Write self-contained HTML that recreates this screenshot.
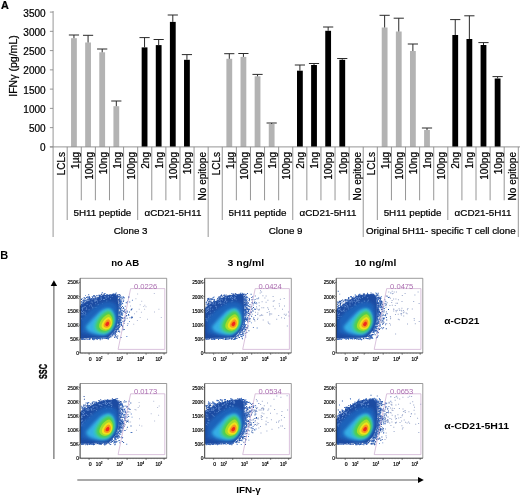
<!DOCTYPE html><html><head><meta charset="utf-8"><title>Figure</title><style>html,body{margin:0;padding:0;background:#fff}svg{display:block}text{font-family:"Liberation Sans",sans-serif}.pa text{stroke:#000;stroke-width:.22px}</style></head><body>
<svg width="520" height="496" viewBox="0 0 520 496">
<defs><filter id="b1" x="-20%" y="-20%" width="140%" height="140%"><feGaussianBlur stdDeviation="0.9"/></filter><filter id="b2" x="-20%" y="-20%" width="140%" height="140%"><feGaussianBlur stdDeviation="1.4"/></filter><filter id="b0" x="-5%" y="-5%" width="110%" height="110%"><feGaussianBlur stdDeviation="0.35"/></filter></defs>
<rect width="520" height="496" fill="#fff"/>
<g class="pa">
<text x="1" y="9" font-size="10.8" font-weight="bold" fill="#000">A</text>
<line x1="49.9" y1="146.90" x2="53.1" y2="146.90" stroke="#8a8a8a" stroke-width="0.9"/>
<text x="45.6" y="151.40" font-size="10" text-anchor="end" fill="#000">0</text>
<line x1="49.9" y1="127.64" x2="53.1" y2="127.64" stroke="#8a8a8a" stroke-width="0.9"/>
<text x="45.6" y="132.14" font-size="10" text-anchor="end" fill="#000">500</text>
<line x1="49.9" y1="108.38" x2="53.1" y2="108.38" stroke="#8a8a8a" stroke-width="0.9"/>
<text x="45.6" y="112.88" font-size="10" text-anchor="end" fill="#000">1000</text>
<line x1="49.9" y1="89.12" x2="53.1" y2="89.12" stroke="#8a8a8a" stroke-width="0.9"/>
<text x="45.6" y="93.62" font-size="10" text-anchor="end" fill="#000">1500</text>
<line x1="49.9" y1="69.86" x2="53.1" y2="69.86" stroke="#8a8a8a" stroke-width="0.9"/>
<text x="45.6" y="74.36" font-size="10" text-anchor="end" fill="#000">2000</text>
<line x1="49.9" y1="50.60" x2="53.1" y2="50.60" stroke="#8a8a8a" stroke-width="0.9"/>
<text x="45.6" y="55.10" font-size="10" text-anchor="end" fill="#000">2500</text>
<line x1="49.9" y1="31.34" x2="53.1" y2="31.34" stroke="#8a8a8a" stroke-width="0.9"/>
<text x="45.6" y="35.84" font-size="10" text-anchor="end" fill="#000">3000</text>
<line x1="49.9" y1="12.08" x2="53.1" y2="12.08" stroke="#8a8a8a" stroke-width="0.9"/>
<text x="45.6" y="16.58" font-size="10" text-anchor="end" fill="#000">3500</text>
<text transform="translate(16.9,66) rotate(-90)" font-size="10.55" text-anchor="middle" fill="#000">IFNγ (pg/mL)</text>
<rect x="71.05" y="38.20" width="5.8" height="108.70" fill="#b3b3b3"/>
<path d="M73.95 38.20V35.00M68.85 35.00H79.05" stroke="#2a2a2a" stroke-width="1" fill="none"/>
<rect x="85.17" y="42.50" width="5.8" height="104.40" fill="#b3b3b3"/>
<path d="M88.07 42.50V35.30M82.97 35.30H93.17" stroke="#2a2a2a" stroke-width="1" fill="none"/>
<rect x="99.29" y="52.30" width="5.8" height="94.60" fill="#b3b3b3"/>
<path d="M102.19 52.30V49.00M97.09 49.00H107.29" stroke="#2a2a2a" stroke-width="1" fill="none"/>
<rect x="113.42" y="106.20" width="5.8" height="40.70" fill="#b3b3b3"/>
<path d="M116.32 106.20V101.00M111.22 101.00H121.42" stroke="#2a2a2a" stroke-width="1" fill="none"/>
<rect x="141.66" y="47.40" width="5.8" height="99.50" fill="#000"/>
<path d="M144.56 47.40V37.60M139.46 37.60H149.66" stroke="#2a2a2a" stroke-width="1" fill="none"/>
<rect x="155.78" y="45.10" width="5.8" height="101.80" fill="#000"/>
<path d="M158.68 45.10V39.50M153.58 39.50H163.78" stroke="#2a2a2a" stroke-width="1" fill="none"/>
<rect x="169.90" y="21.90" width="5.8" height="125.00" fill="#000"/>
<path d="M172.80 21.90V15.00M167.70 15.00H177.90" stroke="#2a2a2a" stroke-width="1" fill="none"/>
<rect x="184.03" y="59.80" width="5.8" height="87.10" fill="#000"/>
<path d="M186.93 59.80V54.60M181.83 54.60H192.03" stroke="#2a2a2a" stroke-width="1" fill="none"/>
<rect x="226.39" y="58.80" width="5.8" height="88.10" fill="#b3b3b3"/>
<path d="M229.29 58.80V53.70M224.19 53.70H234.39" stroke="#2a2a2a" stroke-width="1" fill="none"/>
<rect x="240.51" y="56.90" width="5.8" height="90.00" fill="#b3b3b3"/>
<path d="M243.41 56.90V53.50M238.31 53.50H248.51" stroke="#2a2a2a" stroke-width="1" fill="none"/>
<rect x="254.64" y="76.30" width="5.8" height="70.60" fill="#b3b3b3"/>
<path d="M257.54 76.30V74.40M252.44 74.40H262.64" stroke="#2a2a2a" stroke-width="1" fill="none"/>
<rect x="268.76" y="124.00" width="5.8" height="22.90" fill="#b3b3b3"/>
<path d="M271.66 124.00V123.00M266.56 123.00H276.76" stroke="#2a2a2a" stroke-width="1" fill="none"/>
<rect x="297.00" y="70.70" width="5.8" height="76.20" fill="#000"/>
<path d="M299.90 70.70V65.00M294.80 65.00H305.00" stroke="#2a2a2a" stroke-width="1" fill="none"/>
<rect x="311.12" y="65.00" width="5.8" height="81.90" fill="#000"/>
<path d="M314.02 65.00V63.50M308.92 63.50H319.12" stroke="#2a2a2a" stroke-width="1" fill="none"/>
<rect x="325.25" y="30.80" width="5.8" height="116.10" fill="#000"/>
<path d="M328.15 30.80V27.00M323.05 27.00H333.25" stroke="#2a2a2a" stroke-width="1" fill="none"/>
<rect x="339.37" y="59.80" width="5.8" height="87.10" fill="#000"/>
<path d="M342.27 59.80V58.50M337.17 58.50H347.37" stroke="#2a2a2a" stroke-width="1" fill="none"/>
<rect x="381.73" y="27.50" width="5.8" height="119.40" fill="#b3b3b3"/>
<path d="M384.63 27.50V15.30M379.53 15.30H389.73" stroke="#2a2a2a" stroke-width="1" fill="none"/>
<rect x="395.86" y="31.50" width="5.8" height="115.40" fill="#b3b3b3"/>
<path d="M398.76 31.50V18.20M393.66 18.20H403.86" stroke="#2a2a2a" stroke-width="1" fill="none"/>
<rect x="409.98" y="51.00" width="5.8" height="95.90" fill="#b3b3b3"/>
<path d="M412.88 51.00V44.00M407.78 44.00H417.98" stroke="#2a2a2a" stroke-width="1" fill="none"/>
<rect x="424.10" y="130.00" width="5.8" height="16.90" fill="#b3b3b3"/>
<path d="M427.00 130.00V128.00M421.90 128.00H432.10" stroke="#2a2a2a" stroke-width="1" fill="none"/>
<rect x="452.34" y="35.00" width="5.8" height="111.90" fill="#000"/>
<path d="M455.24 35.00V19.60M450.14 19.60H460.34" stroke="#2a2a2a" stroke-width="1" fill="none"/>
<rect x="466.47" y="39.00" width="5.8" height="107.90" fill="#000"/>
<path d="M469.37 39.00V15.80M464.27 15.80H474.47" stroke="#2a2a2a" stroke-width="1" fill="none"/>
<rect x="480.59" y="45.00" width="5.8" height="101.90" fill="#000"/>
<path d="M483.49 45.00V42.60M478.39 42.60H488.59" stroke="#2a2a2a" stroke-width="1" fill="none"/>
<rect x="494.71" y="78.50" width="5.8" height="68.40" fill="#000"/>
<path d="M497.61 78.50V76.60M492.51 76.60H502.71" stroke="#2a2a2a" stroke-width="1" fill="none"/>
<line x1="53.1" y1="11" x2="53.1" y2="146.9" stroke="#8a8a8a" stroke-width="0.9"/>
<line x1="49.9" y1="146.9" x2="520" y2="146.9" stroke="#8a8a8a" stroke-width="0.9"/>
<line x1="53.10" y1="146.9" x2="53.10" y2="237" stroke="#8a8a8a" stroke-width="0.9"/>
<line x1="67.20" y1="146.9" x2="67.20" y2="220" stroke="#8a8a8a" stroke-width="0.9"/>
<line x1="81.29" y1="146.9" x2="81.29" y2="200.3" stroke="#8a8a8a" stroke-width="0.9"/>
<line x1="95.39" y1="146.9" x2="95.39" y2="200.3" stroke="#8a8a8a" stroke-width="0.9"/>
<line x1="109.49" y1="146.9" x2="109.49" y2="200.3" stroke="#8a8a8a" stroke-width="0.9"/>
<line x1="123.59" y1="146.9" x2="123.59" y2="200.3" stroke="#8a8a8a" stroke-width="0.9"/>
<line x1="137.68" y1="146.9" x2="137.68" y2="220" stroke="#8a8a8a" stroke-width="0.9"/>
<line x1="151.78" y1="146.9" x2="151.78" y2="200.3" stroke="#8a8a8a" stroke-width="0.9"/>
<line x1="165.88" y1="146.9" x2="165.88" y2="200.3" stroke="#8a8a8a" stroke-width="0.9"/>
<line x1="179.97" y1="146.9" x2="179.97" y2="200.3" stroke="#8a8a8a" stroke-width="0.9"/>
<line x1="194.07" y1="146.9" x2="194.07" y2="200.3" stroke="#8a8a8a" stroke-width="0.9"/>
<line x1="208.17" y1="146.9" x2="208.17" y2="237" stroke="#8a8a8a" stroke-width="0.9"/>
<line x1="222.26" y1="146.9" x2="222.26" y2="220" stroke="#8a8a8a" stroke-width="0.9"/>
<line x1="236.36" y1="146.9" x2="236.36" y2="200.3" stroke="#8a8a8a" stroke-width="0.9"/>
<line x1="250.46" y1="146.9" x2="250.46" y2="200.3" stroke="#8a8a8a" stroke-width="0.9"/>
<line x1="264.56" y1="146.9" x2="264.56" y2="200.3" stroke="#8a8a8a" stroke-width="0.9"/>
<line x1="278.65" y1="146.9" x2="278.65" y2="200.3" stroke="#8a8a8a" stroke-width="0.9"/>
<line x1="292.75" y1="146.9" x2="292.75" y2="220" stroke="#8a8a8a" stroke-width="0.9"/>
<line x1="306.85" y1="146.9" x2="306.85" y2="200.3" stroke="#8a8a8a" stroke-width="0.9"/>
<line x1="320.94" y1="146.9" x2="320.94" y2="200.3" stroke="#8a8a8a" stroke-width="0.9"/>
<line x1="335.04" y1="146.9" x2="335.04" y2="200.3" stroke="#8a8a8a" stroke-width="0.9"/>
<line x1="349.14" y1="146.9" x2="349.14" y2="200.3" stroke="#8a8a8a" stroke-width="0.9"/>
<line x1="363.23" y1="146.9" x2="363.23" y2="237" stroke="#8a8a8a" stroke-width="0.9"/>
<line x1="377.33" y1="146.9" x2="377.33" y2="220" stroke="#8a8a8a" stroke-width="0.9"/>
<line x1="391.43" y1="146.9" x2="391.43" y2="200.3" stroke="#8a8a8a" stroke-width="0.9"/>
<line x1="405.53" y1="146.9" x2="405.53" y2="200.3" stroke="#8a8a8a" stroke-width="0.9"/>
<line x1="419.62" y1="146.9" x2="419.62" y2="200.3" stroke="#8a8a8a" stroke-width="0.9"/>
<line x1="433.72" y1="146.9" x2="433.72" y2="200.3" stroke="#8a8a8a" stroke-width="0.9"/>
<line x1="447.82" y1="146.9" x2="447.82" y2="220" stroke="#8a8a8a" stroke-width="0.9"/>
<line x1="461.91" y1="146.9" x2="461.91" y2="200.3" stroke="#8a8a8a" stroke-width="0.9"/>
<line x1="476.01" y1="146.9" x2="476.01" y2="200.3" stroke="#8a8a8a" stroke-width="0.9"/>
<line x1="490.11" y1="146.9" x2="490.11" y2="200.3" stroke="#8a8a8a" stroke-width="0.9"/>
<line x1="504.20" y1="146.9" x2="504.20" y2="200.3" stroke="#8a8a8a" stroke-width="0.9"/>
<line x1="518.30" y1="146.9" x2="518.30" y2="237" stroke="#8a8a8a" stroke-width="0.9"/>
<text transform="translate(64.60,152.0) rotate(-90)" font-size="10" text-anchor="end" fill="#000">LCLs</text>
<text transform="translate(78.70,152.0) rotate(-90)" font-size="10" text-anchor="end" fill="#000">1µg</text>
<text transform="translate(92.79,152.0) rotate(-90)" font-size="10" text-anchor="end" fill="#000">100ng</text>
<text transform="translate(106.89,152.0) rotate(-90)" font-size="10" text-anchor="end" fill="#000">10ng</text>
<text transform="translate(120.99,152.0) rotate(-90)" font-size="10" text-anchor="end" fill="#000">1ng</text>
<text transform="translate(135.08,152.0) rotate(-90)" font-size="10" text-anchor="end" fill="#000">100pg</text>
<text transform="translate(149.18,152.0) rotate(-90)" font-size="10" text-anchor="end" fill="#000">2ng</text>
<text transform="translate(163.28,152.0) rotate(-90)" font-size="10" text-anchor="end" fill="#000">1ng</text>
<text transform="translate(177.37,152.0) rotate(-90)" font-size="10" text-anchor="end" fill="#000">100pg</text>
<text transform="translate(191.47,152.0) rotate(-90)" font-size="10" text-anchor="end" fill="#000">10pg</text>
<text transform="translate(205.57,152.0) rotate(-90)" font-size="10" text-anchor="end" fill="#000">No epitope</text>
<text transform="translate(219.67,152.0) rotate(-90)" font-size="10" text-anchor="end" fill="#000">LCLs</text>
<text transform="translate(233.76,152.0) rotate(-90)" font-size="10" text-anchor="end" fill="#000">1µg</text>
<text transform="translate(247.86,152.0) rotate(-90)" font-size="10" text-anchor="end" fill="#000">100ng</text>
<text transform="translate(261.96,152.0) rotate(-90)" font-size="10" text-anchor="end" fill="#000">10ng</text>
<text transform="translate(276.05,152.0) rotate(-90)" font-size="10" text-anchor="end" fill="#000">1ng</text>
<text transform="translate(290.15,152.0) rotate(-90)" font-size="10" text-anchor="end" fill="#000">100pg</text>
<text transform="translate(304.25,152.0) rotate(-90)" font-size="10" text-anchor="end" fill="#000">2ng</text>
<text transform="translate(318.34,152.0) rotate(-90)" font-size="10" text-anchor="end" fill="#000">1ng</text>
<text transform="translate(332.44,152.0) rotate(-90)" font-size="10" text-anchor="end" fill="#000">100pg</text>
<text transform="translate(346.54,152.0) rotate(-90)" font-size="10" text-anchor="end" fill="#000">10pg</text>
<text transform="translate(360.64,152.0) rotate(-90)" font-size="10" text-anchor="end" fill="#000">No epitope</text>
<text transform="translate(374.73,152.0) rotate(-90)" font-size="10" text-anchor="end" fill="#000">LCLs</text>
<text transform="translate(388.83,152.0) rotate(-90)" font-size="10" text-anchor="end" fill="#000">1µg</text>
<text transform="translate(402.93,152.0) rotate(-90)" font-size="10" text-anchor="end" fill="#000">100ng</text>
<text transform="translate(417.02,152.0) rotate(-90)" font-size="10" text-anchor="end" fill="#000">10ng</text>
<text transform="translate(431.12,152.0) rotate(-90)" font-size="10" text-anchor="end" fill="#000">1ng</text>
<text transform="translate(445.22,152.0) rotate(-90)" font-size="10" text-anchor="end" fill="#000">100pg</text>
<text transform="translate(459.31,152.0) rotate(-90)" font-size="10" text-anchor="end" fill="#000">2ng</text>
<text transform="translate(473.41,152.0) rotate(-90)" font-size="10" text-anchor="end" fill="#000">1ng</text>
<text transform="translate(487.51,152.0) rotate(-90)" font-size="10" text-anchor="end" fill="#000">100pg</text>
<text transform="translate(501.61,152.0) rotate(-90)" font-size="10" text-anchor="end" fill="#000">10pg</text>
<text transform="translate(515.70,152.0) rotate(-90)" font-size="10" text-anchor="end" fill="#000">No epitope</text>
<text x="102.44" y="216.1" font-size="9.85" text-anchor="middle" fill="#000">5H11 peptide</text>
<text x="172.92" y="216.1" font-size="9.85" text-anchor="middle" fill="#000">αCD21-5H11</text>
<text x="130.63" y="234.1" font-size="9.8" text-anchor="middle" fill="#000">Clone 3</text>
<text x="257.51" y="216.1" font-size="9.85" text-anchor="middle" fill="#000">5H11 peptide</text>
<text x="327.99" y="216.1" font-size="9.85" text-anchor="middle" fill="#000">αCD21-5H11</text>
<text x="285.70" y="234.1" font-size="9.8" text-anchor="middle" fill="#000">Clone 9</text>
<text x="412.57" y="216.1" font-size="9.85" text-anchor="middle" fill="#000">5H11 peptide</text>
<text x="483.06" y="216.1" font-size="9.85" text-anchor="middle" fill="#000">αCD21-5H11</text>
<text x="440.77" y="234.1" font-size="9.8" text-anchor="middle" fill="#000">Original 5H11- specific T cell clone</text>
</g>
<text x="0.3" y="258.6" font-size="11" font-weight="bold" fill="#000">B</text>
<text x="111.2" y="266" font-size="8.9" font-weight="bold" textLength="28.0" lengthAdjust="spacingAndGlyphs" fill="#000">no AB</text>
<text x="227.5" y="266" font-size="8.9" font-weight="bold" textLength="36.7" lengthAdjust="spacingAndGlyphs" fill="#000">3 ng/ml</text>
<text x="354.8" y="266" font-size="8.9" font-weight="bold" textLength="41.5" lengthAdjust="spacingAndGlyphs" fill="#000">10 ng/ml</text>
<g transform="translate(80.1,278.8)"><g filter="url(#b0)"><path d="M11.9 17.9h1.0v1.0h-1.0zM29.0 57.8h1.0v1.0h-1.0zM38.7 19.6h1.0v1.0h-1.0zM15.1 18.8h1.0v1.0h-1.0zM0.9 20.1h1.0v1.0h-1.0zM38.8 22.4h1.0v1.0h-1.0zM46.7 32.7h1.0v1.0h-1.0zM39.1 28.5h1.0v1.0h-1.0zM33.0 54.2h1.0v1.0h-1.0zM48.2 17.9h1.0v1.0h-1.0zM15.8 59.3h1.0v1.0h-1.0zM42.3 48.7h1.0v1.0h-1.0zM39.3 19.1h1.0v1.0h-1.0zM10.8 19.1h1.0v1.0h-1.0zM2.7 21.7h1.0v1.0h-1.0zM35.5 15.6h1.0v1.0h-1.0zM41.5 36.2h1.0v1.0h-1.0zM24.3 14.3h1.0v1.0h-1.0zM40.6 34.2h1.0v1.0h-1.0zM6.0 18.2h1.0v1.0h-1.0zM39.3 41.8h1.0v1.0h-1.0zM40.4 38.0h1.0v1.0h-1.0zM41.8 27.3h1.0v1.0h-1.0zM15.1 19.0h1.0v1.0h-1.0zM34.8 52.9h1.0v1.0h-1.0zM46.1 36.1h1.0v1.0h-1.0zM30.2 57.4h1.0v1.0h-1.0zM37.2 16.2h1.0v1.0h-1.0zM1.7 60.1h1.0v1.0h-1.0zM15.4 18.9h1.0v1.0h-1.0zM10.4 21.2h1.0v1.0h-1.0zM38.3 45.6h1.0v1.0h-1.0zM21.8 16.5h1.0v1.0h-1.0zM43.3 18.6h1.0v1.0h-1.0zM35.6 52.1h1.0v1.0h-1.0zM43.7 38.1h1.0v1.0h-1.0zM36.8 17.4h1.0v1.0h-1.0zM27.5 58.6h1.0v1.0h-1.0zM9.7 20.1h1.0v1.0h-1.0zM38.8 26.6h1.0v1.0h-1.0zM8.5 19.3h1.0v1.0h-1.0zM13.8 16.5h1.0v1.0h-1.0zM8.5 20.1h1.0v1.0h-1.0zM40.9 45.5h1.0v1.0h-1.0zM43.6 50.2h1.0v1.0h-1.0zM16.5 58.8h1.0v1.0h-1.0zM35.0 56.4h1.0v1.0h-1.0zM7.7 20.7h1.0v1.0h-1.0zM37.7 46.0h1.0v1.0h-1.0zM39.3 20.6h1.0v1.0h-1.0zM38.9 47.9h1.0v1.0h-1.0zM39.9 17.8h1.0v1.0h-1.0zM43.6 18.4h1.0v1.0h-1.0zM38.7 35.6h1.0v1.0h-1.0zM3.5 18.4h1.0v1.0h-1.0zM35.1 50.6h1.0v1.0h-1.0zM37.9 20.5h1.0v1.0h-1.0zM32.2 56.4h1.0v1.0h-1.0zM40.2 29.9h1.0v1.0h-1.0zM5.4 59.9h1.0v1.0h-1.0zM39.9 29.3h1.0v1.0h-1.0zM13.1 60.4h1.0v1.0h-1.0zM37.4 46.8h1.0v1.0h-1.0zM39.1 18.5h1.0v1.0h-1.0zM13.2 16.3h1.0v1.0h-1.0zM8.9 17.5h1.0v1.0h-1.0zM25.6 58.9h1.0v1.0h-1.0zM30.1 56.7h1.0v1.0h-1.0zM37.7 17.2h1.0v1.0h-1.0zM26.9 58.4h1.0v1.0h-1.0zM42.5 32.0h1.0v1.0h-1.0zM50.9 30.0h1.0v1.0h-1.0zM34.7 15.6h1.0v1.0h-1.0zM38.2 17.1h1.0v1.0h-1.0zM39.4 46.8h1.0v1.0h-1.0zM38.5 32.8h1.0v1.0h-1.0zM11.8 59.4h1.0v1.0h-1.0zM38.2 42.5h1.0v1.0h-1.0zM4.9 19.4h1.0v1.0h-1.0zM41.1 46.2h1.0v1.0h-1.0zM43.3 32.1h1.0v1.0h-1.0zM33.1 53.1h1.0v1.0h-1.0zM39.8 20.7h1.0v1.0h-1.0zM36.4 47.2h1.0v1.0h-1.0zM40.7 38.4h1.0v1.0h-1.0zM41.7 39.1h1.0v1.0h-1.0zM39.7 40.1h1.0v1.0h-1.0zM36.8 59.0h1.0v1.0h-1.0zM40.4 58.3h1.0v1.0h-1.0zM40.0 22.5h1.0v1.0h-1.0zM38.6 17.2h1.0v1.0h-1.0zM42.7 22.2h1.0v1.0h-1.0zM38.3 43.1h1.0v1.0h-1.0zM14.6 17.1h1.0v1.0h-1.0zM2.7 20.6h1.0v1.0h-1.0zM36.5 46.6h1.0v1.0h-1.0zM39.5 37.6h1.0v1.0h-1.0zM19.7 60.4h1.0v1.0h-1.0zM36.5 50.4h1.0v1.0h-1.0zM35.9 50.3h1.0v1.0h-1.0zM39.7 36.7h1.0v1.0h-1.0zM36.2 58.0h1.0v1.0h-1.0zM12.0 17.6h1.0v1.0h-1.0zM38.4 44.9h1.0v1.0h-1.0zM47.9 35.3h1.0v1.0h-1.0zM38.5 37.7h1.0v1.0h-1.0zM20.2 16.7h1.0v1.0h-1.0zM38.5 33.1h1.0v1.0h-1.0zM9.3 18.8h1.0v1.0h-1.0zM32.7 53.9h1.0v1.0h-1.0zM39.9 33.5h1.0v1.0h-1.0zM48.8 32.8h1.0v1.0h-1.0zM43.5 39.3h1.0v1.0h-1.0zM28.5 58.4h1.0v1.0h-1.0zM35.0 15.2h1.0v1.0h-1.0zM39.4 29.8h1.0v1.0h-1.0zM12.6 19.0h1.0v1.0h-1.0zM1.2 59.9h1.0v1.0h-1.0zM38.4 20.3h1.0v1.0h-1.0zM38.6 37.1h1.0v1.0h-1.0zM35.6 13.8h1.0v1.0h-1.0zM37.5 44.0h1.0v1.0h-1.0zM37.9 43.0h1.0v1.0h-1.0zM34.9 54.4h1.0v1.0h-1.0zM6.6 17.8h1.0v1.0h-1.0zM38.4 37.8h1.0v1.0h-1.0zM7.2 17.8h1.0v1.0h-1.0zM6.4 22.7h1.0v1.0h-1.0zM33.5 15.6h1.0v1.0h-1.0zM27.8 58.6h1.0v1.0h-1.0zM37.7 47.4h1.0v1.0h-1.0zM39.8 16.0h1.0v1.0h-1.0zM38.3 29.4h1.0v1.0h-1.0zM40.8 44.6h1.0v1.0h-1.0zM5.0 23.8h1.0v1.0h-1.0zM39.8 20.8h1.0v1.0h-1.0zM39.2 19.6h1.0v1.0h-1.0zM39.0 33.8h1.0v1.0h-1.0zM12.1 21.0h1.0v1.0h-1.0zM5.4 21.9h1.0v1.0h-1.0zM42.4 50.4h1.0v1.0h-1.0zM43.5 42.3h1.0v1.0h-1.0zM21.6 59.0h1.0v1.0h-1.0zM38.5 44.1h1.0v1.0h-1.0zM34.3 52.2h1.0v1.0h-1.0zM13.5 60.3h1.0v1.0h-1.0zM39.2 23.0h1.0v1.0h-1.0zM38.7 33.2h1.0v1.0h-1.0zM38.7 15.2h1.0v1.0h-1.0zM37.2 17.5h1.0v1.0h-1.0zM39.7 29.9h1.0v1.0h-1.0zM8.5 18.1h1.0v1.0h-1.0zM16.6 19.0h1.0v1.0h-1.0zM27.2 58.9h1.0v1.0h-1.0zM18.7 18.3h1.0v1.0h-1.0zM9.3 21.1h1.0v1.0h-1.0zM5.2 21.2h1.0v1.0h-1.0zM38.4 43.7h1.0v1.0h-1.0zM37.1 16.1h1.0v1.0h-1.0zM39.9 27.4h1.0v1.0h-1.0zM9.0 19.6h1.0v1.0h-1.0zM40.8 28.1h1.0v1.0h-1.0zM27.7 59.2h1.0v1.0h-1.0zM31.4 55.3h1.0v1.0h-1.0zM22.7 14.9h1.0v1.0h-1.0zM3.7 18.6h1.0v1.0h-1.0zM38.4 41.7h1.0v1.0h-1.0zM37.8 52.2h1.0v1.0h-1.0zM8.9 18.5h1.0v1.0h-1.0zM37.2 56.6h1.0v1.0h-1.0zM43.1 29.2h1.0v1.0h-1.0zM11.1 20.4h1.0v1.0h-1.0zM37.4 17.9h1.0v1.0h-1.0zM9.4 22.3h1.0v1.0h-1.0zM44.8 33.2h1.0v1.0h-1.0zM40.4 24.6h1.0v1.0h-1.0zM0.8 25.2h1.0v1.0h-1.0zM34.3 53.5h1.0v1.0h-1.0zM12.0 59.3h1.0v1.0h-1.0zM28.5 16.1h1.0v1.0h-1.0zM38.4 41.0h1.0v1.0h-1.0zM37.1 48.9h1.0v1.0h-1.0zM40.0 33.4h1.0v1.0h-1.0zM38.3 38.4h1.0v1.0h-1.0zM19.3 17.9h1.0v1.0h-1.0zM24.3 16.6h1.0v1.0h-1.0zM40.6 22.0h1.0v1.0h-1.0zM38.7 37.4h1.0v1.0h-1.0zM39.2 33.7h1.0v1.0h-1.0zM37.6 48.0h1.0v1.0h-1.0zM29.1 15.7h1.0v1.0h-1.0zM38.1 39.3h1.0v1.0h-1.0zM39.6 41.3h1.0v1.0h-1.0zM39.2 47.1h1.0v1.0h-1.0zM3.5 18.4h1.0v1.0h-1.0zM37.3 15.3h1.0v1.0h-1.0zM32.0 14.9h1.0v1.0h-1.0zM1.6 59.6h1.0v1.0h-1.0zM14.0 59.1h1.0v1.0h-1.0zM50.5 30.6h1.0v1.0h-1.0zM27.5 59.8h1.0v1.0h-1.0zM9.2 59.8h1.0v1.0h-1.0zM35.1 50.3h1.0v1.0h-1.0zM39.2 21.4h1.0v1.0h-1.0zM21.2 14.8h1.0v1.0h-1.0zM35.7 48.5h1.0v1.0h-1.0zM36.4 16.5h1.0v1.0h-1.0zM16.0 59.4h1.0v1.0h-1.0zM38.1 48.6h1.0v1.0h-1.0zM21.4 58.9h1.0v1.0h-1.0zM38.1 20.9h1.0v1.0h-1.0zM7.3 22.2h1.0v1.0h-1.0zM38.9 24.5h1.0v1.0h-1.0zM44.4 40.8h1.0v1.0h-1.0zM30.0 15.6h1.0v1.0h-1.0zM3.7 22.7h1.0v1.0h-1.0zM36.2 52.6h1.0v1.0h-1.0zM38.9 40.5h1.0v1.0h-1.0zM16.4 58.9h1.0v1.0h-1.0zM36.1 47.5h1.0v1.0h-1.0zM40.6 43.3h1.0v1.0h-1.0zM39.9 23.5h1.0v1.0h-1.0zM9.6 59.6h1.0v1.0h-1.0zM34.1 54.0h1.0v1.0h-1.0zM38.6 21.0h1.0v1.0h-1.0zM20.7 15.3h1.0v1.0h-1.0zM39.6 22.2h1.0v1.0h-1.0zM2.3 24.5h1.0v1.0h-1.0zM39.3 45.2h1.0v1.0h-1.0zM38.4 33.6h1.0v1.0h-1.0zM2.2 21.7h1.0v1.0h-1.0zM8.6 60.3h1.0v1.0h-1.0zM41.1 33.4h1.0v1.0h-1.0zM39.8 23.7h1.0v1.0h-1.0zM39.8 37.8h1.0v1.0h-1.0zM51.1 37.7h1.0v1.0h-1.0zM39.2 43.7h1.0v1.0h-1.0zM42.2 46.6h1.0v1.0h-1.0zM34.6 51.9h1.0v1.0h-1.0zM21.0 17.1h1.0v1.0h-1.0zM34.3 57.8h1.0v1.0h-1.0zM35.4 50.6h1.0v1.0h-1.0zM6.0 21.9h1.0v1.0h-1.0zM1.2 25.1h1.0v1.0h-1.0zM40.6 43.1h1.0v1.0h-1.0zM38.6 43.2h1.0v1.0h-1.0zM2.7 23.2h1.0v1.0h-1.0zM12.6 59.3h1.0v1.0h-1.0zM37.9 42.3h1.0v1.0h-1.0zM40.5 25.5h1.0v1.0h-1.0zM38.1 37.6h1.0v1.0h-1.0zM35.6 52.7h1.0v1.0h-1.0zM13.3 59.9h1.0v1.0h-1.0zM38.2 44.2h1.0v1.0h-1.0zM31.6 55.3h1.0v1.0h-1.0zM36.1 49.6h1.0v1.0h-1.0zM38.6 40.9h1.0v1.0h-1.0zM16.5 60.0h1.0v1.0h-1.0zM8.3 21.9h1.0v1.0h-1.0zM22.8 16.6h1.0v1.0h-1.0zM19.1 15.9h1.0v1.0h-1.0zM39.1 52.6h1.0v1.0h-1.0zM38.7 41.1h1.0v1.0h-1.0zM3.2 23.4h1.0v1.0h-1.0zM40.7 35.2h1.0v1.0h-1.0zM39.3 31.9h1.0v1.0h-1.0zM5.3 23.1h1.0v1.0h-1.0zM26.5 58.7h1.0v1.0h-1.0zM9.6 19.6h1.0v1.0h-1.0zM37.7 49.7h1.0v1.0h-1.0zM40.8 43.1h1.0v1.0h-1.0zM41.1 38.2h1.0v1.0h-1.0zM4.9 24.3h1.0v1.0h-1.0zM14.6 59.4h1.0v1.0h-1.0zM16.9 58.8h1.0v1.0h-1.0zM39.3 21.8h1.0v1.0h-1.0zM40.1 31.9h1.0v1.0h-1.0zM41.0 19.6h1.0v1.0h-1.0zM36.9 49.9h1.0v1.0h-1.0zM38.1 26.9h1.0v1.0h-1.0zM38.7 28.8h1.0v1.0h-1.0zM4.0 20.7h1.0v1.0h-1.0zM24.0 15.4h1.0v1.0h-1.0zM2.5 59.4h1.0v1.0h-1.0zM0.6 26.9h1.0v1.0h-1.0zM36.1 49.9h1.0v1.0h-1.0zM18.2 16.0h1.0v1.0h-1.0zM41.9 47.1h1.0v1.0h-1.0zM23.7 58.9h1.0v1.0h-1.0zM26.0 59.3h1.0v1.0h-1.0zM45.4 37.0h1.0v1.0h-1.0zM8.1 15.5h1.0v1.0h-1.0zM9.5 59.2h1.0v1.0h-1.0zM34.4 55.7h1.0v1.0h-1.0zM32.3 54.4h1.0v1.0h-1.0zM38.6 34.3h1.0v1.0h-1.0zM38.3 28.8h1.0v1.0h-1.0zM40.8 40.6h1.0v1.0h-1.0zM18.6 17.6h1.0v1.0h-1.0zM13.1 17.0h1.0v1.0h-1.0zM14.9 18.5h1.0v1.0h-1.0zM38.8 24.7h1.0v1.0h-1.0zM34.1 58.1h1.0v1.0h-1.0zM44.4 32.9h1.0v1.0h-1.0zM44.0 31.0h1.0v1.0h-1.0zM38.6 34.2h1.0v1.0h-1.0zM43.3 42.3h1.0v1.0h-1.0zM41.9 34.8h1.0v1.0h-1.0zM40.0 25.3h1.0v1.0h-1.0zM26.8 15.7h1.0v1.0h-1.0zM37.0 17.1h1.0v1.0h-1.0zM21.5 59.6h1.0v1.0h-1.0zM38.8 39.6h1.0v1.0h-1.0zM9.5 21.9h1.0v1.0h-1.0zM38.8 42.7h1.0v1.0h-1.0zM38.3 46.1h1.0v1.0h-1.0zM31.7 56.4h1.0v1.0h-1.0zM51.9 38.0h1.0v1.0h-1.0zM9.0 59.7h1.0v1.0h-1.0zM9.2 59.2h1.0v1.0h-1.0zM38.4 44.3h1.0v1.0h-1.0zM6.7 23.1h1.0v1.0h-1.0zM3.6 21.6h1.0v1.0h-1.0zM1.2 60.0h1.0v1.0h-1.0zM38.7 43.1h1.0v1.0h-1.0zM43.5 44.0h1.0v1.0h-1.0zM15.8 16.4h1.0v1.0h-1.0zM13.0 19.6h1.0v1.0h-1.0zM14.3 59.2h1.0v1.0h-1.0zM3.4 22.7h1.0v1.0h-1.0zM39.9 41.6h1.0v1.0h-1.0zM19.0 16.9h1.0v1.0h-1.0zM39.8 31.5h1.0v1.0h-1.0zM51.1 38.7h1.0v1.0h-1.0zM41.2 38.8h1.0v1.0h-1.0zM23.1 16.3h1.0v1.0h-1.0zM4.1 60.3h1.0v1.0h-1.0zM40.3 38.4h1.0v1.0h-1.0zM32.7 54.7h1.0v1.0h-1.0zM7.2 19.9h1.0v1.0h-1.0zM40.2 22.1h1.0v1.0h-1.0zM10.4 20.3h1.0v1.0h-1.0zM39.0 39.5h1.0v1.0h-1.0zM28.6 58.0h1.0v1.0h-1.0zM37.5 45.9h1.0v1.0h-1.0zM3.1 24.8h1.0v1.0h-1.0zM17.9 59.2h1.0v1.0h-1.0zM38.9 33.6h1.0v1.0h-1.0zM38.3 50.9h1.0v1.0h-1.0zM38.5 45.3h1.0v1.0h-1.0z" fill="#2450a4"/><path d="M30.6 56.5h0.9v0.9h-0.9zM25.2 58.7h0.9v0.9h-0.9zM4.3 18.7h0.9v0.9h-0.9zM1.5 19.3h0.9v0.9h-0.9zM39.1 33.7h0.9v0.9h-0.9zM38.6 33.8h0.9v0.9h-0.9zM18.7 59.5h0.9v0.9h-0.9zM20.0 59.2h0.9v0.9h-0.9zM39.9 30.2h0.9v0.9h-0.9zM40.8 45.8h0.9v0.9h-0.9zM41.1 34.8h0.9v0.9h-0.9zM39.1 29.0h0.9v0.9h-0.9zM12.2 59.9h0.9v0.9h-0.9zM40.5 24.7h0.9v0.9h-0.9zM6.9 60.1h0.9v0.9h-0.9zM41.3 31.2h0.9v0.9h-0.9zM9.3 18.6h0.9v0.9h-0.9zM7.9 17.6h0.9v0.9h-0.9zM45.0 33.1h0.9v0.9h-0.9zM26.6 15.7h0.9v0.9h-0.9zM37.5 17.6h0.9v0.9h-0.9zM20.0 59.6h0.9v0.9h-0.9zM40.5 21.3h0.9v0.9h-0.9zM43.2 21.0h0.9v0.9h-0.9zM36.1 47.1h0.9v0.9h-0.9zM3.7 24.2h0.9v0.9h-0.9zM28.9 58.4h0.9v0.9h-0.9zM39.1 42.0h0.9v0.9h-0.9zM21.7 13.2h0.9v0.9h-0.9zM16.8 60.4h0.9v0.9h-0.9zM30.3 57.7h0.9v0.9h-0.9zM34.7 14.3h0.9v0.9h-0.9zM36.2 51.4h0.9v0.9h-0.9zM43.0 28.2h0.9v0.9h-0.9zM2.4 23.5h0.9v0.9h-0.9zM39.0 41.6h0.9v0.9h-0.9zM39.3 43.6h0.9v0.9h-0.9zM38.8 24.5h0.9v0.9h-0.9zM34.0 55.1h0.9v0.9h-0.9zM42.2 35.6h0.9v0.9h-0.9zM11.4 19.4h0.9v0.9h-0.9zM41.0 31.4h0.9v0.9h-0.9zM46.3 57.2h0.9v0.9h-0.9zM42.3 31.1h0.9v0.9h-0.9zM7.3 59.9h0.9v0.9h-0.9zM26.9 59.1h0.9v0.9h-0.9zM7.7 18.7h0.9v0.9h-0.9zM38.4 25.5h0.9v0.9h-0.9zM40.0 22.1h0.9v0.9h-0.9zM40.2 26.2h0.9v0.9h-0.9zM5.8 23.6h0.9v0.9h-0.9zM38.0 25.2h0.9v0.9h-0.9zM44.7 27.0h0.9v0.9h-0.9zM41.0 34.3h0.9v0.9h-0.9zM5.9 20.8h0.9v0.9h-0.9zM44.5 30.3h0.9v0.9h-0.9zM39.8 38.6h0.9v0.9h-0.9zM2.3 59.8h0.9v0.9h-0.9zM32.7 15.7h0.9v0.9h-0.9zM24.9 16.3h0.9v0.9h-0.9zM1.0 23.8h0.9v0.9h-0.9zM39.6 23.1h0.9v0.9h-0.9zM21.8 59.4h0.9v0.9h-0.9zM42.3 18.1h0.9v0.9h-0.9zM2.2 24.4h0.9v0.9h-0.9zM38.1 37.9h0.9v0.9h-0.9zM5.7 59.6h0.9v0.9h-0.9zM38.0 39.5h0.9v0.9h-0.9zM42.5 20.7h0.9v0.9h-0.9zM39.3 24.5h0.9v0.9h-0.9zM46.6 31.7h0.9v0.9h-0.9zM1.5 23.1h0.9v0.9h-0.9zM5.0 16.1h0.9v0.9h-0.9zM27.8 59.7h0.9v0.9h-0.9zM39.6 31.9h0.9v0.9h-0.9zM38.2 40.1h0.9v0.9h-0.9zM42.2 24.5h0.9v0.9h-0.9zM1.7 25.0h0.9v0.9h-0.9zM46.6 23.6h0.9v0.9h-0.9zM1.3 59.6h0.9v0.9h-0.9zM19.5 59.3h0.9v0.9h-0.9zM20.9 17.6h0.9v0.9h-0.9zM40.4 35.2h0.9v0.9h-0.9zM41.9 24.3h0.9v0.9h-0.9zM37.2 17.3h0.9v0.9h-0.9zM37.5 44.6h0.9v0.9h-0.9zM35.6 57.2h0.9v0.9h-0.9zM38.4 26.8h0.9v0.9h-0.9zM39.2 40.5h0.9v0.9h-0.9zM36.4 48.5h0.9v0.9h-0.9zM41.4 23.4h0.9v0.9h-0.9zM39.7 32.2h0.9v0.9h-0.9zM51.8 21.0h0.9v0.9h-0.9zM39.1 26.4h0.9v0.9h-0.9zM46.6 39.0h0.9v0.9h-0.9zM3.5 24.0h0.9v0.9h-0.9zM45.6 23.5h0.9v0.9h-0.9zM15.6 59.1h0.9v0.9h-0.9zM38.0 42.3h0.9v0.9h-0.9zM46.4 23.5h0.9v0.9h-0.9zM26.5 58.6h0.9v0.9h-0.9zM36.0 51.0h0.9v0.9h-0.9zM38.2 40.0h0.9v0.9h-0.9zM39.7 43.7h0.9v0.9h-0.9zM40.3 18.3h0.9v0.9h-0.9zM19.6 17.8h0.9v0.9h-0.9zM37.0 48.9h0.9v0.9h-0.9zM20.4 17.0h0.9v0.9h-0.9zM41.1 17.7h0.9v0.9h-0.9zM41.8 38.1h0.9v0.9h-0.9zM43.8 38.6h0.9v0.9h-0.9zM40.4 23.9h0.9v0.9h-0.9zM37.9 37.3h0.9v0.9h-0.9zM13.8 59.6h0.9v0.9h-0.9zM40.7 22.5h0.9v0.9h-0.9zM33.0 14.7h0.9v0.9h-0.9zM38.0 41.2h0.9v0.9h-0.9zM31.7 55.3h0.9v0.9h-0.9zM38.9 16.8h0.9v0.9h-0.9zM12.0 60.3h0.9v0.9h-0.9zM32.8 55.0h0.9v0.9h-0.9zM3.0 60.4h0.9v0.9h-0.9zM45.4 32.8h0.9v0.9h-0.9zM46.8 22.1h0.9v0.9h-0.9zM36.5 46.1h0.9v0.9h-0.9zM38.2 26.4h0.9v0.9h-0.9zM40.3 18.1h0.9v0.9h-0.9zM47.9 18.5h0.9v0.9h-0.9zM1.0 22.3h0.9v0.9h-0.9zM14.5 59.3h0.9v0.9h-0.9zM17.1 59.4h0.9v0.9h-0.9zM38.6 27.7h0.9v0.9h-0.9zM35.7 51.3h0.9v0.9h-0.9zM38.0 22.7h0.9v0.9h-0.9zM41.6 29.5h0.9v0.9h-0.9zM40.2 24.8h0.9v0.9h-0.9zM17.6 18.7h0.9v0.9h-0.9zM1.1 59.4h0.9v0.9h-0.9zM6.8 20.6h0.9v0.9h-0.9zM46.8 46.1h0.9v0.9h-0.9zM49.4 38.5h0.9v0.9h-0.9zM11.8 19.3h0.9v0.9h-0.9zM38.7 17.2h0.9v0.9h-0.9zM3.0 21.4h0.9v0.9h-0.9zM39.0 52.1h0.9v0.9h-0.9zM8.5 60.1h0.9v0.9h-0.9zM23.1 59.4h0.9v0.9h-0.9zM40.4 36.6h0.9v0.9h-0.9zM39.1 23.9h0.9v0.9h-0.9zM48.2 17.1h0.9v0.9h-0.9zM39.9 38.8h0.9v0.9h-0.9zM34.6 52.5h0.9v0.9h-0.9zM40.1 39.0h0.9v0.9h-0.9zM3.5 21.0h0.9v0.9h-0.9zM6.7 22.9h0.9v0.9h-0.9zM40.3 29.5h0.9v0.9h-0.9zM13.1 59.5h0.9v0.9h-0.9zM11.5 17.1h0.9v0.9h-0.9zM41.3 33.2h0.9v0.9h-0.9zM3.0 21.4h0.9v0.9h-0.9zM6.4 18.1h0.9v0.9h-0.9zM33.8 53.5h0.9v0.9h-0.9zM4.5 21.1h0.9v0.9h-0.9zM32.4 54.1h0.9v0.9h-0.9zM19.8 16.2h0.9v0.9h-0.9zM40.1 23.0h0.9v0.9h-0.9zM23.7 15.1h0.9v0.9h-0.9zM40.0 25.8h0.9v0.9h-0.9zM40.3 42.7h0.9v0.9h-0.9zM26.2 15.3h0.9v0.9h-0.9zM39.0 25.7h0.9v0.9h-0.9zM7.4 21.4h0.9v0.9h-0.9zM27.7 16.5h0.9v0.9h-0.9zM39.8 43.2h0.9v0.9h-0.9zM48.3 35.9h0.9v0.9h-0.9zM42.0 19.1h0.9v0.9h-0.9zM49.0 42.1h0.9v0.9h-0.9zM23.3 17.0h0.9v0.9h-0.9zM39.3 39.7h0.9v0.9h-0.9zM6.9 20.0h0.9v0.9h-0.9zM41.1 43.5h0.9v0.9h-0.9zM24.3 14.4h0.9v0.9h-0.9zM48.2 36.2h0.9v0.9h-0.9zM8.5 21.9h0.9v0.9h-0.9zM44.8 38.8h0.9v0.9h-0.9zM5.0 23.0h0.9v0.9h-0.9zM38.0 36.9h0.9v0.9h-0.9zM40.8 35.3h0.9v0.9h-0.9zM38.8 34.1h0.9v0.9h-0.9zM24.7 59.3h0.9v0.9h-0.9zM9.9 21.1h0.9v0.9h-0.9zM40.0 38.3h0.9v0.9h-0.9zM13.7 19.1h0.9v0.9h-0.9zM40.5 32.2h0.9v0.9h-0.9zM38.8 20.6h0.9v0.9h-0.9zM38.0 25.0h0.9v0.9h-0.9zM13.9 17.7h0.9v0.9h-0.9zM42.9 18.3h0.9v0.9h-0.9zM35.5 55.4h0.9v0.9h-0.9zM39.3 35.5h0.9v0.9h-0.9zM9.0 18.4h0.9v0.9h-0.9zM0.7 60.0h0.9v0.9h-0.9zM42.2 42.0h0.9v0.9h-0.9zM51.7 29.6h0.9v0.9h-0.9zM38.6 28.4h0.9v0.9h-0.9zM18.3 59.0h0.9v0.9h-0.9zM44.7 33.2h0.9v0.9h-0.9zM49.2 22.7h0.9v0.9h-0.9zM40.6 45.1h0.9v0.9h-0.9zM37.8 42.1h0.9v0.9h-0.9zM33.1 14.5h0.9v0.9h-0.9zM37.6 50.2h0.9v0.9h-0.9zM42.6 17.3h0.9v0.9h-0.9zM18.7 58.8h0.9v0.9h-0.9zM42.4 33.9h0.9v0.9h-0.9zM17.1 16.5h0.9v0.9h-0.9zM38.6 26.1h0.9v0.9h-0.9zM44.0 41.2h0.9v0.9h-0.9zM19.4 18.1h0.9v0.9h-0.9zM19.6 59.6h0.9v0.9h-0.9zM28.2 58.4h0.9v0.9h-0.9z" fill="#3b6cc0"/></g><path d="M0.4 27 7 23.4 14 20.2 22 17.2 30 16.2 34.8 15.6 37.5 18.1 38.3 30 37.599999999999994 43 34.5 51.5 28.299999999999997 58.3 0.4 59.4Z" fill="#1d4ba2" stroke="#1d4ba2" stroke-width="0.8" stroke-linejoin="round" filter="url(#b0)"/><g filter="url(#b0)"><path d="M12.3 28.2h0.9v0.9h-0.9zM14.6 33.4h0.9v0.9h-0.9zM20.9 20.0h0.9v0.9h-0.9zM3.3 32.9h0.9v0.9h-0.9zM10.6 34.6h0.9v0.9h-0.9zM2.0 28.5h0.9v0.9h-0.9zM31.6 38.9h0.9v0.9h-0.9zM15.5 28.2h0.9v0.9h-0.9zM3.6 35.6h0.9v0.9h-0.9zM30.0 19.5h0.9v0.9h-0.9zM21.0 19.8h0.9v0.9h-0.9zM0.9 32.4h0.9v0.9h-0.9zM16.3 21.3h0.9v0.9h-0.9zM27.8 17.3h0.9v0.9h-0.9zM12.3 29.5h0.9v0.9h-0.9zM8.5 30.5h0.9v0.9h-0.9zM23.0 41.1h0.9v0.9h-0.9zM4.7 27.2h0.9v0.9h-0.9zM0.9 32.8h0.9v0.9h-0.9zM5.9 28.8h0.9v0.9h-0.9zM2.2 35.6h0.9v0.9h-0.9zM23.1 28.1h0.9v0.9h-0.9zM11.4 22.6h0.9v0.9h-0.9zM22.4 29.1h0.9v0.9h-0.9zM29.8 41.4h0.9v0.9h-0.9zM7.6 39.1h0.9v0.9h-0.9zM2.7 34.5h0.9v0.9h-0.9zM20.6 18.0h0.9v0.9h-0.9zM6.0 38.7h0.9v0.9h-0.9zM16.9 22.8h0.9v0.9h-0.9zM10.8 34.2h0.9v0.9h-0.9zM3.2 32.3h0.9v0.9h-0.9zM10.6 22.9h0.9v0.9h-0.9zM10.3 25.5h0.9v0.9h-0.9zM14.9 21.5h0.9v0.9h-0.9zM25.4 40.1h0.9v0.9h-0.9zM19.2 33.7h0.9v0.9h-0.9zM12.1 28.0h0.9v0.9h-0.9zM31.7 17.1h0.9v0.9h-0.9zM17.6 25.6h0.9v0.9h-0.9zM29.9 16.6h0.9v0.9h-0.9zM7.2 41.9h0.9v0.9h-0.9zM20.2 18.9h0.9v0.9h-0.9zM5.5 39.5h0.9v0.9h-0.9zM27.0 29.3h0.9v0.9h-0.9zM27.2 35.1h0.9v0.9h-0.9zM27.7 29.6h0.9v0.9h-0.9zM5.6 30.1h0.9v0.9h-0.9zM5.2 34.2h0.9v0.9h-0.9zM6.2 29.9h0.9v0.9h-0.9zM19.6 21.0h0.9v0.9h-0.9zM10.9 26.8h0.9v0.9h-0.9zM22.0 24.1h0.9v0.9h-0.9zM28.7 26.6h0.9v0.9h-0.9zM2.2 40.9h0.9v0.9h-0.9zM16.2 28.3h0.9v0.9h-0.9zM4.7 35.5h0.9v0.9h-0.9zM2.0 30.7h0.9v0.9h-0.9zM3.7 27.7h0.9v0.9h-0.9zM30.8 36.4h0.9v0.9h-0.9zM6.6 25.3h0.9v0.9h-0.9zM14.4 22.3h0.9v0.9h-0.9zM30.9 35.9h0.9v0.9h-0.9zM4.9 39.1h0.9v0.9h-0.9zM25.5 19.2h0.9v0.9h-0.9zM15.2 24.5h0.9v0.9h-0.9zM1.1 35.6h0.9v0.9h-0.9zM17.4 30.2h0.9v0.9h-0.9zM2.6 28.5h0.9v0.9h-0.9zM4.7 33.0h0.9v0.9h-0.9zM31.5 32.7h0.9v0.9h-0.9zM15.5 20.0h0.9v0.9h-0.9zM14.1 20.8h0.9v0.9h-0.9zM18.6 28.7h0.9v0.9h-0.9zM5.7 41.2h0.9v0.9h-0.9zM25.3 26.3h0.9v0.9h-0.9zM9.0 26.6h0.9v0.9h-0.9zM15.9 30.5h0.9v0.9h-0.9zM2.0 29.7h0.9v0.9h-0.9zM24.2 17.2h0.9v0.9h-0.9zM12.0 23.6h0.9v0.9h-0.9zM25.1 17.8h0.9v0.9h-0.9zM28.8 31.0h0.9v0.9h-0.9zM16.3 19.4h0.9v0.9h-0.9zM1.6 29.3h0.9v0.9h-0.9zM30.4 41.3h0.9v0.9h-0.9zM15.4 20.7h0.9v0.9h-0.9zM14.5 28.4h0.9v0.9h-0.9zM23.9 20.2h0.9v0.9h-0.9zM14.6 21.4h0.9v0.9h-0.9zM17.7 25.1h0.9v0.9h-0.9zM23.0 20.2h0.9v0.9h-0.9zM27.9 17.9h0.9v0.9h-0.9zM26.5 17.9h0.9v0.9h-0.9zM2.0 33.3h0.9v0.9h-0.9zM1.2 39.5h0.9v0.9h-0.9zM5.5 36.5h0.9v0.9h-0.9zM30.4 26.9h0.9v0.9h-0.9zM26.2 21.7h0.9v0.9h-0.9z" fill="#7fa6e0" opacity="0.75"/></g><g transform="translate(0.0,0)"><path d="M1.5 40 Q10 30 22 24 Q31 21 36 26 Q39 34 36.5 45 Q33 54 25 56.5 Q12 57.5 1.5 54 Z" fill="#1f62ba" filter="url(#b2)"/></g><g transform="translate(0.0,0)"><path d="M6 47.5 Q12 40 20 32.5 Q27 27.5 32 31 Q35.5 36 34.3 44 Q32 52.5 26 55.6 Q18 57 11 54 Q5 51 6 47.5Z" fill="#34aee6" filter="url(#b2)"/></g><path transform="translate(23.8,42.7) scale(1.2,1.17)" d="M3.6 -10.6C6.6 -9.8 9.1 -5.3 8.8 -0.8C8.6 4.2 5.6 9.7 0.1 10.6C-4.9 11.2 -9.4 8.2 -8.8 3.7C-8.1 -0.8 -2.9 -9.3 3.6 -10.6Z" fill="#35c4c0" filter="url(#b1)"/><path transform="translate(24.9,43.0) scale(1.0,1.0)" d="M3.6 -10.6C6.6 -9.8 9.1 -5.3 8.8 -0.8C8.6 4.2 5.6 9.7 0.1 10.6C-4.9 11.2 -9.4 8.2 -8.8 3.7C-8.1 -0.8 -2.9 -9.3 3.6 -10.6Z" fill="#52cf48" filter="url(#b1)"/><path transform="translate(25.8,43.7) scale(0.77,0.77)" d="M3.6 -10.6C6.6 -9.8 9.1 -5.3 8.8 -0.8C8.6 4.2 5.6 9.7 0.1 10.6C-4.9 11.2 -9.4 8.2 -8.8 3.7C-8.1 -0.8 -2.9 -9.3 3.6 -10.6Z" fill="#a6dc2c" filter="url(#b1)"/><path transform="translate(26.6,44.4) scale(0.58,0.58)" d="M3.6 -10.6C6.6 -9.8 9.1 -5.3 8.8 -0.8C8.6 4.2 5.6 9.7 0.1 10.6C-4.9 11.2 -9.4 8.2 -8.8 3.7C-8.1 -0.8 -2.9 -9.3 3.6 -10.6Z" fill="#f0e21e" filter="url(#b1)"/><path transform="translate(27.0,44.8) scale(0.4,0.4)" d="M3.6 -10.6C6.6 -9.8 9.1 -5.3 8.8 -0.8C8.6 4.2 5.6 9.7 0.1 10.6C-4.9 11.2 -9.4 8.2 -8.8 3.7C-8.1 -0.8 -2.9 -9.3 3.6 -10.6Z" fill="#f79a1a" filter="url(#b1)"/><path transform="translate(27.1,45) scale(0.22,0.22)" d="M3.6 -10.6C6.6 -9.8 9.1 -5.3 8.8 -0.8C8.6 4.2 5.6 9.7 0.1 10.6C-4.9 11.2 -9.4 8.2 -8.8 3.7C-8.1 -0.8 -2.9 -9.3 3.6 -10.6Z" fill="#f02a1c" filter="url(#b0)"/><g filter="url(#b0)"><path d="M58.6 29.9h1.0v1.0h-1.0zM78.3 30.0h1.0v1.0h-1.0zM57.0 14.8h1.0v1.0h-1.0zM53.1 45.0h1.0v1.0h-1.0zM63.1 27.3h1.0v1.0h-1.0zM73.7 14.3h1.0v1.0h-1.0zM64.2 26.0h1.0v1.0h-1.0zM65.4 27.4h1.0v1.0h-1.0zM73.9 32.8h1.0v1.0h-1.0zM49.9 26.6h1.0v1.0h-1.0zM61.1 21.9h1.0v1.0h-1.0zM66.9 39.9h1.0v1.0h-1.0zM59.6 38.2h1.0v1.0h-1.0zM59.6 25.5h1.0v1.0h-1.0zM80.7 38.3h1.0v1.0h-1.0zM56.8 41.1h1.0v1.0h-1.0zM53.9 34.5h1.0v1.0h-1.0zM60.8 32.9h1.0v1.0h-1.0zM46.7 39.1h1.0v1.0h-1.0zM55.3 19.5h1.0v1.0h-1.0zM64.0 30.0h1.0v1.0h-1.0zM56.1 32.4h1.0v1.0h-1.0z" fill="#b4bcd6"/><path d="M45.7 34.3h1.0v1.0h-1.0zM47.3 44.5h1.0v1.0h-1.0z" fill="#5f7fc0"/></g><path d="M50.5 9.8 H84.7 V70.6 H38 Z" fill="none" stroke="#c6a3ca" stroke-width="0.65"/><text x="65.5" y="9.9" font-size="7.6" text-anchor="middle" fill="#ab6db0">0.0226</text><path d="M0 -0.5H86.6V74.2" fill="none" stroke="#7a7a7a" stroke-width="0.75"/><path d="M0 -0.5V74.2H86.6" fill="none" stroke="#222" stroke-width="0.9"/><line x1="-1.6" y1="74.10" x2="0" y2="74.10" stroke="#333" stroke-width="0.6"/><text x="-1.3" y="76.00" font-size="4.8" text-anchor="end" fill="#000" stroke="#000" stroke-width="0.15">0</text><line x1="-1.6" y1="60.53" x2="0" y2="60.53" stroke="#333" stroke-width="0.6"/><text x="-1.3" y="62.43" font-size="4.8" text-anchor="end" fill="#000" stroke="#000" stroke-width="0.15">50K</text><line x1="-1.6" y1="46.31" x2="0" y2="46.31" stroke="#333" stroke-width="0.6"/><text x="-1.3" y="48.21" font-size="4.8" text-anchor="end" fill="#000" stroke="#000" stroke-width="0.15">100K</text><line x1="-1.6" y1="32.09" x2="0" y2="32.09" stroke="#333" stroke-width="0.6"/><text x="-1.3" y="33.99" font-size="4.8" text-anchor="end" fill="#000" stroke="#000" stroke-width="0.15">150K</text><line x1="-1.6" y1="17.87" x2="0" y2="17.87" stroke="#333" stroke-width="0.6"/><text x="-1.3" y="19.77" font-size="4.8" text-anchor="end" fill="#000" stroke="#000" stroke-width="0.15">200K</text><line x1="-1.6" y1="3.65" x2="0" y2="3.65" stroke="#333" stroke-width="0.6"/><text x="-1.3" y="5.55" font-size="4.8" text-anchor="end" fill="#000" stroke="#000" stroke-width="0.15">250K</text><line x1="9" y1="74.2" x2="9" y2="76.0" stroke="#333" stroke-width="0.6"/><line x1="28" y1="74.2" x2="28" y2="76.0" stroke="#333" stroke-width="0.6"/><line x1="47" y1="74.2" x2="47" y2="76.0" stroke="#333" stroke-width="0.6"/><line x1="66" y1="74.2" x2="66" y2="76.0" stroke="#333" stroke-width="0.6"/><line x1="84" y1="74.2" x2="84" y2="76.0" stroke="#333" stroke-width="0.6"/><path d="M2 74.2v1M5 74.2v1M8 74.2v1M11 74.2v1M14 74.2v1M17 74.2v1M20 74.2v1M23 74.2v1M26 74.2v1M29 74.2v1M32 74.2v1M35 74.2v1M38 74.2v1M41 74.2v1M44 74.2v1M47 74.2v1M50 74.2v1M53 74.2v1M56 74.2v1M59 74.2v1M62 74.2v1M65 74.2v1M68 74.2v1M71 74.2v1M74 74.2v1M77 74.2v1M80 74.2v1M83 74.2v1" stroke="#666" stroke-width="0.35" fill="none"/><text x="10" y="82.4" font-size="5.2" text-anchor="middle" fill="#000" stroke="#000" stroke-width="0.2">0</text><text x="19.0" y="82.4" font-size="5.2" text-anchor="middle" fill="#000" stroke="#000" stroke-width="0.2" textLength="6.6" lengthAdjust="spacingAndGlyphs">10<tspan dy="-2.2" font-size="2.8">2</tspan></text><text x="39.6" y="82.4" font-size="5.2" text-anchor="middle" fill="#000" stroke="#000" stroke-width="0.2" textLength="6.6" lengthAdjust="spacingAndGlyphs">10<tspan dy="-2.2" font-size="2.8">3</tspan></text><text x="60.4" y="82.4" font-size="5.2" text-anchor="middle" fill="#000" stroke="#000" stroke-width="0.2" textLength="6.6" lengthAdjust="spacingAndGlyphs">10<tspan dy="-2.2" font-size="2.8">4</tspan></text><text x="78.7" y="82.4" font-size="5.2" text-anchor="middle" fill="#000" stroke="#000" stroke-width="0.2" textLength="6.6" lengthAdjust="spacingAndGlyphs">10<tspan dy="-2.2" font-size="2.8">5</tspan></text></g>
<g transform="translate(204.7,278.8)"><g filter="url(#b0)"><path d="M3.5 19.6h1.0v1.0h-1.0zM8.7 20.1h1.0v1.0h-1.0zM41.0 23.7h1.0v1.0h-1.0zM39.8 40.1h1.0v1.0h-1.0zM7.1 20.1h1.0v1.0h-1.0zM40.5 18.5h1.0v1.0h-1.0zM40.6 31.6h1.0v1.0h-1.0zM39.1 41.9h1.0v1.0h-1.0zM40.9 25.0h1.0v1.0h-1.0zM40.3 15.7h1.0v1.0h-1.0zM40.3 20.4h1.0v1.0h-1.0zM43.8 30.7h1.0v1.0h-1.0zM38.9 44.7h1.0v1.0h-1.0zM42.9 34.2h1.0v1.0h-1.0zM40.4 30.3h1.0v1.0h-1.0zM34.3 58.3h1.0v1.0h-1.0zM26.3 59.4h1.0v1.0h-1.0zM41.4 33.3h1.0v1.0h-1.0zM14.3 18.8h1.0v1.0h-1.0zM39.8 34.5h1.0v1.0h-1.0zM46.4 37.0h1.0v1.0h-1.0zM12.4 19.4h1.0v1.0h-1.0zM36.4 49.4h1.0v1.0h-1.0zM43.9 27.3h1.0v1.0h-1.0zM36.3 15.1h1.0v1.0h-1.0zM17.1 59.3h1.0v1.0h-1.0zM38.6 16.8h1.0v1.0h-1.0zM17.6 16.9h1.0v1.0h-1.0zM39.9 42.1h1.0v1.0h-1.0zM40.2 28.8h1.0v1.0h-1.0zM40.2 32.7h1.0v1.0h-1.0zM40.2 39.6h1.0v1.0h-1.0zM40.1 25.2h1.0v1.0h-1.0zM35.0 52.4h1.0v1.0h-1.0zM42.5 48.6h1.0v1.0h-1.0zM49.2 23.4h1.0v1.0h-1.0zM39.6 23.5h1.0v1.0h-1.0zM44.0 34.2h1.0v1.0h-1.0zM25.9 59.2h1.0v1.0h-1.0zM42.9 24.3h1.0v1.0h-1.0zM44.4 35.5h1.0v1.0h-1.0zM38.8 48.5h1.0v1.0h-1.0zM39.9 23.9h1.0v1.0h-1.0zM2.5 59.4h1.0v1.0h-1.0zM31.0 56.8h1.0v1.0h-1.0zM43.6 29.8h1.0v1.0h-1.0zM39.8 50.7h1.0v1.0h-1.0zM5.1 19.7h1.0v1.0h-1.0zM37.4 53.7h1.0v1.0h-1.0zM40.7 50.2h1.0v1.0h-1.0zM37.3 55.0h1.0v1.0h-1.0zM24.0 59.0h1.0v1.0h-1.0zM37.2 51.3h1.0v1.0h-1.0zM39.8 31.5h1.0v1.0h-1.0zM43.9 21.2h1.0v1.0h-1.0zM41.9 40.3h1.0v1.0h-1.0zM34.4 53.9h1.0v1.0h-1.0zM30.5 57.5h1.0v1.0h-1.0zM37.6 47.2h1.0v1.0h-1.0zM3.6 22.6h1.0v1.0h-1.0zM1.3 59.9h1.0v1.0h-1.0zM15.1 20.2h1.0v1.0h-1.0zM40.8 45.1h1.0v1.0h-1.0zM37.3 16.4h1.0v1.0h-1.0zM40.2 34.7h1.0v1.0h-1.0zM36.9 52.2h1.0v1.0h-1.0zM39.9 31.7h1.0v1.0h-1.0zM42.2 48.4h1.0v1.0h-1.0zM38.1 48.3h1.0v1.0h-1.0zM2.9 24.3h1.0v1.0h-1.0zM45.0 39.4h1.0v1.0h-1.0zM40.2 33.7h1.0v1.0h-1.0zM2.8 20.4h1.0v1.0h-1.0zM43.9 39.5h1.0v1.0h-1.0zM39.0 52.2h1.0v1.0h-1.0zM31.4 58.9h1.0v1.0h-1.0zM2.4 21.3h1.0v1.0h-1.0zM39.7 47.3h1.0v1.0h-1.0zM8.4 22.2h1.0v1.0h-1.0zM30.1 14.2h1.0v1.0h-1.0zM42.8 26.7h1.0v1.0h-1.0zM15.3 20.4h1.0v1.0h-1.0zM15.8 16.3h1.0v1.0h-1.0zM44.8 25.5h1.0v1.0h-1.0zM46.5 27.5h1.0v1.0h-1.0zM39.9 24.9h1.0v1.0h-1.0zM37.9 15.2h1.0v1.0h-1.0zM40.7 30.8h1.0v1.0h-1.0zM9.5 22.7h1.0v1.0h-1.0zM42.0 24.9h1.0v1.0h-1.0zM1.1 23.7h1.0v1.0h-1.0zM43.2 31.7h1.0v1.0h-1.0zM41.2 40.0h1.0v1.0h-1.0zM15.0 17.4h1.0v1.0h-1.0zM36.8 14.0h1.0v1.0h-1.0zM40.7 37.6h1.0v1.0h-1.0zM42.9 46.6h1.0v1.0h-1.0zM38.7 52.4h1.0v1.0h-1.0zM6.9 24.4h1.0v1.0h-1.0zM38.9 41.6h1.0v1.0h-1.0zM13.7 18.3h1.0v1.0h-1.0zM27.9 58.4h1.0v1.0h-1.0zM9.4 20.6h1.0v1.0h-1.0zM39.9 30.8h1.0v1.0h-1.0zM9.3 60.3h1.0v1.0h-1.0zM43.5 36.3h1.0v1.0h-1.0zM45.9 14.9h1.0v1.0h-1.0zM42.5 41.9h1.0v1.0h-1.0zM38.8 49.5h1.0v1.0h-1.0zM21.7 58.9h1.0v1.0h-1.0zM39.9 40.4h1.0v1.0h-1.0zM47.7 24.2h1.0v1.0h-1.0zM6.1 59.6h1.0v1.0h-1.0zM24.4 59.3h1.0v1.0h-1.0zM39.9 22.7h1.0v1.0h-1.0zM39.5 30.8h1.0v1.0h-1.0zM42.0 24.9h1.0v1.0h-1.0zM27.7 58.5h1.0v1.0h-1.0zM44.0 19.3h1.0v1.0h-1.0zM39.1 44.1h1.0v1.0h-1.0zM40.7 39.1h1.0v1.0h-1.0zM8.8 23.6h1.0v1.0h-1.0zM39.3 39.5h1.0v1.0h-1.0zM28.1 60.3h1.0v1.0h-1.0zM40.1 39.4h1.0v1.0h-1.0zM39.9 46.6h1.0v1.0h-1.0zM41.4 24.6h1.0v1.0h-1.0zM4.3 26.4h1.0v1.0h-1.0zM30.3 57.9h1.0v1.0h-1.0zM12.9 18.9h1.0v1.0h-1.0zM24.8 15.9h1.0v1.0h-1.0zM30.6 59.2h1.0v1.0h-1.0zM20.1 16.6h1.0v1.0h-1.0zM21.3 17.4h1.0v1.0h-1.0zM26.4 60.0h1.0v1.0h-1.0zM40.4 50.3h1.0v1.0h-1.0zM3.2 25.4h1.0v1.0h-1.0zM5.8 25.6h1.0v1.0h-1.0zM41.3 29.5h1.0v1.0h-1.0zM2.7 19.3h1.0v1.0h-1.0zM3.8 22.1h1.0v1.0h-1.0zM38.0 16.7h1.0v1.0h-1.0zM27.9 58.4h1.0v1.0h-1.0zM41.8 35.7h1.0v1.0h-1.0zM42.2 14.1h1.0v1.0h-1.0zM7.6 24.5h1.0v1.0h-1.0zM39.3 47.2h1.0v1.0h-1.0zM40.0 32.8h1.0v1.0h-1.0zM19.0 16.1h1.0v1.0h-1.0zM36.2 50.6h1.0v1.0h-1.0zM39.7 34.5h1.0v1.0h-1.0zM39.4 20.8h1.0v1.0h-1.0zM40.5 27.0h1.0v1.0h-1.0zM14.4 20.5h1.0v1.0h-1.0zM36.4 57.1h1.0v1.0h-1.0zM39.9 30.8h1.0v1.0h-1.0zM40.9 15.3h1.0v1.0h-1.0zM40.4 40.2h1.0v1.0h-1.0zM40.1 34.8h1.0v1.0h-1.0zM29.6 59.4h1.0v1.0h-1.0zM42.6 46.6h1.0v1.0h-1.0zM40.5 31.3h1.0v1.0h-1.0zM37.3 59.4h1.0v1.0h-1.0zM39.5 35.0h1.0v1.0h-1.0zM40.0 45.9h1.0v1.0h-1.0zM45.7 32.8h1.0v1.0h-1.0zM35.9 51.0h1.0v1.0h-1.0zM39.7 24.9h1.0v1.0h-1.0zM39.6 40.2h1.0v1.0h-1.0zM37.8 53.7h1.0v1.0h-1.0zM32.9 56.4h1.0v1.0h-1.0zM3.1 19.9h1.0v1.0h-1.0zM38.7 49.1h1.0v1.0h-1.0zM39.3 17.1h1.0v1.0h-1.0zM36.8 52.6h1.0v1.0h-1.0zM44.3 20.3h1.0v1.0h-1.0zM9.5 59.3h1.0v1.0h-1.0zM3.1 25.9h1.0v1.0h-1.0zM20.9 15.7h1.0v1.0h-1.0zM31.9 58.9h1.0v1.0h-1.0zM33.2 57.6h1.0v1.0h-1.0zM39.6 17.5h1.0v1.0h-1.0zM1.0 27.9h1.0v1.0h-1.0zM46.7 20.4h1.0v1.0h-1.0zM43.7 33.6h1.0v1.0h-1.0zM31.7 59.0h1.0v1.0h-1.0zM44.5 35.1h1.0v1.0h-1.0zM49.5 23.0h1.0v1.0h-1.0zM34.3 53.4h1.0v1.0h-1.0zM39.3 39.9h1.0v1.0h-1.0zM16.3 15.7h1.0v1.0h-1.0zM12.1 59.0h1.0v1.0h-1.0zM20.5 59.2h1.0v1.0h-1.0zM6.2 19.6h1.0v1.0h-1.0zM4.5 59.3h1.0v1.0h-1.0zM41.8 29.8h1.0v1.0h-1.0zM37.0 16.0h1.0v1.0h-1.0zM43.4 30.2h1.0v1.0h-1.0zM39.2 26.1h1.0v1.0h-1.0zM2.1 25.1h1.0v1.0h-1.0zM21.0 60.2h1.0v1.0h-1.0zM39.9 18.9h1.0v1.0h-1.0zM3.6 27.3h1.0v1.0h-1.0zM7.3 24.0h1.0v1.0h-1.0zM43.3 31.6h1.0v1.0h-1.0zM39.2 41.3h1.0v1.0h-1.0zM41.1 20.9h1.0v1.0h-1.0zM48.3 28.2h1.0v1.0h-1.0zM7.2 24.9h1.0v1.0h-1.0zM6.5 22.7h1.0v1.0h-1.0zM46.4 29.9h1.0v1.0h-1.0zM20.5 58.7h1.0v1.0h-1.0zM18.5 59.6h1.0v1.0h-1.0zM42.0 22.0h1.0v1.0h-1.0zM14.4 20.5h1.0v1.0h-1.0zM38.7 16.5h1.0v1.0h-1.0zM39.6 26.4h1.0v1.0h-1.0zM35.5 55.2h1.0v1.0h-1.0zM3.2 19.2h1.0v1.0h-1.0zM39.6 36.3h1.0v1.0h-1.0zM43.6 30.8h1.0v1.0h-1.0zM39.6 20.7h1.0v1.0h-1.0zM37.2 50.1h1.0v1.0h-1.0zM2.7 60.3h1.0v1.0h-1.0zM48.4 39.8h1.0v1.0h-1.0zM36.7 15.9h1.0v1.0h-1.0zM32.3 56.4h1.0v1.0h-1.0zM29.6 58.6h1.0v1.0h-1.0zM27.5 15.6h1.0v1.0h-1.0zM31.3 57.0h1.0v1.0h-1.0zM41.2 35.5h1.0v1.0h-1.0zM39.7 30.3h1.0v1.0h-1.0zM32.8 54.8h1.0v1.0h-1.0zM24.7 16.4h1.0v1.0h-1.0zM3.8 59.6h1.0v1.0h-1.0zM40.6 25.8h1.0v1.0h-1.0zM17.8 59.0h1.0v1.0h-1.0zM3.7 23.5h1.0v1.0h-1.0zM29.5 60.3h1.0v1.0h-1.0zM6.1 19.9h1.0v1.0h-1.0zM15.0 17.4h1.0v1.0h-1.0zM40.3 18.7h1.0v1.0h-1.0zM33.1 55.8h1.0v1.0h-1.0zM39.4 19.8h1.0v1.0h-1.0zM20.0 60.1h1.0v1.0h-1.0zM37.2 15.3h1.0v1.0h-1.0zM38.1 14.6h1.0v1.0h-1.0zM41.2 28.3h1.0v1.0h-1.0zM49.8 30.3h1.0v1.0h-1.0zM17.1 19.3h1.0v1.0h-1.0zM38.0 48.1h1.0v1.0h-1.0zM7.3 23.7h1.0v1.0h-1.0zM5.3 22.5h1.0v1.0h-1.0zM3.9 24.9h1.0v1.0h-1.0zM16.0 59.3h1.0v1.0h-1.0zM39.2 44.6h1.0v1.0h-1.0zM3.6 22.3h1.0v1.0h-1.0zM41.2 23.0h1.0v1.0h-1.0zM39.2 48.5h1.0v1.0h-1.0zM30.7 56.9h1.0v1.0h-1.0zM36.1 55.1h1.0v1.0h-1.0zM15.6 19.2h1.0v1.0h-1.0zM13.8 17.5h1.0v1.0h-1.0zM8.7 22.0h1.0v1.0h-1.0zM35.2 53.5h1.0v1.0h-1.0zM7.0 23.1h1.0v1.0h-1.0zM13.6 59.1h1.0v1.0h-1.0zM27.9 16.4h1.0v1.0h-1.0zM39.2 40.2h1.0v1.0h-1.0zM5.9 19.4h1.0v1.0h-1.0zM1.7 28.2h1.0v1.0h-1.0zM47.2 23.0h1.0v1.0h-1.0zM8.4 59.6h1.0v1.0h-1.0zM37.9 45.3h1.0v1.0h-1.0zM44.9 27.6h1.0v1.0h-1.0zM6.9 59.6h1.0v1.0h-1.0zM5.9 23.3h1.0v1.0h-1.0zM43.4 32.1h1.0v1.0h-1.0zM3.2 26.3h1.0v1.0h-1.0zM30.3 59.1h1.0v1.0h-1.0zM39.1 45.3h1.0v1.0h-1.0zM43.7 51.4h1.0v1.0h-1.0zM27.9 14.5h1.0v1.0h-1.0zM7.4 59.8h1.0v1.0h-1.0zM3.9 24.4h1.0v1.0h-1.0zM4.0 59.8h1.0v1.0h-1.0zM4.4 26.5h1.0v1.0h-1.0zM38.6 43.4h1.0v1.0h-1.0zM19.3 17.6h1.0v1.0h-1.0zM45.9 33.1h1.0v1.0h-1.0zM13.4 60.2h1.0v1.0h-1.0zM39.2 25.3h1.0v1.0h-1.0zM9.9 22.3h1.0v1.0h-1.0zM38.8 15.3h1.0v1.0h-1.0zM47.6 30.9h1.0v1.0h-1.0zM40.1 38.2h1.0v1.0h-1.0zM39.2 22.9h1.0v1.0h-1.0zM10.9 59.1h1.0v1.0h-1.0zM37.8 50.4h1.0v1.0h-1.0zM39.4 17.0h1.0v1.0h-1.0zM8.9 21.5h1.0v1.0h-1.0zM31.2 15.0h1.0v1.0h-1.0zM15.4 18.0h1.0v1.0h-1.0zM46.6 18.3h1.0v1.0h-1.0zM4.8 22.5h1.0v1.0h-1.0zM38.6 54.8h1.0v1.0h-1.0zM6.5 59.9h1.0v1.0h-1.0zM40.0 30.7h1.0v1.0h-1.0zM40.9 40.6h1.0v1.0h-1.0zM38.0 46.7h1.0v1.0h-1.0zM42.1 28.9h1.0v1.0h-1.0zM0.9 59.7h1.0v1.0h-1.0zM28.5 15.3h1.0v1.0h-1.0zM39.6 35.6h1.0v1.0h-1.0zM35.3 15.1h1.0v1.0h-1.0zM5.1 24.8h1.0v1.0h-1.0zM39.6 21.4h1.0v1.0h-1.0zM36.6 51.5h1.0v1.0h-1.0zM40.7 18.7h1.0v1.0h-1.0zM41.6 53.3h1.0v1.0h-1.0zM37.3 14.8h1.0v1.0h-1.0zM16.5 16.7h1.0v1.0h-1.0zM42.5 39.5h1.0v1.0h-1.0zM44.0 40.0h1.0v1.0h-1.0zM44.6 42.0h1.0v1.0h-1.0zM14.1 19.8h1.0v1.0h-1.0zM41.5 48.3h1.0v1.0h-1.0zM40.7 21.6h1.0v1.0h-1.0zM31.8 56.7h1.0v1.0h-1.0zM42.2 30.3h1.0v1.0h-1.0zM41.7 18.1h1.0v1.0h-1.0zM9.8 22.7h1.0v1.0h-1.0zM40.1 48.4h1.0v1.0h-1.0z" fill="#2450a4"/><path d="M45.2 33.4h0.9v0.9h-0.9zM39.0 18.7h0.9v0.9h-0.9zM41.3 32.7h0.9v0.9h-0.9zM40.0 51.5h0.9v0.9h-0.9zM39.8 15.1h0.9v0.9h-0.9zM39.4 35.9h0.9v0.9h-0.9zM1.0 25.4h0.9v0.9h-0.9zM35.2 52.3h0.9v0.9h-0.9zM39.0 50.4h0.9v0.9h-0.9zM39.3 43.9h0.9v0.9h-0.9zM43.1 26.3h0.9v0.9h-0.9zM39.9 27.4h0.9v0.9h-0.9zM33.1 54.9h0.9v0.9h-0.9zM42.3 39.9h0.9v0.9h-0.9zM37.7 54.4h0.9v0.9h-0.9zM44.4 30.3h0.9v0.9h-0.9zM39.9 34.6h0.9v0.9h-0.9zM12.8 20.9h0.9v0.9h-0.9zM37.2 48.6h0.9v0.9h-0.9zM42.2 40.0h0.9v0.9h-0.9zM30.0 15.4h0.9v0.9h-0.9zM1.1 59.4h0.9v0.9h-0.9zM39.5 45.0h0.9v0.9h-0.9zM36.9 51.4h0.9v0.9h-0.9zM40.5 56.1h0.9v0.9h-0.9zM40.8 32.0h0.9v0.9h-0.9zM42.1 23.5h0.9v0.9h-0.9zM23.0 60.3h0.9v0.9h-0.9zM4.5 21.4h0.9v0.9h-0.9zM42.1 32.7h0.9v0.9h-0.9zM30.1 57.6h0.9v0.9h-0.9zM38.0 56.0h0.9v0.9h-0.9zM42.0 29.1h0.9v0.9h-0.9zM42.2 25.8h0.9v0.9h-0.9zM41.8 28.2h0.9v0.9h-0.9zM41.6 26.2h0.9v0.9h-0.9zM15.9 17.9h0.9v0.9h-0.9zM39.2 26.3h0.9v0.9h-0.9zM38.9 19.0h0.9v0.9h-0.9zM41.9 20.0h0.9v0.9h-0.9zM40.0 22.9h0.9v0.9h-0.9zM46.2 43.6h0.9v0.9h-0.9zM41.5 29.8h0.9v0.9h-0.9zM33.0 56.2h0.9v0.9h-0.9zM6.3 59.6h0.9v0.9h-0.9zM1.8 22.4h0.9v0.9h-0.9zM37.5 47.3h0.9v0.9h-0.9zM29.5 59.0h0.9v0.9h-0.9zM37.3 16.0h0.9v0.9h-0.9zM37.1 48.6h0.9v0.9h-0.9zM38.4 49.9h0.9v0.9h-0.9zM51.2 23.1h0.9v0.9h-0.9zM39.6 30.7h0.9v0.9h-0.9zM24.7 59.9h0.9v0.9h-0.9zM40.9 34.1h0.9v0.9h-0.9zM42.2 26.1h0.9v0.9h-0.9zM12.4 21.5h0.9v0.9h-0.9zM5.3 25.8h0.9v0.9h-0.9zM9.4 20.1h0.9v0.9h-0.9zM40.8 16.8h0.9v0.9h-0.9zM10.5 59.9h0.9v0.9h-0.9zM39.7 19.8h0.9v0.9h-0.9zM22.3 59.7h0.9v0.9h-0.9zM36.5 51.0h0.9v0.9h-0.9zM39.3 48.5h0.9v0.9h-0.9zM41.3 41.0h0.9v0.9h-0.9zM39.7 31.2h0.9v0.9h-0.9zM3.9 19.0h0.9v0.9h-0.9zM15.7 58.9h0.9v0.9h-0.9zM47.7 20.4h0.9v0.9h-0.9zM39.3 34.0h0.9v0.9h-0.9zM39.8 39.6h0.9v0.9h-0.9zM2.0 26.2h0.9v0.9h-0.9zM10.0 59.4h0.9v0.9h-0.9zM41.8 31.7h0.9v0.9h-0.9zM40.4 27.0h0.9v0.9h-0.9zM42.6 42.9h0.9v0.9h-0.9zM42.3 40.3h0.9v0.9h-0.9zM40.1 53.9h0.9v0.9h-0.9zM38.7 44.7h0.9v0.9h-0.9zM20.7 58.7h0.9v0.9h-0.9zM36.9 58.8h0.9v0.9h-0.9zM20.9 59.2h0.9v0.9h-0.9zM47.1 29.2h0.9v0.9h-0.9zM41.2 34.4h0.9v0.9h-0.9zM35.7 51.7h0.9v0.9h-0.9zM6.4 25.3h0.9v0.9h-0.9zM40.1 38.8h0.9v0.9h-0.9zM39.5 20.0h0.9v0.9h-0.9zM40.9 25.8h0.9v0.9h-0.9zM40.6 20.5h0.9v0.9h-0.9zM40.2 32.6h0.9v0.9h-0.9zM9.0 60.1h0.9v0.9h-0.9zM44.4 21.6h0.9v0.9h-0.9zM18.6 16.3h0.9v0.9h-0.9zM50.5 30.2h0.9v0.9h-0.9zM41.2 48.8h0.9v0.9h-0.9zM39.2 44.6h0.9v0.9h-0.9zM17.4 59.5h0.9v0.9h-0.9zM38.0 49.5h0.9v0.9h-0.9zM39.3 43.2h0.9v0.9h-0.9zM35.8 53.3h0.9v0.9h-0.9zM39.8 27.6h0.9v0.9h-0.9zM19.8 58.9h0.9v0.9h-0.9zM42.3 33.5h0.9v0.9h-0.9zM39.7 26.3h0.9v0.9h-0.9zM38.5 56.4h0.9v0.9h-0.9zM40.8 27.1h0.9v0.9h-0.9zM41.9 17.7h0.9v0.9h-0.9zM2.5 25.6h0.9v0.9h-0.9zM36.9 15.3h0.9v0.9h-0.9zM40.9 32.8h0.9v0.9h-0.9zM44.0 30.0h0.9v0.9h-0.9zM36.3 55.5h0.9v0.9h-0.9zM49.5 20.6h0.9v0.9h-0.9zM38.8 17.7h0.9v0.9h-0.9zM24.5 59.3h0.9v0.9h-0.9zM35.4 14.0h0.9v0.9h-0.9zM29.8 60.3h0.9v0.9h-0.9zM39.1 44.6h0.9v0.9h-0.9zM11.8 20.6h0.9v0.9h-0.9zM3.9 25.6h0.9v0.9h-0.9zM8.4 59.3h0.9v0.9h-0.9zM37.5 56.9h0.9v0.9h-0.9zM24.4 58.7h0.9v0.9h-0.9zM40.0 46.0h0.9v0.9h-0.9zM41.0 26.3h0.9v0.9h-0.9zM36.0 51.0h0.9v0.9h-0.9zM43.1 23.2h0.9v0.9h-0.9zM7.2 19.5h0.9v0.9h-0.9zM23.1 59.2h0.9v0.9h-0.9zM46.7 23.1h0.9v0.9h-0.9zM11.9 59.3h0.9v0.9h-0.9zM34.6 54.0h0.9v0.9h-0.9zM35.1 52.1h0.9v0.9h-0.9zM7.6 60.0h0.9v0.9h-0.9zM43.0 37.8h0.9v0.9h-0.9zM40.6 57.8h0.9v0.9h-0.9zM42.2 33.1h0.9v0.9h-0.9zM39.2 37.8h0.9v0.9h-0.9zM41.8 29.7h0.9v0.9h-0.9zM40.4 20.9h0.9v0.9h-0.9zM42.2 41.4h0.9v0.9h-0.9zM15.2 59.5h0.9v0.9h-0.9zM35.6 57.0h0.9v0.9h-0.9zM5.8 24.0h0.9v0.9h-0.9zM14.2 59.2h0.9v0.9h-0.9zM52.0 48.7h0.9v0.9h-0.9zM12.5 19.5h0.9v0.9h-0.9zM40.1 45.9h0.9v0.9h-0.9zM1.7 22.7h0.9v0.9h-0.9zM38.6 45.9h0.9v0.9h-0.9zM39.6 14.8h0.9v0.9h-0.9zM38.3 48.8h0.9v0.9h-0.9zM34.4 54.9h0.9v0.9h-0.9zM48.1 25.7h0.9v0.9h-0.9zM40.0 40.0h0.9v0.9h-0.9zM36.7 48.8h0.9v0.9h-0.9zM6.2 24.3h0.9v0.9h-0.9zM8.9 17.6h0.9v0.9h-0.9zM34.9 53.0h0.9v0.9h-0.9zM42.2 38.3h0.9v0.9h-0.9zM40.6 36.8h0.9v0.9h-0.9zM19.1 15.5h0.9v0.9h-0.9zM40.5 54.0h0.9v0.9h-0.9zM27.2 59.2h0.9v0.9h-0.9zM40.7 36.8h0.9v0.9h-0.9zM0.9 27.6h0.9v0.9h-0.9zM26.6 14.2h0.9v0.9h-0.9zM38.1 45.6h0.9v0.9h-0.9zM39.6 31.6h0.9v0.9h-0.9zM9.9 22.7h0.9v0.9h-0.9zM24.0 16.6h0.9v0.9h-0.9zM41.3 39.6h0.9v0.9h-0.9zM5.8 21.0h0.9v0.9h-0.9zM15.1 17.4h0.9v0.9h-0.9zM38.8 48.5h0.9v0.9h-0.9zM1.1 23.3h0.9v0.9h-0.9zM40.1 34.7h0.9v0.9h-0.9zM28.4 15.4h0.9v0.9h-0.9zM30.4 57.4h0.9v0.9h-0.9zM8.8 22.0h0.9v0.9h-0.9zM37.2 49.6h0.9v0.9h-0.9zM38.8 20.3h0.9v0.9h-0.9zM9.8 22.4h0.9v0.9h-0.9zM41.5 19.8h0.9v0.9h-0.9zM29.5 60.1h0.9v0.9h-0.9zM2.3 27.6h0.9v0.9h-0.9zM40.1 34.5h0.9v0.9h-0.9zM1.1 59.6h0.9v0.9h-0.9zM0.7 59.7h0.9v0.9h-0.9zM38.6 46.5h0.9v0.9h-0.9zM41.0 23.8h0.9v0.9h-0.9zM44.8 35.5h0.9v0.9h-0.9zM40.3 36.3h0.9v0.9h-0.9zM26.1 58.8h0.9v0.9h-0.9zM7.9 18.3h0.9v0.9h-0.9zM4.6 20.2h0.9v0.9h-0.9zM9.3 21.4h0.9v0.9h-0.9zM6.1 22.9h0.9v0.9h-0.9zM41.3 21.3h0.9v0.9h-0.9zM2.7 20.5h0.9v0.9h-0.9zM34.8 55.8h0.9v0.9h-0.9zM39.1 44.5h0.9v0.9h-0.9zM42.6 18.4h0.9v0.9h-0.9zM47.9 32.0h0.9v0.9h-0.9zM34.2 53.5h0.9v0.9h-0.9zM39.7 46.5h0.9v0.9h-0.9zM41.1 17.4h0.9v0.9h-0.9zM8.6 18.6h0.9v0.9h-0.9zM47.5 17.4h0.9v0.9h-0.9zM30.3 59.1h0.9v0.9h-0.9zM15.3 20.0h0.9v0.9h-0.9zM37.1 49.6h0.9v0.9h-0.9z" fill="#3b6cc0"/></g><path d="M0.4 29.5 7 25.0 14 21.0 22 17.2 30 16.2 35.9 15.2 38.6 17.7 39.4 30 38.699999999999996 43 35.6 51.5 29.4 58.3 0.4 59.4Z" fill="#1d4ba2" stroke="#1d4ba2" stroke-width="0.8" stroke-linejoin="round" filter="url(#b0)"/><g filter="url(#b0)"><path d="M5.1 30.5h0.9v0.9h-0.9zM3.2 28.7h0.9v0.9h-0.9zM20.1 20.7h0.9v0.9h-0.9zM3.5 38.0h0.9v0.9h-0.9zM3.5 31.2h0.9v0.9h-0.9zM26.7 19.8h0.9v0.9h-0.9zM29.0 19.1h0.9v0.9h-0.9zM9.5 32.1h0.9v0.9h-0.9zM26.2 22.6h0.9v0.9h-0.9zM14.5 21.0h0.9v0.9h-0.9zM20.2 18.2h0.9v0.9h-0.9zM25.3 18.2h0.9v0.9h-0.9zM31.0 16.2h0.9v0.9h-0.9zM19.4 24.6h0.9v0.9h-0.9zM30.1 18.3h0.9v0.9h-0.9zM21.7 22.0h0.9v0.9h-0.9zM30.7 16.2h0.9v0.9h-0.9zM8.3 24.5h0.9v0.9h-0.9zM5.1 28.1h0.9v0.9h-0.9zM21.0 25.3h0.9v0.9h-0.9zM9.9 25.0h0.9v0.9h-0.9zM25.0 18.5h0.9v0.9h-0.9zM12.9 21.8h0.9v0.9h-0.9zM5.0 37.0h0.9v0.9h-0.9zM2.0 40.9h0.9v0.9h-0.9zM10.3 23.7h0.9v0.9h-0.9zM6.0 27.1h0.9v0.9h-0.9zM15.7 23.2h0.9v0.9h-0.9zM26.5 17.2h0.9v0.9h-0.9zM3.6 40.6h0.9v0.9h-0.9zM2.2 30.4h0.9v0.9h-0.9zM20.2 21.4h0.9v0.9h-0.9zM15.4 22.6h0.9v0.9h-0.9zM0.9 29.6h0.9v0.9h-0.9zM30.3 36.1h0.9v0.9h-0.9zM2.7 29.1h0.9v0.9h-0.9zM5.2 39.3h0.9v0.9h-0.9zM27.3 20.3h0.9v0.9h-0.9zM15.2 20.9h0.9v0.9h-0.9zM2.7 39.6h0.9v0.9h-0.9zM29.4 17.7h0.9v0.9h-0.9zM0.9 39.2h0.9v0.9h-0.9zM2.4 32.3h0.9v0.9h-0.9zM15.1 24.0h0.9v0.9h-0.9zM18.0 23.9h0.9v0.9h-0.9zM1.5 40.8h0.9v0.9h-0.9zM25.2 17.7h0.9v0.9h-0.9zM14.0 23.2h0.9v0.9h-0.9zM5.0 27.2h0.9v0.9h-0.9zM11.4 28.9h0.9v0.9h-0.9zM2.0 41.6h0.9v0.9h-0.9zM7.4 35.7h0.9v0.9h-0.9zM3.7 38.7h0.9v0.9h-0.9zM10.4 27.0h0.9v0.9h-0.9zM26.8 22.6h0.9v0.9h-0.9zM13.8 23.1h0.9v0.9h-0.9zM27.1 37.0h0.9v0.9h-0.9zM15.9 20.3h0.9v0.9h-0.9zM29.7 19.2h0.9v0.9h-0.9zM21.3 22.8h0.9v0.9h-0.9zM19.2 31.4h0.9v0.9h-0.9zM23.3 18.3h0.9v0.9h-0.9zM9.6 39.9h0.9v0.9h-0.9zM23.6 40.5h0.9v0.9h-0.9zM2.0 29.9h0.9v0.9h-0.9zM5.1 33.0h0.9v0.9h-0.9zM7.6 30.0h0.9v0.9h-0.9zM25.8 17.7h0.9v0.9h-0.9zM11.3 27.5h0.9v0.9h-0.9zM25.2 30.2h0.9v0.9h-0.9zM17.3 20.8h0.9v0.9h-0.9zM5.7 35.7h0.9v0.9h-0.9zM3.3 29.7h0.9v0.9h-0.9zM19.5 22.5h0.9v0.9h-0.9zM3.6 36.6h0.9v0.9h-0.9zM27.5 18.2h0.9v0.9h-0.9zM20.6 19.8h0.9v0.9h-0.9zM11.4 39.6h0.9v0.9h-0.9zM13.2 24.4h0.9v0.9h-0.9zM8.6 38.1h0.9v0.9h-0.9zM27.6 21.9h0.9v0.9h-0.9zM17.7 41.1h0.9v0.9h-0.9zM1.6 30.9h0.9v0.9h-0.9zM7.7 24.7h0.9v0.9h-0.9zM0.9 32.0h0.9v0.9h-0.9zM16.3 26.1h0.9v0.9h-0.9zM4.9 28.9h0.9v0.9h-0.9zM2.3 41.9h0.9v0.9h-0.9zM15.8 24.1h0.9v0.9h-0.9zM6.1 40.1h0.9v0.9h-0.9zM31.1 20.6h0.9v0.9h-0.9zM29.8 19.8h0.9v0.9h-0.9zM1.3 33.4h0.9v0.9h-0.9zM31.4 38.2h0.9v0.9h-0.9zM21.2 17.8h0.9v0.9h-0.9zM14.5 41.4h0.9v0.9h-0.9z" fill="#7fa6e0" opacity="0.75"/></g><g transform="translate(1.1,0)"><path d="M1.5 40 Q10 30 22 24 Q31 21 36 26 Q39 34 36.5 45 Q33 54 25 56.5 Q12 57.5 1.5 54 Z" fill="#1f62ba" filter="url(#b2)"/></g><g transform="translate(1.6,0)"><path d="M6 47.5 Q12 40 20 32.5 Q27 27.5 32 31 Q35.5 36 34.3 44 Q32 52.5 26 55.6 Q18 57 11 54 Q5 51 6 47.5Z" fill="#34aee6" filter="url(#b2)"/></g><path transform="translate(25.4,42.7) scale(1.2,1.17)" d="M3.6 -10.6C6.6 -9.8 9.1 -5.3 8.8 -0.8C8.6 4.2 5.6 9.7 0.1 10.6C-4.9 11.2 -9.4 8.2 -8.8 3.7C-8.1 -0.8 -2.9 -9.3 3.6 -10.6Z" fill="#35c4c0" filter="url(#b1)"/><path transform="translate(26.5,43.0) scale(1.0,1.0)" d="M3.6 -10.6C6.6 -9.8 9.1 -5.3 8.8 -0.8C8.6 4.2 5.6 9.7 0.1 10.6C-4.9 11.2 -9.4 8.2 -8.8 3.7C-8.1 -0.8 -2.9 -9.3 3.6 -10.6Z" fill="#52cf48" filter="url(#b1)"/><path transform="translate(27.4,43.7) scale(0.77,0.77)" d="M3.6 -10.6C6.6 -9.8 9.1 -5.3 8.8 -0.8C8.6 4.2 5.6 9.7 0.1 10.6C-4.9 11.2 -9.4 8.2 -8.8 3.7C-8.1 -0.8 -2.9 -9.3 3.6 -10.6Z" fill="#a6dc2c" filter="url(#b1)"/><path transform="translate(28.2,44.4) scale(0.58,0.58)" d="M3.6 -10.6C6.6 -9.8 9.1 -5.3 8.8 -0.8C8.6 4.2 5.6 9.7 0.1 10.6C-4.9 11.2 -9.4 8.2 -8.8 3.7C-8.1 -0.8 -2.9 -9.3 3.6 -10.6Z" fill="#f0e21e" filter="url(#b1)"/><path transform="translate(28.6,44.8) scale(0.4,0.4)" d="M3.6 -10.6C6.6 -9.8 9.1 -5.3 8.8 -0.8C8.6 4.2 5.6 9.7 0.1 10.6C-4.9 11.2 -9.4 8.2 -8.8 3.7C-8.1 -0.8 -2.9 -9.3 3.6 -10.6Z" fill="#f79a1a" filter="url(#b1)"/><path transform="translate(28.7,45) scale(0.22,0.22)" d="M3.6 -10.6C6.6 -9.8 9.1 -5.3 8.8 -0.8C8.6 4.2 5.6 9.7 0.1 10.6C-4.9 11.2 -9.4 8.2 -8.8 3.7C-8.1 -0.8 -2.9 -9.3 3.6 -10.6Z" fill="#f02a1c" filter="url(#b0)"/><g filter="url(#b0)"><path d="M62.9 42.8h1.0v1.0h-1.0zM60.9 22.9h1.0v1.0h-1.0zM68.1 27.0h1.0v1.0h-1.0zM50.3 33.0h1.0v1.0h-1.0zM54.1 26.5h1.0v1.0h-1.0zM57.5 36.0h1.0v1.0h-1.0zM47.5 31.6h1.0v1.0h-1.0zM52.7 39.0h1.0v1.0h-1.0zM79.0 19.2h1.0v1.0h-1.0zM71.5 40.0h1.0v1.0h-1.0zM82.1 46.7h1.0v1.0h-1.0zM64.1 32.5h1.0v1.0h-1.0zM64.9 34.7h1.0v1.0h-1.0zM63.4 44.0h1.0v1.0h-1.0zM57.7 16.4h1.0v1.0h-1.0zM63.3 30.0h1.0v1.0h-1.0zM79.1 34.9h1.0v1.0h-1.0zM56.7 28.4h1.0v1.0h-1.0zM50.3 20.1h1.0v1.0h-1.0zM69.0 21.5h1.0v1.0h-1.0zM56.9 22.4h1.0v1.0h-1.0zM45.7 33.6h1.0v1.0h-1.0zM49.5 29.8h1.0v1.0h-1.0zM51.3 27.5h1.0v1.0h-1.0zM55.0 13.7h1.0v1.0h-1.0zM56.2 35.5h1.0v1.0h-1.0zM75.2 20.0h1.0v1.0h-1.0zM64.7 34.3h1.0v1.0h-1.0zM83.3 32.6h1.0v1.0h-1.0zM48.6 38.3h1.0v1.0h-1.0zM60.9 16.6h1.0v1.0h-1.0zM79.3 39.0h1.0v1.0h-1.0zM83.8 36.8h1.0v1.0h-1.0zM53.7 30.9h1.0v1.0h-1.0zM58.5 28.4h1.0v1.0h-1.0zM66.5 34.7h1.0v1.0h-1.0zM68.0 22.0h1.0v1.0h-1.0zM52.5 35.2h1.0v1.0h-1.0zM52.7 33.7h1.0v1.0h-1.0zM64.6 44.6h1.0v1.0h-1.0zM62.7 20.9h1.0v1.0h-1.0zM74.3 26.8h1.0v1.0h-1.0zM54.7 36.4h1.0v1.0h-1.0zM53.9 23.5h1.0v1.0h-1.0zM69.8 29.5h1.0v1.0h-1.0zM67.9 17.1h1.0v1.0h-1.0zM49.7 41.8h1.0v1.0h-1.0zM79.3 26.7h1.0v1.0h-1.0zM47.1 34.9h1.0v1.0h-1.0zM62.0 33.3h1.0v1.0h-1.0zM55.9 36.3h1.0v1.0h-1.0zM81.0 34.9h1.0v1.0h-1.0zM51.7 29.0h1.0v1.0h-1.0zM52.9 30.1h1.0v1.0h-1.0zM56.4 12.7h1.0v1.0h-1.0zM64.5 35.6h1.0v1.0h-1.0zM73.5 36.3h1.0v1.0h-1.0zM74.0 24.4h1.0v1.0h-1.0zM49.7 22.4h1.0v1.0h-1.0zM77.3 29.9h1.0v1.0h-1.0zM80.6 36.3h1.0v1.0h-1.0zM54.3 30.0h1.0v1.0h-1.0zM52.9 19.4h1.0v1.0h-1.0zM55.3 11.5h1.0v1.0h-1.0zM79.3 26.8h1.0v1.0h-1.0zM59.7 18.8h1.0v1.0h-1.0zM76.4 38.4h1.0v1.0h-1.0zM52.3 40.2h1.0v1.0h-1.0zM58.0 40.7h1.0v1.0h-1.0zM62.5 28.4h1.0v1.0h-1.0z" fill="#9aa8cc"/><path d="M48.2 48.1h1.0v1.0h-1.0zM49.7 29.6h1.0v1.0h-1.0zM51.5 24.5h1.0v1.0h-1.0zM50.0 24.3h1.0v1.0h-1.0zM46.2 32.6h1.0v1.0h-1.0zM53.4 18.8h1.0v1.0h-1.0zM51.8 19.4h1.0v1.0h-1.0zM50.2 36.3h1.0v1.0h-1.0zM50.1 16.8h1.0v1.0h-1.0zM49.3 40.4h1.0v1.0h-1.0z" fill="#5f7fc0"/></g><path d="M50.5 9.8 H84.7 V70.6 H38 Z" fill="none" stroke="#c6a3ca" stroke-width="0.65"/><text x="65.5" y="9.9" font-size="7.6" text-anchor="middle" fill="#ab6db0">0.0424</text><path d="M0 -0.5H86.6V74.2" fill="none" stroke="#7a7a7a" stroke-width="0.75"/><path d="M0 -0.5V74.2H86.6" fill="none" stroke="#222" stroke-width="0.9"/><line x1="-1.6" y1="74.10" x2="0" y2="74.10" stroke="#333" stroke-width="0.6"/><text x="-1.3" y="76.00" font-size="4.8" text-anchor="end" fill="#000" stroke="#000" stroke-width="0.15">0</text><line x1="-1.6" y1="60.53" x2="0" y2="60.53" stroke="#333" stroke-width="0.6"/><text x="-1.3" y="62.43" font-size="4.8" text-anchor="end" fill="#000" stroke="#000" stroke-width="0.15">50K</text><line x1="-1.6" y1="46.31" x2="0" y2="46.31" stroke="#333" stroke-width="0.6"/><text x="-1.3" y="48.21" font-size="4.8" text-anchor="end" fill="#000" stroke="#000" stroke-width="0.15">100K</text><line x1="-1.6" y1="32.09" x2="0" y2="32.09" stroke="#333" stroke-width="0.6"/><text x="-1.3" y="33.99" font-size="4.8" text-anchor="end" fill="#000" stroke="#000" stroke-width="0.15">150K</text><line x1="-1.6" y1="17.87" x2="0" y2="17.87" stroke="#333" stroke-width="0.6"/><text x="-1.3" y="19.77" font-size="4.8" text-anchor="end" fill="#000" stroke="#000" stroke-width="0.15">200K</text><line x1="-1.6" y1="3.65" x2="0" y2="3.65" stroke="#333" stroke-width="0.6"/><text x="-1.3" y="5.55" font-size="4.8" text-anchor="end" fill="#000" stroke="#000" stroke-width="0.15">250K</text><line x1="9" y1="74.2" x2="9" y2="76.0" stroke="#333" stroke-width="0.6"/><line x1="28" y1="74.2" x2="28" y2="76.0" stroke="#333" stroke-width="0.6"/><line x1="47" y1="74.2" x2="47" y2="76.0" stroke="#333" stroke-width="0.6"/><line x1="66" y1="74.2" x2="66" y2="76.0" stroke="#333" stroke-width="0.6"/><line x1="84" y1="74.2" x2="84" y2="76.0" stroke="#333" stroke-width="0.6"/><path d="M2 74.2v1M5 74.2v1M8 74.2v1M11 74.2v1M14 74.2v1M17 74.2v1M20 74.2v1M23 74.2v1M26 74.2v1M29 74.2v1M32 74.2v1M35 74.2v1M38 74.2v1M41 74.2v1M44 74.2v1M47 74.2v1M50 74.2v1M53 74.2v1M56 74.2v1M59 74.2v1M62 74.2v1M65 74.2v1M68 74.2v1M71 74.2v1M74 74.2v1M77 74.2v1M80 74.2v1M83 74.2v1" stroke="#666" stroke-width="0.35" fill="none"/><text x="10" y="82.4" font-size="5.2" text-anchor="middle" fill="#000" stroke="#000" stroke-width="0.2">0</text><text x="19.0" y="82.4" font-size="5.2" text-anchor="middle" fill="#000" stroke="#000" stroke-width="0.2" textLength="6.6" lengthAdjust="spacingAndGlyphs">10<tspan dy="-2.2" font-size="2.8">2</tspan></text><text x="39.6" y="82.4" font-size="5.2" text-anchor="middle" fill="#000" stroke="#000" stroke-width="0.2" textLength="6.6" lengthAdjust="spacingAndGlyphs">10<tspan dy="-2.2" font-size="2.8">3</tspan></text><text x="60.4" y="82.4" font-size="5.2" text-anchor="middle" fill="#000" stroke="#000" stroke-width="0.2" textLength="6.6" lengthAdjust="spacingAndGlyphs">10<tspan dy="-2.2" font-size="2.8">4</tspan></text><text x="78.7" y="82.4" font-size="5.2" text-anchor="middle" fill="#000" stroke="#000" stroke-width="0.2" textLength="6.6" lengthAdjust="spacingAndGlyphs">10<tspan dy="-2.2" font-size="2.8">5</tspan></text></g>
<g transform="translate(336.2,278.8)"><g filter="url(#b0)"><path d="M3.5 24.2h1.0v1.0h-1.0zM43.4 24.0h1.0v1.0h-1.0zM41.5 23.8h1.0v1.0h-1.0zM40.2 50.9h1.0v1.0h-1.0zM33.3 56.7h1.0v1.0h-1.0zM43.8 25.7h1.0v1.0h-1.0zM40.1 43.4h1.0v1.0h-1.0zM43.3 33.9h1.0v1.0h-1.0zM50.0 40.7h1.0v1.0h-1.0zM51.7 18.3h1.0v1.0h-1.0zM9.0 20.1h1.0v1.0h-1.0zM41.5 33.8h1.0v1.0h-1.0zM42.3 46.3h1.0v1.0h-1.0zM48.9 35.5h1.0v1.0h-1.0zM8.7 21.7h1.0v1.0h-1.0zM44.2 33.2h1.0v1.0h-1.0zM26.5 15.0h1.0v1.0h-1.0zM1.9 29.7h1.0v1.0h-1.0zM37.4 52.6h1.0v1.0h-1.0zM40.4 15.6h1.0v1.0h-1.0zM41.2 31.9h1.0v1.0h-1.0zM15.6 18.6h1.0v1.0h-1.0zM43.2 43.8h1.0v1.0h-1.0zM34.3 13.8h1.0v1.0h-1.0zM41.4 28.4h1.0v1.0h-1.0zM33.9 59.5h1.0v1.0h-1.0zM26.8 14.7h1.0v1.0h-1.0zM3.2 25.7h1.0v1.0h-1.0zM29.8 15.7h1.0v1.0h-1.0zM50.4 17.0h1.0v1.0h-1.0zM40.0 48.9h1.0v1.0h-1.0zM45.1 48.5h1.0v1.0h-1.0zM13.6 21.2h1.0v1.0h-1.0zM40.6 44.5h1.0v1.0h-1.0zM35.0 58.0h1.0v1.0h-1.0zM45.2 30.5h1.0v1.0h-1.0zM38.3 47.7h1.0v1.0h-1.0zM19.3 18.5h1.0v1.0h-1.0zM40.8 45.0h1.0v1.0h-1.0zM30.9 13.9h1.0v1.0h-1.0zM40.1 18.8h1.0v1.0h-1.0zM2.6 21.9h1.0v1.0h-1.0zM4.1 23.8h1.0v1.0h-1.0zM4.1 24.3h1.0v1.0h-1.0zM9.6 24.2h1.0v1.0h-1.0zM39.5 51.5h1.0v1.0h-1.0zM47.2 42.9h1.0v1.0h-1.0zM38.5 47.1h1.0v1.0h-1.0zM24.8 16.0h1.0v1.0h-1.0zM41.6 25.6h1.0v1.0h-1.0zM31.4 59.5h1.0v1.0h-1.0zM15.7 19.1h1.0v1.0h-1.0zM40.8 28.3h1.0v1.0h-1.0zM12.0 21.9h1.0v1.0h-1.0zM11.8 59.6h1.0v1.0h-1.0zM44.5 27.0h1.0v1.0h-1.0zM42.6 18.5h1.0v1.0h-1.0zM11.1 21.5h1.0v1.0h-1.0zM42.2 40.6h1.0v1.0h-1.0zM39.7 51.6h1.0v1.0h-1.0zM3.1 22.3h1.0v1.0h-1.0zM1.5 28.1h1.0v1.0h-1.0zM16.6 19.8h1.0v1.0h-1.0zM13.4 20.5h1.0v1.0h-1.0zM41.7 33.5h1.0v1.0h-1.0zM43.6 23.7h1.0v1.0h-1.0zM39.6 44.5h1.0v1.0h-1.0zM19.8 59.7h1.0v1.0h-1.0zM42.2 31.1h1.0v1.0h-1.0zM42.0 25.5h1.0v1.0h-1.0zM30.8 15.6h1.0v1.0h-1.0zM3.7 27.7h1.0v1.0h-1.0zM40.4 43.8h1.0v1.0h-1.0zM40.8 28.7h1.0v1.0h-1.0zM24.8 60.4h1.0v1.0h-1.0zM42.3 18.9h1.0v1.0h-1.0zM46.5 44.1h1.0v1.0h-1.0zM23.7 16.5h1.0v1.0h-1.0zM23.2 60.0h1.0v1.0h-1.0zM42.2 49.1h1.0v1.0h-1.0zM16.2 18.8h1.0v1.0h-1.0zM35.0 56.8h1.0v1.0h-1.0zM40.9 34.5h1.0v1.0h-1.0zM38.0 50.9h1.0v1.0h-1.0zM11.1 59.3h1.0v1.0h-1.0zM40.7 32.3h1.0v1.0h-1.0zM48.5 36.3h1.0v1.0h-1.0zM42.8 32.2h1.0v1.0h-1.0zM4.4 60.2h1.0v1.0h-1.0zM40.2 40.7h1.0v1.0h-1.0zM42.6 27.4h1.0v1.0h-1.0zM30.7 14.8h1.0v1.0h-1.0zM40.5 38.2h1.0v1.0h-1.0zM7.0 25.2h1.0v1.0h-1.0zM22.6 15.4h1.0v1.0h-1.0zM17.7 59.1h1.0v1.0h-1.0zM42.1 18.0h1.0v1.0h-1.0zM39.4 44.6h1.0v1.0h-1.0zM32.8 56.1h1.0v1.0h-1.0zM43.4 36.6h1.0v1.0h-1.0zM15.0 59.3h1.0v1.0h-1.0zM26.5 58.6h1.0v1.0h-1.0zM51.8 30.1h1.0v1.0h-1.0zM40.7 24.7h1.0v1.0h-1.0zM49.6 49.4h1.0v1.0h-1.0zM40.0 19.5h1.0v1.0h-1.0zM37.2 50.4h1.0v1.0h-1.0zM34.9 55.8h1.0v1.0h-1.0zM40.5 38.8h1.0v1.0h-1.0zM32.7 59.6h1.0v1.0h-1.0zM25.6 16.4h1.0v1.0h-1.0zM45.9 45.0h1.0v1.0h-1.0zM6.4 24.8h1.0v1.0h-1.0zM25.0 16.3h1.0v1.0h-1.0zM40.3 24.2h1.0v1.0h-1.0zM1.1 30.4h1.0v1.0h-1.0zM40.6 40.3h1.0v1.0h-1.0zM40.8 34.6h1.0v1.0h-1.0zM10.2 20.8h1.0v1.0h-1.0zM40.4 23.3h1.0v1.0h-1.0zM44.9 21.8h1.0v1.0h-1.0zM37.5 50.1h1.0v1.0h-1.0zM41.1 31.5h1.0v1.0h-1.0zM18.3 59.2h1.0v1.0h-1.0zM42.6 39.5h1.0v1.0h-1.0zM26.8 15.5h1.0v1.0h-1.0zM46.9 48.4h1.0v1.0h-1.0zM40.6 30.2h1.0v1.0h-1.0zM2.1 28.6h1.0v1.0h-1.0zM11.8 19.1h1.0v1.0h-1.0zM36.9 51.9h1.0v1.0h-1.0zM30.5 59.2h1.0v1.0h-1.0zM12.0 21.5h1.0v1.0h-1.0zM42.2 49.7h1.0v1.0h-1.0zM39.0 51.4h1.0v1.0h-1.0zM39.1 47.0h1.0v1.0h-1.0zM11.6 59.5h1.0v1.0h-1.0zM44.1 34.5h1.0v1.0h-1.0zM36.5 55.1h1.0v1.0h-1.0zM19.2 17.3h1.0v1.0h-1.0zM29.3 59.2h1.0v1.0h-1.0zM38.5 49.0h1.0v1.0h-1.0zM15.8 59.5h1.0v1.0h-1.0zM43.8 19.0h1.0v1.0h-1.0zM40.4 23.9h1.0v1.0h-1.0zM40.7 24.5h1.0v1.0h-1.0zM41.1 33.7h1.0v1.0h-1.0zM45.3 24.5h1.0v1.0h-1.0zM23.5 59.2h1.0v1.0h-1.0zM3.8 24.9h1.0v1.0h-1.0zM32.8 56.0h1.0v1.0h-1.0zM47.1 29.4h1.0v1.0h-1.0zM45.4 27.6h1.0v1.0h-1.0zM49.2 24.5h1.0v1.0h-1.0zM41.3 19.8h1.0v1.0h-1.0zM44.0 34.0h1.0v1.0h-1.0zM40.6 37.0h1.0v1.0h-1.0zM41.5 35.2h1.0v1.0h-1.0zM27.6 14.5h1.0v1.0h-1.0zM42.3 42.3h1.0v1.0h-1.0zM21.8 16.0h1.0v1.0h-1.0zM41.7 35.5h1.0v1.0h-1.0zM15.0 19.6h1.0v1.0h-1.0zM41.8 23.6h1.0v1.0h-1.0zM43.4 26.3h1.0v1.0h-1.0zM9.3 20.7h1.0v1.0h-1.0zM39.3 45.3h1.0v1.0h-1.0zM45.8 30.0h1.0v1.0h-1.0zM42.4 32.2h1.0v1.0h-1.0zM24.8 16.0h1.0v1.0h-1.0zM42.7 19.3h1.0v1.0h-1.0zM1.0 25.2h1.0v1.0h-1.0zM4.5 21.5h1.0v1.0h-1.0zM46.1 28.3h1.0v1.0h-1.0zM44.1 33.4h1.0v1.0h-1.0zM42.0 36.7h1.0v1.0h-1.0zM39.6 47.1h1.0v1.0h-1.0zM40.8 30.9h1.0v1.0h-1.0zM13.6 59.2h1.0v1.0h-1.0zM38.5 51.8h1.0v1.0h-1.0zM40.6 47.1h1.0v1.0h-1.0zM38.2 16.3h1.0v1.0h-1.0zM40.8 22.2h1.0v1.0h-1.0zM38.1 48.2h1.0v1.0h-1.0zM42.0 27.9h1.0v1.0h-1.0zM45.1 26.7h1.0v1.0h-1.0zM40.8 32.9h1.0v1.0h-1.0zM42.8 50.1h1.0v1.0h-1.0zM41.5 49.4h1.0v1.0h-1.0zM40.1 50.6h1.0v1.0h-1.0zM32.0 57.0h1.0v1.0h-1.0zM10.0 23.5h1.0v1.0h-1.0zM44.4 41.7h1.0v1.0h-1.0zM19.7 17.2h1.0v1.0h-1.0zM49.7 38.1h1.0v1.0h-1.0zM39.4 47.8h1.0v1.0h-1.0zM41.8 42.7h1.0v1.0h-1.0zM41.1 37.2h1.0v1.0h-1.0zM36.7 51.7h1.0v1.0h-1.0zM40.3 18.6h1.0v1.0h-1.0zM36.3 53.3h1.0v1.0h-1.0zM38.3 16.0h1.0v1.0h-1.0zM41.0 26.2h1.0v1.0h-1.0zM32.2 58.7h1.0v1.0h-1.0zM41.2 30.2h1.0v1.0h-1.0zM40.8 36.5h1.0v1.0h-1.0zM40.8 52.1h1.0v1.0h-1.0zM40.9 52.9h1.0v1.0h-1.0zM41.9 40.6h1.0v1.0h-1.0zM23.6 16.9h1.0v1.0h-1.0zM44.2 25.0h1.0v1.0h-1.0zM1.0 60.2h1.0v1.0h-1.0zM46.2 35.9h1.0v1.0h-1.0zM41.8 24.1h1.0v1.0h-1.0zM46.4 39.3h1.0v1.0h-1.0zM28.0 15.2h1.0v1.0h-1.0zM48.3 36.1h1.0v1.0h-1.0zM1.8 23.7h1.0v1.0h-1.0zM44.2 22.4h1.0v1.0h-1.0zM24.3 16.8h1.0v1.0h-1.0zM2.5 59.5h1.0v1.0h-1.0zM41.6 34.6h1.0v1.0h-1.0zM42.1 26.4h1.0v1.0h-1.0zM31.8 57.1h1.0v1.0h-1.0zM22.3 17.0h1.0v1.0h-1.0zM41.4 27.3h1.0v1.0h-1.0zM27.2 59.4h1.0v1.0h-1.0zM43.6 19.9h1.0v1.0h-1.0zM43.1 35.6h1.0v1.0h-1.0zM38.9 50.6h1.0v1.0h-1.0zM43.5 45.6h1.0v1.0h-1.0zM40.6 31.7h1.0v1.0h-1.0zM39.9 58.1h1.0v1.0h-1.0zM0.7 22.6h1.0v1.0h-1.0zM39.0 46.9h1.0v1.0h-1.0zM36.2 55.5h1.0v1.0h-1.0zM41.5 36.8h1.0v1.0h-1.0zM40.3 15.3h1.0v1.0h-1.0zM39.7 16.8h1.0v1.0h-1.0zM40.5 37.5h1.0v1.0h-1.0zM45.1 22.8h1.0v1.0h-1.0zM26.8 59.3h1.0v1.0h-1.0zM1.2 29.9h1.0v1.0h-1.0zM40.7 39.0h1.0v1.0h-1.0zM43.9 37.7h1.0v1.0h-1.0zM21.2 59.4h1.0v1.0h-1.0zM1.5 12.0h1.0v1.0h-1.0zM40.4 16.2h1.0v1.0h-1.0zM40.4 42.7h1.0v1.0h-1.0zM4.6 21.2h1.0v1.0h-1.0zM41.1 39.8h1.0v1.0h-1.0zM13.8 17.4h1.0v1.0h-1.0zM11.6 19.9h1.0v1.0h-1.0zM46.4 41.7h1.0v1.0h-1.0zM15.5 18.4h1.0v1.0h-1.0zM40.8 29.2h1.0v1.0h-1.0zM43.3 35.1h1.0v1.0h-1.0zM35.7 55.2h1.0v1.0h-1.0zM43.3 22.8h1.0v1.0h-1.0zM43.1 33.3h1.0v1.0h-1.0zM41.3 31.4h1.0v1.0h-1.0zM40.4 44.3h1.0v1.0h-1.0zM31.4 15.7h1.0v1.0h-1.0zM44.9 23.7h1.0v1.0h-1.0zM41.7 25.7h1.0v1.0h-1.0zM41.1 18.1h1.0v1.0h-1.0zM15.7 59.4h1.0v1.0h-1.0zM7.1 21.7h1.0v1.0h-1.0zM38.9 47.9h1.0v1.0h-1.0zM42.4 32.9h1.0v1.0h-1.0zM45.6 22.6h1.0v1.0h-1.0zM43.6 20.6h1.0v1.0h-1.0zM49.6 25.1h1.0v1.0h-1.0zM34.3 15.4h1.0v1.0h-1.0zM46.1 32.1h1.0v1.0h-1.0zM21.8 59.9h1.0v1.0h-1.0zM36.0 55.3h1.0v1.0h-1.0zM40.6 33.8h1.0v1.0h-1.0zM2.7 21.9h1.0v1.0h-1.0zM43.0 43.6h1.0v1.0h-1.0zM41.4 23.2h1.0v1.0h-1.0zM18.9 59.1h1.0v1.0h-1.0zM32.0 57.3h1.0v1.0h-1.0zM1.2 30.1h1.0v1.0h-1.0zM24.7 16.7h1.0v1.0h-1.0zM41.6 26.4h1.0v1.0h-1.0zM41.5 32.6h1.0v1.0h-1.0zM41.4 15.7h1.0v1.0h-1.0zM38.5 55.4h1.0v1.0h-1.0zM2.4 22.6h1.0v1.0h-1.0zM33.3 57.5h1.0v1.0h-1.0zM41.5 14.0h1.0v1.0h-1.0zM35.3 58.6h1.0v1.0h-1.0zM34.7 58.7h1.0v1.0h-1.0zM11.9 18.1h1.0v1.0h-1.0zM41.8 43.9h1.0v1.0h-1.0zM20.1 16.9h1.0v1.0h-1.0zM43.8 40.8h1.0v1.0h-1.0zM3.8 22.2h1.0v1.0h-1.0zM40.8 23.9h1.0v1.0h-1.0zM14.2 21.0h1.0v1.0h-1.0zM40.8 57.7h1.0v1.0h-1.0zM17.1 17.7h1.0v1.0h-1.0zM17.6 59.7h1.0v1.0h-1.0zM42.0 30.1h1.0v1.0h-1.0zM5.9 20.8h1.0v1.0h-1.0zM3.5 26.0h1.0v1.0h-1.0zM40.1 38.7h1.0v1.0h-1.0zM43.7 18.4h1.0v1.0h-1.0zM8.1 20.7h1.0v1.0h-1.0zM40.7 43.4h1.0v1.0h-1.0zM20.9 59.5h1.0v1.0h-1.0zM34.0 57.0h1.0v1.0h-1.0zM43.7 24.8h1.0v1.0h-1.0zM1.6 27.6h1.0v1.0h-1.0zM13.9 20.9h1.0v1.0h-1.0zM44.8 30.2h1.0v1.0h-1.0zM8.7 23.5h1.0v1.0h-1.0zM43.2 21.7h1.0v1.0h-1.0zM45.7 25.5h1.0v1.0h-1.0zM47.3 39.2h1.0v1.0h-1.0z" fill="#2450a4"/><path d="M41.9 53.1h0.9v0.9h-0.9zM12.1 59.1h0.9v0.9h-0.9zM10.3 21.5h0.9v0.9h-0.9zM9.9 59.5h0.9v0.9h-0.9zM43.1 46.9h0.9v0.9h-0.9zM8.9 59.7h0.9v0.9h-0.9zM49.3 44.1h0.9v0.9h-0.9zM34.6 15.1h0.9v0.9h-0.9zM19.6 16.8h0.9v0.9h-0.9zM41.0 35.0h0.9v0.9h-0.9zM23.4 58.6h0.9v0.9h-0.9zM40.8 21.4h0.9v0.9h-0.9zM35.1 15.2h0.9v0.9h-0.9zM40.2 41.5h0.9v0.9h-0.9zM24.5 60.2h0.9v0.9h-0.9zM41.5 19.6h0.9v0.9h-0.9zM43.1 24.7h0.9v0.9h-0.9zM37.8 49.1h0.9v0.9h-0.9zM41.3 20.4h0.9v0.9h-0.9zM16.6 19.5h0.9v0.9h-0.9zM41.4 41.5h0.9v0.9h-0.9zM6.7 22.3h0.9v0.9h-0.9zM49.2 26.3h0.9v0.9h-0.9zM37.3 15.2h0.9v0.9h-0.9zM44.3 28.7h0.9v0.9h-0.9zM39.2 45.8h0.9v0.9h-0.9zM33.7 56.6h0.9v0.9h-0.9zM43.6 35.5h0.9v0.9h-0.9zM40.3 38.7h0.9v0.9h-0.9zM24.7 60.2h0.9v0.9h-0.9zM39.9 51.2h0.9v0.9h-0.9zM30.7 15.3h0.9v0.9h-0.9zM45.3 32.4h0.9v0.9h-0.9zM43.4 47.2h0.9v0.9h-0.9zM46.2 31.7h0.9v0.9h-0.9zM41.6 43.9h0.9v0.9h-0.9zM5.7 22.9h0.9v0.9h-0.9zM41.1 23.4h0.9v0.9h-0.9zM41.0 35.2h0.9v0.9h-0.9zM2.6 28.1h0.9v0.9h-0.9zM47.9 29.3h0.9v0.9h-0.9zM4.3 23.0h0.9v0.9h-0.9zM40.4 46.5h0.9v0.9h-0.9zM3.5 59.4h0.9v0.9h-0.9zM36.1 59.3h0.9v0.9h-0.9zM44.6 28.0h0.9v0.9h-0.9zM42.1 44.4h0.9v0.9h-0.9zM11.2 23.0h0.9v0.9h-0.9zM45.2 35.9h0.9v0.9h-0.9zM38.3 49.2h0.9v0.9h-0.9zM17.8 59.3h0.9v0.9h-0.9zM42.0 37.3h0.9v0.9h-0.9zM18.5 15.8h0.9v0.9h-0.9zM46.1 41.6h0.9v0.9h-0.9zM41.0 27.7h0.9v0.9h-0.9zM41.0 40.6h0.9v0.9h-0.9zM12.1 21.8h0.9v0.9h-0.9zM43.2 28.4h0.9v0.9h-0.9zM14.2 59.3h0.9v0.9h-0.9zM40.7 21.8h0.9v0.9h-0.9zM40.9 21.2h0.9v0.9h-0.9zM40.0 49.3h0.9v0.9h-0.9zM16.4 19.9h0.9v0.9h-0.9zM34.1 56.1h0.9v0.9h-0.9zM39.3 51.8h0.9v0.9h-0.9zM36.6 52.5h0.9v0.9h-0.9zM40.3 17.9h0.9v0.9h-0.9zM41.6 42.2h0.9v0.9h-0.9zM0.7 29.3h0.9v0.9h-0.9zM43.9 22.2h0.9v0.9h-0.9zM32.8 58.1h0.9v0.9h-0.9zM41.7 23.7h0.9v0.9h-0.9zM37.9 52.6h0.9v0.9h-0.9zM12.4 19.0h0.9v0.9h-0.9zM40.9 39.2h0.9v0.9h-0.9zM41.9 33.8h0.9v0.9h-0.9zM41.0 27.8h0.9v0.9h-0.9zM40.6 28.3h0.9v0.9h-0.9zM40.7 20.6h0.9v0.9h-0.9zM39.8 49.0h0.9v0.9h-0.9zM42.6 34.9h0.9v0.9h-0.9zM39.7 45.1h0.9v0.9h-0.9zM14.9 18.0h0.9v0.9h-0.9zM36.9 51.5h0.9v0.9h-0.9zM40.3 20.1h0.9v0.9h-0.9zM15.0 59.2h0.9v0.9h-0.9zM41.5 25.9h0.9v0.9h-0.9zM18.9 15.7h0.9v0.9h-0.9zM33.8 58.3h0.9v0.9h-0.9zM40.1 14.3h0.9v0.9h-0.9zM25.3 16.7h0.9v0.9h-0.9zM36.8 15.4h0.9v0.9h-0.9zM40.6 20.8h0.9v0.9h-0.9zM37.9 54.6h0.9v0.9h-0.9zM39.7 16.2h0.9v0.9h-0.9zM33.8 15.3h0.9v0.9h-0.9zM40.3 17.8h0.9v0.9h-0.9zM1.0 29.4h0.9v0.9h-0.9zM9.6 22.6h0.9v0.9h-0.9zM9.1 59.4h0.9v0.9h-0.9zM9.7 60.0h0.9v0.9h-0.9zM28.5 16.2h0.9v0.9h-0.9zM10.3 21.2h0.9v0.9h-0.9zM42.6 34.9h0.9v0.9h-0.9zM40.6 46.8h0.9v0.9h-0.9zM49.1 36.6h0.9v0.9h-0.9zM2.5 59.8h0.9v0.9h-0.9zM32.1 57.3h0.9v0.9h-0.9zM33.7 56.3h0.9v0.9h-0.9zM15.5 59.8h0.9v0.9h-0.9zM42.9 22.9h0.9v0.9h-0.9zM9.4 59.8h0.9v0.9h-0.9zM43.6 17.9h0.9v0.9h-0.9zM41.2 33.2h0.9v0.9h-0.9zM37.2 52.1h0.9v0.9h-0.9zM45.1 30.1h0.9v0.9h-0.9zM40.8 26.6h0.9v0.9h-0.9zM25.3 60.1h0.9v0.9h-0.9zM22.4 15.8h0.9v0.9h-0.9zM22.2 58.9h0.9v0.9h-0.9zM45.2 35.6h0.9v0.9h-0.9zM43.4 21.2h0.9v0.9h-0.9zM1.0 29.7h0.9v0.9h-0.9zM42.2 31.4h0.9v0.9h-0.9zM41.0 22.6h0.9v0.9h-0.9zM8.3 59.4h0.9v0.9h-0.9zM29.8 59.1h0.9v0.9h-0.9zM41.2 36.3h0.9v0.9h-0.9zM39.4 47.4h0.9v0.9h-0.9zM42.6 38.0h0.9v0.9h-0.9zM43.7 35.9h0.9v0.9h-0.9zM41.7 34.1h0.9v0.9h-0.9zM7.3 23.9h0.9v0.9h-0.9zM41.6 53.5h0.9v0.9h-0.9zM36.8 53.4h0.9v0.9h-0.9zM41.6 28.9h0.9v0.9h-0.9zM40.9 28.9h0.9v0.9h-0.9zM46.9 38.7h0.9v0.9h-0.9zM0.7 27.5h0.9v0.9h-0.9zM2.1 60.4h0.9v0.9h-0.9zM16.0 18.2h0.9v0.9h-0.9zM19.9 59.4h0.9v0.9h-0.9zM1.2 27.2h0.9v0.9h-0.9zM38.4 47.9h0.9v0.9h-0.9zM41.2 18.9h0.9v0.9h-0.9zM39.6 58.9h0.9v0.9h-0.9zM1.6 60.3h0.9v0.9h-0.9zM41.2 18.7h0.9v0.9h-0.9zM46.0 49.5h0.9v0.9h-0.9zM26.9 15.7h0.9v0.9h-0.9zM42.9 36.2h0.9v0.9h-0.9zM42.2 16.7h0.9v0.9h-0.9zM39.5 16.6h0.9v0.9h-0.9zM17.3 59.1h0.9v0.9h-0.9zM12.4 22.0h0.9v0.9h-0.9zM39.8 47.4h0.9v0.9h-0.9zM39.7 49.2h0.9v0.9h-0.9zM2.4 28.8h0.9v0.9h-0.9zM40.3 48.9h0.9v0.9h-0.9zM44.1 28.2h0.9v0.9h-0.9zM21.7 17.3h0.9v0.9h-0.9zM23.7 59.2h0.9v0.9h-0.9zM37.0 51.1h0.9v0.9h-0.9zM23.7 58.6h0.9v0.9h-0.9zM12.4 20.8h0.9v0.9h-0.9zM40.8 57.6h0.9v0.9h-0.9zM13.9 59.6h0.9v0.9h-0.9zM43.3 45.3h0.9v0.9h-0.9zM33.6 55.7h0.9v0.9h-0.9zM40.6 42.9h0.9v0.9h-0.9zM3.6 26.2h0.9v0.9h-0.9zM46.7 35.8h0.9v0.9h-0.9zM35.2 14.8h0.9v0.9h-0.9zM43.3 21.9h0.9v0.9h-0.9zM43.6 49.4h0.9v0.9h-0.9zM2.1 26.2h0.9v0.9h-0.9zM41.5 31.9h0.9v0.9h-0.9zM2.8 60.1h0.9v0.9h-0.9zM44.4 19.1h0.9v0.9h-0.9zM6.2 25.5h0.9v0.9h-0.9zM39.2 13.8h0.9v0.9h-0.9zM48.2 20.1h0.9v0.9h-0.9zM44.8 17.5h0.9v0.9h-0.9zM23.2 59.9h0.9v0.9h-0.9zM3.1 14.9h0.9v0.9h-0.9zM42.8 40.4h0.9v0.9h-0.9zM20.9 59.6h0.9v0.9h-0.9zM39.3 16.9h0.9v0.9h-0.9zM43.1 24.1h0.9v0.9h-0.9zM45.3 36.9h0.9v0.9h-0.9zM41.3 41.1h0.9v0.9h-0.9zM43.3 30.6h0.9v0.9h-0.9zM26.6 16.0h0.9v0.9h-0.9zM35.3 56.5h0.9v0.9h-0.9zM34.7 57.7h0.9v0.9h-0.9zM0.6 59.9h0.9v0.9h-0.9zM43.3 27.0h0.9v0.9h-0.9zM45.3 28.7h0.9v0.9h-0.9zM2.5 23.2h0.9v0.9h-0.9zM41.3 21.0h0.9v0.9h-0.9zM35.9 58.4h0.9v0.9h-0.9zM9.8 23.7h0.9v0.9h-0.9zM24.3 59.7h0.9v0.9h-0.9zM42.1 29.5h0.9v0.9h-0.9zM12.5 20.4h0.9v0.9h-0.9zM7.2 25.8h0.9v0.9h-0.9zM40.4 34.6h0.9v0.9h-0.9zM42.5 19.1h0.9v0.9h-0.9zM49.4 22.6h0.9v0.9h-0.9zM12.0 59.7h0.9v0.9h-0.9zM12.3 21.7h0.9v0.9h-0.9zM5.5 59.5h0.9v0.9h-0.9zM35.5 14.6h0.9v0.9h-0.9zM42.2 20.4h0.9v0.9h-0.9zM23.5 15.4h0.9v0.9h-0.9zM40.8 34.2h0.9v0.9h-0.9zM34.6 55.6h0.9v0.9h-0.9zM32.1 15.2h0.9v0.9h-0.9zM42.9 21.8h0.9v0.9h-0.9zM43.9 26.7h0.9v0.9h-0.9zM12.2 18.2h0.9v0.9h-0.9zM40.4 39.6h0.9v0.9h-0.9zM10.9 20.8h0.9v0.9h-0.9zM3.9 27.5h0.9v0.9h-0.9zM23.5 14.9h0.9v0.9h-0.9zM41.3 29.3h0.9v0.9h-0.9zM4.4 60.0h0.9v0.9h-0.9zM40.0 53.8h0.9v0.9h-0.9zM1.0 23.7h0.9v0.9h-0.9zM22.7 14.9h0.9v0.9h-0.9zM41.5 56.5h0.9v0.9h-0.9zM43.3 25.8h0.9v0.9h-0.9zM7.4 59.4h0.9v0.9h-0.9zM1.6 26.2h0.9v0.9h-0.9zM17.7 19.5h0.9v0.9h-0.9zM43.5 35.4h0.9v0.9h-0.9zM11.3 59.3h0.9v0.9h-0.9zM43.3 45.7h0.9v0.9h-0.9zM36.6 52.5h0.9v0.9h-0.9zM6.3 25.7h0.9v0.9h-0.9zM40.1 53.7h0.9v0.9h-0.9zM14.8 17.1h0.9v0.9h-0.9zM44.6 39.7h0.9v0.9h-0.9zM19.8 59.4h0.9v0.9h-0.9zM38.0 51.2h0.9v0.9h-0.9zM42.0 37.5h0.9v0.9h-0.9zM36.5 14.7h0.9v0.9h-0.9zM10.3 21.2h0.9v0.9h-0.9z" fill="#3b6cc0"/></g><path d="M0.4 31 7 25.96 14 21.479999999999997 22 17.2 30 16.2 37.1 15.6 39.800000000000004 18.1 40.6 30 39.9 43 36.800000000000004 51.5 30.6 58.3 0.4 59.4Z" fill="#1d4ba2" stroke="#1d4ba2" stroke-width="0.8" stroke-linejoin="round" filter="url(#b0)"/><g filter="url(#b0)"><path d="M14.4 28.7h0.9v0.9h-0.9zM25.9 18.3h0.9v0.9h-0.9zM17.7 22.0h0.9v0.9h-0.9zM9.3 33.9h0.9v0.9h-0.9zM31.2 36.3h0.9v0.9h-0.9zM21.1 18.5h0.9v0.9h-0.9zM10.4 28.5h0.9v0.9h-0.9zM14.1 22.1h0.9v0.9h-0.9zM24.9 23.8h0.9v0.9h-0.9zM3.1 37.4h0.9v0.9h-0.9zM8.3 28.6h0.9v0.9h-0.9zM6.5 31.7h0.9v0.9h-0.9zM22.1 19.3h0.9v0.9h-0.9zM4.6 37.1h0.9v0.9h-0.9zM18.8 19.5h0.9v0.9h-0.9zM25.9 23.7h0.9v0.9h-0.9zM13.6 25.8h0.9v0.9h-0.9zM30.8 33.6h0.9v0.9h-0.9zM19.9 22.0h0.9v0.9h-0.9zM21.9 22.9h0.9v0.9h-0.9zM14.3 22.9h0.9v0.9h-0.9zM6.1 27.4h0.9v0.9h-0.9zM19.9 20.5h0.9v0.9h-0.9zM31.0 18.5h0.9v0.9h-0.9zM20.0 18.4h0.9v0.9h-0.9zM16.2 22.0h0.9v0.9h-0.9zM30.3 23.6h0.9v0.9h-0.9zM31.7 28.2h0.9v0.9h-0.9zM7.3 25.9h0.9v0.9h-0.9zM22.5 18.2h0.9v0.9h-0.9zM2.8 34.4h0.9v0.9h-0.9zM7.5 30.0h0.9v0.9h-0.9zM1.6 37.2h0.9v0.9h-0.9zM18.6 25.9h0.9v0.9h-0.9zM18.6 24.8h0.9v0.9h-0.9zM7.1 31.3h0.9v0.9h-0.9zM19.2 19.3h0.9v0.9h-0.9zM8.4 40.7h0.9v0.9h-0.9zM28.8 16.6h0.9v0.9h-0.9zM23.7 19.1h0.9v0.9h-0.9zM7.5 40.5h0.9v0.9h-0.9zM22.4 23.3h0.9v0.9h-0.9zM15.7 28.4h0.9v0.9h-0.9zM26.9 35.2h0.9v0.9h-0.9zM11.0 27.0h0.9v0.9h-0.9zM1.9 30.5h0.9v0.9h-0.9zM1.6 39.2h0.9v0.9h-0.9zM1.6 35.5h0.9v0.9h-0.9zM20.6 21.8h0.9v0.9h-0.9zM5.3 32.4h0.9v0.9h-0.9zM28.0 22.4h0.9v0.9h-0.9zM17.4 20.0h0.9v0.9h-0.9zM3.1 30.2h0.9v0.9h-0.9zM15.0 21.5h0.9v0.9h-0.9zM21.5 20.5h0.9v0.9h-0.9zM21.0 21.5h0.9v0.9h-0.9zM21.8 26.6h0.9v0.9h-0.9zM9.2 25.1h0.9v0.9h-0.9zM18.1 25.8h0.9v0.9h-0.9zM31.7 21.0h0.9v0.9h-0.9zM18.8 23.0h0.9v0.9h-0.9zM27.9 16.9h0.9v0.9h-0.9zM31.1 18.4h0.9v0.9h-0.9zM9.7 31.6h0.9v0.9h-0.9zM31.1 22.0h0.9v0.9h-0.9zM12.0 27.9h0.9v0.9h-0.9zM20.5 27.6h0.9v0.9h-0.9zM1.0 33.7h0.9v0.9h-0.9zM2.4 35.3h0.9v0.9h-0.9zM4.1 31.1h0.9v0.9h-0.9zM4.6 31.9h0.9v0.9h-0.9zM23.2 17.7h0.9v0.9h-0.9zM2.2 29.9h0.9v0.9h-0.9zM26.3 16.9h0.9v0.9h-0.9zM13.3 23.8h0.9v0.9h-0.9zM15.8 23.6h0.9v0.9h-0.9zM22.4 21.3h0.9v0.9h-0.9zM12.1 40.9h0.9v0.9h-0.9zM8.1 27.0h0.9v0.9h-0.9zM8.1 32.0h0.9v0.9h-0.9zM11.8 29.7h0.9v0.9h-0.9zM27.6 21.8h0.9v0.9h-0.9zM19.5 30.8h0.9v0.9h-0.9zM12.5 22.5h0.9v0.9h-0.9zM10.4 26.3h0.9v0.9h-0.9zM3.5 29.5h0.9v0.9h-0.9zM27.8 24.9h0.9v0.9h-0.9zM9.8 24.9h0.9v0.9h-0.9zM9.0 27.2h0.9v0.9h-0.9zM18.4 35.5h0.9v0.9h-0.9zM19.6 26.1h0.9v0.9h-0.9zM17.8 20.3h0.9v0.9h-0.9zM13.0 25.6h0.9v0.9h-0.9z" fill="#7fa6e0" opacity="0.75"/></g><g transform="translate(1.2,0)"><path d="M1.5 40 Q10 30 22 24 Q31 21 36 26 Q39 34 36.5 45 Q33 54 25 56.5 Q12 57.5 1.5 54 Z" fill="#1f62ba" filter="url(#b2)"/></g><g transform="translate(1.7,0)"><path d="M6 47.5 Q12 40 20 32.5 Q27 27.5 32 31 Q35.5 36 34.3 44 Q32 52.5 26 55.6 Q18 57 11 54 Q5 51 6 47.5Z" fill="#34aee6" filter="url(#b2)"/></g><path transform="translate(25.5,42.7) scale(1.2,1.17)" d="M3.6 -10.6C6.6 -9.8 9.1 -5.3 8.8 -0.8C8.6 4.2 5.6 9.7 0.1 10.6C-4.9 11.2 -9.4 8.2 -8.8 3.7C-8.1 -0.8 -2.9 -9.3 3.6 -10.6Z" fill="#35c4c0" filter="url(#b1)"/><path transform="translate(26.6,43.0) scale(1.0,1.0)" d="M3.6 -10.6C6.6 -9.8 9.1 -5.3 8.8 -0.8C8.6 4.2 5.6 9.7 0.1 10.6C-4.9 11.2 -9.4 8.2 -8.8 3.7C-8.1 -0.8 -2.9 -9.3 3.6 -10.6Z" fill="#52cf48" filter="url(#b1)"/><path transform="translate(27.5,43.7) scale(0.77,0.77)" d="M3.6 -10.6C6.6 -9.8 9.1 -5.3 8.8 -0.8C8.6 4.2 5.6 9.7 0.1 10.6C-4.9 11.2 -9.4 8.2 -8.8 3.7C-8.1 -0.8 -2.9 -9.3 3.6 -10.6Z" fill="#a6dc2c" filter="url(#b1)"/><path transform="translate(28.3,44.4) scale(0.58,0.58)" d="M3.6 -10.6C6.6 -9.8 9.1 -5.3 8.8 -0.8C8.6 4.2 5.6 9.7 0.1 10.6C-4.9 11.2 -9.4 8.2 -8.8 3.7C-8.1 -0.8 -2.9 -9.3 3.6 -10.6Z" fill="#f0e21e" filter="url(#b1)"/><path transform="translate(28.7,44.8) scale(0.4,0.4)" d="M3.6 -10.6C6.6 -9.8 9.1 -5.3 8.8 -0.8C8.6 4.2 5.6 9.7 0.1 10.6C-4.9 11.2 -9.4 8.2 -8.8 3.7C-8.1 -0.8 -2.9 -9.3 3.6 -10.6Z" fill="#f79a1a" filter="url(#b1)"/><path transform="translate(28.8,45) scale(0.22,0.22)" d="M3.6 -10.6C6.6 -9.8 9.1 -5.3 8.8 -0.8C8.6 4.2 5.6 9.7 0.1 10.6C-4.9 11.2 -9.4 8.2 -8.8 3.7C-8.1 -0.8 -2.9 -9.3 3.6 -10.6Z" fill="#f02a1c" filter="url(#b0)"/><g filter="url(#b0)"><path d="M49.7 32.2h1.0v1.0h-1.0zM56.9 19.6h1.0v1.0h-1.0zM62.6 40.4h1.0v1.0h-1.0zM53.2 26.3h1.0v1.0h-1.0zM65.3 22.1h1.0v1.0h-1.0zM45.5 38.5h1.0v1.0h-1.0zM49.7 25.4h1.0v1.0h-1.0zM59.7 12.7h1.0v1.0h-1.0zM55.5 11.9h1.0v1.0h-1.0zM50.0 44.5h1.0v1.0h-1.0zM77.0 22.2h1.0v1.0h-1.0zM59.2 19.8h1.0v1.0h-1.0zM66.7 31.2h1.0v1.0h-1.0zM75.6 29.7h1.0v1.0h-1.0zM50.6 23.5h1.0v1.0h-1.0zM59.3 31.2h1.0v1.0h-1.0zM62.8 31.0h1.0v1.0h-1.0zM64.7 35.7h1.0v1.0h-1.0zM70.8 44.6h1.0v1.0h-1.0zM61.6 39.9h1.0v1.0h-1.0zM44.7 43.2h1.0v1.0h-1.0zM58.8 35.1h1.0v1.0h-1.0zM78.2 15.6h1.0v1.0h-1.0zM58.9 54.7h1.0v1.0h-1.0zM47.3 31.4h1.0v1.0h-1.0zM69.5 33.8h1.0v1.0h-1.0zM65.6 16.2h1.0v1.0h-1.0zM60.8 24.0h1.0v1.0h-1.0zM65.0 31.6h1.0v1.0h-1.0zM59.5 32.4h1.0v1.0h-1.0zM57.5 12.7h1.0v1.0h-1.0zM77.5 39.1h1.0v1.0h-1.0zM70.7 30.5h1.0v1.0h-1.0zM67.4 32.7h1.0v1.0h-1.0zM57.1 30.3h1.0v1.0h-1.0zM67.0 36.6h1.0v1.0h-1.0zM53.8 45.6h1.0v1.0h-1.0zM47.2 33.3h1.0v1.0h-1.0zM45.7 33.8h1.0v1.0h-1.0zM62.4 29.4h1.0v1.0h-1.0zM56.3 14.3h1.0v1.0h-1.0zM64.4 30.9h1.0v1.0h-1.0zM66.7 33.4h1.0v1.0h-1.0zM64.9 34.1h1.0v1.0h-1.0zM53.7 18.9h1.0v1.0h-1.0zM82.5 42.1h1.0v1.0h-1.0zM59.4 24.0h1.0v1.0h-1.0zM61.5 35.0h1.0v1.0h-1.0zM49.2 16.8h1.0v1.0h-1.0zM61.7 20.5h1.0v1.0h-1.0zM53.7 37.2h1.0v1.0h-1.0zM68.4 14.3h1.0v1.0h-1.0zM50.1 16.6h1.0v1.0h-1.0zM53.9 38.8h1.0v1.0h-1.0zM64.1 34.4h1.0v1.0h-1.0zM49.3 28.0h1.0v1.0h-1.0zM57.0 31.7h1.0v1.0h-1.0zM46.8 35.0h1.0v1.0h-1.0zM47.4 26.7h1.0v1.0h-1.0zM65.2 29.0h1.0v1.0h-1.0zM55.7 14.4h1.0v1.0h-1.0zM52.1 12.6h1.0v1.0h-1.0zM70.4 34.5h1.0v1.0h-1.0zM81.4 12.8h1.0v1.0h-1.0zM55.0 23.1h1.0v1.0h-1.0zM71.2 29.1h1.0v1.0h-1.0zM45.5 42.9h1.0v1.0h-1.0zM60.6 30.9h1.0v1.0h-1.0zM78.6 44.5h1.0v1.0h-1.0zM53.9 39.5h1.0v1.0h-1.0zM55.6 25.9h1.0v1.0h-1.0zM53.0 44.3h1.0v1.0h-1.0zM77.6 41.0h1.0v1.0h-1.0zM58.6 26.1h1.0v1.0h-1.0zM82.4 24.3h1.0v1.0h-1.0zM57.0 29.7h1.0v1.0h-1.0zM55.4 21.2h1.0v1.0h-1.0z" fill="#9aa8cc"/><path d="M47.0 40.1h1.0v1.0h-1.0zM46.9 27.4h1.0v1.0h-1.0zM48.8 45.5h1.0v1.0h-1.0zM52.7 18.0h1.0v1.0h-1.0zM47.7 38.7h1.0v1.0h-1.0zM48.9 22.0h1.0v1.0h-1.0zM48.0 24.5h1.0v1.0h-1.0zM45.6 40.7h1.0v1.0h-1.0zM49.6 33.7h1.0v1.0h-1.0zM45.7 41.6h1.0v1.0h-1.0zM50.6 34.4h1.0v1.0h-1.0zM47.6 31.8h1.0v1.0h-1.0zM54.1 13.8h1.0v1.0h-1.0z" fill="#5f7fc0"/></g><path d="M50.5 9.8 H84.7 V70.6 H38 Z" fill="none" stroke="#c6a3ca" stroke-width="0.65"/><text x="65.5" y="9.9" font-size="7.6" text-anchor="middle" fill="#ab6db0">0.0475</text><path d="M0 -0.5H86.6V74.2" fill="none" stroke="#7a7a7a" stroke-width="0.75"/><path d="M0 -0.5V74.2H86.6" fill="none" stroke="#222" stroke-width="0.9"/><line x1="-1.6" y1="74.10" x2="0" y2="74.10" stroke="#333" stroke-width="0.6"/><text x="-1.3" y="76.00" font-size="4.8" text-anchor="end" fill="#000" stroke="#000" stroke-width="0.15">0</text><line x1="-1.6" y1="60.53" x2="0" y2="60.53" stroke="#333" stroke-width="0.6"/><text x="-1.3" y="62.43" font-size="4.8" text-anchor="end" fill="#000" stroke="#000" stroke-width="0.15">50K</text><line x1="-1.6" y1="46.31" x2="0" y2="46.31" stroke="#333" stroke-width="0.6"/><text x="-1.3" y="48.21" font-size="4.8" text-anchor="end" fill="#000" stroke="#000" stroke-width="0.15">100K</text><line x1="-1.6" y1="32.09" x2="0" y2="32.09" stroke="#333" stroke-width="0.6"/><text x="-1.3" y="33.99" font-size="4.8" text-anchor="end" fill="#000" stroke="#000" stroke-width="0.15">150K</text><line x1="-1.6" y1="17.87" x2="0" y2="17.87" stroke="#333" stroke-width="0.6"/><text x="-1.3" y="19.77" font-size="4.8" text-anchor="end" fill="#000" stroke="#000" stroke-width="0.15">200K</text><line x1="-1.6" y1="3.65" x2="0" y2="3.65" stroke="#333" stroke-width="0.6"/><text x="-1.3" y="5.55" font-size="4.8" text-anchor="end" fill="#000" stroke="#000" stroke-width="0.15">250K</text><line x1="9" y1="74.2" x2="9" y2="76.0" stroke="#333" stroke-width="0.6"/><line x1="28" y1="74.2" x2="28" y2="76.0" stroke="#333" stroke-width="0.6"/><line x1="47" y1="74.2" x2="47" y2="76.0" stroke="#333" stroke-width="0.6"/><line x1="66" y1="74.2" x2="66" y2="76.0" stroke="#333" stroke-width="0.6"/><line x1="84" y1="74.2" x2="84" y2="76.0" stroke="#333" stroke-width="0.6"/><path d="M2 74.2v1M5 74.2v1M8 74.2v1M11 74.2v1M14 74.2v1M17 74.2v1M20 74.2v1M23 74.2v1M26 74.2v1M29 74.2v1M32 74.2v1M35 74.2v1M38 74.2v1M41 74.2v1M44 74.2v1M47 74.2v1M50 74.2v1M53 74.2v1M56 74.2v1M59 74.2v1M62 74.2v1M65 74.2v1M68 74.2v1M71 74.2v1M74 74.2v1M77 74.2v1M80 74.2v1M83 74.2v1" stroke="#666" stroke-width="0.35" fill="none"/><text x="10" y="82.4" font-size="5.2" text-anchor="middle" fill="#000" stroke="#000" stroke-width="0.2">0</text><text x="19.0" y="82.4" font-size="5.2" text-anchor="middle" fill="#000" stroke="#000" stroke-width="0.2" textLength="6.6" lengthAdjust="spacingAndGlyphs">10<tspan dy="-2.2" font-size="2.8">2</tspan></text><text x="39.6" y="82.4" font-size="5.2" text-anchor="middle" fill="#000" stroke="#000" stroke-width="0.2" textLength="6.6" lengthAdjust="spacingAndGlyphs">10<tspan dy="-2.2" font-size="2.8">3</tspan></text><text x="60.4" y="82.4" font-size="5.2" text-anchor="middle" fill="#000" stroke="#000" stroke-width="0.2" textLength="6.6" lengthAdjust="spacingAndGlyphs">10<tspan dy="-2.2" font-size="2.8">4</tspan></text><text x="78.7" y="82.4" font-size="5.2" text-anchor="middle" fill="#000" stroke="#000" stroke-width="0.2" textLength="6.6" lengthAdjust="spacingAndGlyphs">10<tspan dy="-2.2" font-size="2.8">5</tspan></text></g>
<g transform="translate(80.1,384.0)"><g filter="url(#b0)"><path d="M42.4 39.0h1.0v1.0h-1.0zM26.6 58.4h1.0v1.0h-1.0zM40.7 41.5h1.0v1.0h-1.0zM39.4 42.7h1.0v1.0h-1.0zM15.7 19.6h1.0v1.0h-1.0zM8.1 23.0h1.0v1.0h-1.0zM40.8 28.2h1.0v1.0h-1.0zM39.6 32.0h1.0v1.0h-1.0zM8.2 18.3h1.0v1.0h-1.0zM38.6 34.5h1.0v1.0h-1.0zM12.7 20.4h1.0v1.0h-1.0zM38.7 49.3h1.0v1.0h-1.0zM39.5 24.3h1.0v1.0h-1.0zM38.0 44.5h1.0v1.0h-1.0zM2.1 59.9h1.0v1.0h-1.0zM39.0 35.5h1.0v1.0h-1.0zM36.7 49.7h1.0v1.0h-1.0zM40.9 37.6h1.0v1.0h-1.0zM40.9 17.4h1.0v1.0h-1.0zM40.6 36.6h1.0v1.0h-1.0zM46.0 22.5h1.0v1.0h-1.0zM44.1 30.2h1.0v1.0h-1.0zM17.1 59.1h1.0v1.0h-1.0zM16.3 59.3h1.0v1.0h-1.0zM37.3 54.0h1.0v1.0h-1.0zM38.8 39.8h1.0v1.0h-1.0zM42.8 41.2h1.0v1.0h-1.0zM29.6 16.0h1.0v1.0h-1.0zM32.6 15.2h1.0v1.0h-1.0zM39.4 33.5h1.0v1.0h-1.0zM22.9 16.3h1.0v1.0h-1.0zM25.7 59.5h1.0v1.0h-1.0zM37.7 48.1h1.0v1.0h-1.0zM37.0 14.2h1.0v1.0h-1.0zM51.2 47.9h1.0v1.0h-1.0zM45.3 36.1h1.0v1.0h-1.0zM38.8 51.7h1.0v1.0h-1.0zM38.5 43.9h1.0v1.0h-1.0zM42.9 37.6h1.0v1.0h-1.0zM37.1 52.1h1.0v1.0h-1.0zM10.3 19.7h1.0v1.0h-1.0zM25.6 15.9h1.0v1.0h-1.0zM40.6 19.8h1.0v1.0h-1.0zM45.5 17.3h1.0v1.0h-1.0zM37.3 47.9h1.0v1.0h-1.0zM40.1 46.3h1.0v1.0h-1.0zM47.3 30.2h1.0v1.0h-1.0zM30.5 56.7h1.0v1.0h-1.0zM50.4 41.5h1.0v1.0h-1.0zM37.6 50.9h1.0v1.0h-1.0zM36.3 52.4h1.0v1.0h-1.0zM38.0 17.8h1.0v1.0h-1.0zM1.4 22.8h1.0v1.0h-1.0zM24.2 60.4h1.0v1.0h-1.0zM18.8 58.8h1.0v1.0h-1.0zM24.2 59.7h1.0v1.0h-1.0zM7.2 59.3h1.0v1.0h-1.0zM39.3 24.1h1.0v1.0h-1.0zM21.6 58.9h1.0v1.0h-1.0zM40.0 37.8h1.0v1.0h-1.0zM28.8 58.6h1.0v1.0h-1.0zM34.7 52.0h1.0v1.0h-1.0zM13.0 60.0h1.0v1.0h-1.0zM38.8 31.1h1.0v1.0h-1.0zM40.4 33.0h1.0v1.0h-1.0zM18.6 18.5h1.0v1.0h-1.0zM41.8 20.5h1.0v1.0h-1.0zM27.0 15.3h1.0v1.0h-1.0zM42.2 37.5h1.0v1.0h-1.0zM12.8 59.0h1.0v1.0h-1.0zM39.0 27.2h1.0v1.0h-1.0zM35.5 54.7h1.0v1.0h-1.0zM39.6 41.6h1.0v1.0h-1.0zM39.2 43.4h1.0v1.0h-1.0zM34.7 54.3h1.0v1.0h-1.0zM34.2 60.2h1.0v1.0h-1.0zM38.5 21.7h1.0v1.0h-1.0zM35.5 14.0h1.0v1.0h-1.0zM42.5 33.0h1.0v1.0h-1.0zM13.5 19.4h1.0v1.0h-1.0zM7.0 18.5h1.0v1.0h-1.0zM38.7 44.4h1.0v1.0h-1.0zM34.5 58.3h1.0v1.0h-1.0zM30.7 56.8h1.0v1.0h-1.0zM40.4 46.7h1.0v1.0h-1.0zM2.6 59.5h1.0v1.0h-1.0zM38.6 55.9h1.0v1.0h-1.0zM34.1 15.1h1.0v1.0h-1.0zM3.2 20.4h1.0v1.0h-1.0zM18.3 59.5h1.0v1.0h-1.0zM38.2 49.2h1.0v1.0h-1.0zM39.9 33.1h1.0v1.0h-1.0zM38.3 43.3h1.0v1.0h-1.0zM24.4 15.5h1.0v1.0h-1.0zM42.3 24.4h1.0v1.0h-1.0zM20.4 59.0h1.0v1.0h-1.0zM40.0 20.3h1.0v1.0h-1.0zM30.3 58.0h1.0v1.0h-1.0zM38.5 24.9h1.0v1.0h-1.0zM45.9 37.6h1.0v1.0h-1.0zM41.3 20.8h1.0v1.0h-1.0zM50.2 18.6h1.0v1.0h-1.0zM38.1 19.4h1.0v1.0h-1.0zM43.0 58.1h1.0v1.0h-1.0zM13.6 19.5h1.0v1.0h-1.0zM40.3 48.1h1.0v1.0h-1.0zM43.4 39.3h1.0v1.0h-1.0zM37.4 47.9h1.0v1.0h-1.0zM38.5 18.5h1.0v1.0h-1.0zM4.0 24.1h1.0v1.0h-1.0zM44.4 35.5h1.0v1.0h-1.0zM41.1 36.2h1.0v1.0h-1.0zM41.2 31.8h1.0v1.0h-1.0zM27.5 16.4h1.0v1.0h-1.0zM38.5 16.4h1.0v1.0h-1.0zM42.2 24.8h1.0v1.0h-1.0zM35.2 52.1h1.0v1.0h-1.0zM13.9 59.7h1.0v1.0h-1.0zM40.1 45.9h1.0v1.0h-1.0zM40.4 39.1h1.0v1.0h-1.0zM14.3 20.3h1.0v1.0h-1.0zM8.8 59.2h1.0v1.0h-1.0zM39.0 32.5h1.0v1.0h-1.0zM14.1 17.6h1.0v1.0h-1.0zM42.7 27.3h1.0v1.0h-1.0zM38.0 47.7h1.0v1.0h-1.0zM39.0 38.9h1.0v1.0h-1.0zM36.2 52.0h1.0v1.0h-1.0zM43.6 41.8h1.0v1.0h-1.0zM11.7 17.9h1.0v1.0h-1.0zM12.5 59.5h1.0v1.0h-1.0zM10.4 21.8h1.0v1.0h-1.0zM38.7 25.4h1.0v1.0h-1.0zM41.5 35.0h1.0v1.0h-1.0zM2.6 59.9h1.0v1.0h-1.0zM40.8 25.1h1.0v1.0h-1.0zM39.1 46.8h1.0v1.0h-1.0zM39.5 33.4h1.0v1.0h-1.0zM31.8 14.2h1.0v1.0h-1.0zM38.1 51.6h1.0v1.0h-1.0zM31.9 56.9h1.0v1.0h-1.0zM39.8 16.9h1.0v1.0h-1.0zM35.8 49.4h1.0v1.0h-1.0zM36.1 49.7h1.0v1.0h-1.0zM13.4 59.9h1.0v1.0h-1.0zM39.6 40.0h1.0v1.0h-1.0zM40.0 26.8h1.0v1.0h-1.0zM40.0 19.2h1.0v1.0h-1.0zM39.7 31.8h1.0v1.0h-1.0zM41.1 42.9h1.0v1.0h-1.0zM7.0 19.1h1.0v1.0h-1.0zM38.8 29.3h1.0v1.0h-1.0zM39.1 49.2h1.0v1.0h-1.0zM40.3 36.2h1.0v1.0h-1.0zM36.3 51.4h1.0v1.0h-1.0zM41.3 20.8h1.0v1.0h-1.0zM34.6 15.7h1.0v1.0h-1.0zM46.9 22.3h1.0v1.0h-1.0zM42.5 43.1h1.0v1.0h-1.0zM8.0 21.2h1.0v1.0h-1.0zM27.3 58.6h1.0v1.0h-1.0zM41.9 25.5h1.0v1.0h-1.0zM4.6 21.2h1.0v1.0h-1.0zM38.8 40.3h1.0v1.0h-1.0zM39.1 34.7h1.0v1.0h-1.0zM38.1 17.3h1.0v1.0h-1.0zM12.8 60.2h1.0v1.0h-1.0zM39.1 28.0h1.0v1.0h-1.0zM41.7 25.2h1.0v1.0h-1.0zM40.8 52.5h1.0v1.0h-1.0zM17.4 58.9h1.0v1.0h-1.0zM8.5 59.6h1.0v1.0h-1.0zM7.0 60.2h1.0v1.0h-1.0zM18.2 16.1h1.0v1.0h-1.0zM38.8 34.7h1.0v1.0h-1.0zM48.1 31.9h1.0v1.0h-1.0zM6.3 20.9h1.0v1.0h-1.0zM41.6 29.3h1.0v1.0h-1.0zM5.4 59.4h1.0v1.0h-1.0zM41.8 21.4h1.0v1.0h-1.0zM40.3 42.8h1.0v1.0h-1.0zM41.3 37.4h1.0v1.0h-1.0zM12.8 59.4h1.0v1.0h-1.0zM25.1 58.4h1.0v1.0h-1.0zM41.4 37.0h1.0v1.0h-1.0zM38.9 38.0h1.0v1.0h-1.0zM3.1 24.2h1.0v1.0h-1.0zM11.5 21.4h1.0v1.0h-1.0zM39.2 28.7h1.0v1.0h-1.0zM6.6 21.1h1.0v1.0h-1.0zM42.4 39.8h1.0v1.0h-1.0zM39.0 20.1h1.0v1.0h-1.0zM17.5 18.1h1.0v1.0h-1.0zM36.7 47.3h1.0v1.0h-1.0zM39.5 35.1h1.0v1.0h-1.0zM39.2 18.0h1.0v1.0h-1.0zM30.8 56.4h1.0v1.0h-1.0zM42.0 21.8h1.0v1.0h-1.0zM28.0 58.3h1.0v1.0h-1.0zM21.0 59.2h1.0v1.0h-1.0zM18.7 16.3h1.0v1.0h-1.0zM46.8 42.7h1.0v1.0h-1.0zM41.0 41.3h1.0v1.0h-1.0zM44.0 35.5h1.0v1.0h-1.0zM9.1 59.4h1.0v1.0h-1.0zM43.3 17.4h1.0v1.0h-1.0zM3.3 21.2h1.0v1.0h-1.0zM47.4 24.6h1.0v1.0h-1.0zM3.5 26.1h1.0v1.0h-1.0zM7.1 59.3h1.0v1.0h-1.0zM49.4 25.1h1.0v1.0h-1.0zM41.4 19.6h1.0v1.0h-1.0zM37.3 50.7h1.0v1.0h-1.0zM34.5 54.0h1.0v1.0h-1.0zM1.8 26.9h1.0v1.0h-1.0zM38.9 19.9h1.0v1.0h-1.0zM7.5 21.2h1.0v1.0h-1.0zM19.1 59.4h1.0v1.0h-1.0zM7.2 23.8h1.0v1.0h-1.0zM7.6 22.3h1.0v1.0h-1.0zM12.4 21.0h1.0v1.0h-1.0zM39.4 20.9h1.0v1.0h-1.0zM23.8 58.7h1.0v1.0h-1.0zM15.3 18.4h1.0v1.0h-1.0zM44.2 26.6h1.0v1.0h-1.0zM40.8 46.6h1.0v1.0h-1.0zM34.1 54.5h1.0v1.0h-1.0zM38.8 24.7h1.0v1.0h-1.0zM39.5 28.7h1.0v1.0h-1.0zM28.4 15.9h1.0v1.0h-1.0zM38.9 28.7h1.0v1.0h-1.0zM39.5 26.5h1.0v1.0h-1.0zM35.5 52.6h1.0v1.0h-1.0zM38.7 34.4h1.0v1.0h-1.0zM38.6 41.4h1.0v1.0h-1.0zM34.0 56.5h1.0v1.0h-1.0zM41.5 33.3h1.0v1.0h-1.0zM7.1 19.7h1.0v1.0h-1.0zM3.5 12.0h1.0v1.0h-1.0zM5.5 18.5h1.0v1.0h-1.0zM39.4 43.7h1.0v1.0h-1.0zM13.9 19.3h1.0v1.0h-1.0zM39.9 35.8h1.0v1.0h-1.0zM36.0 51.2h1.0v1.0h-1.0zM39.7 38.9h1.0v1.0h-1.0zM35.7 15.7h1.0v1.0h-1.0zM15.9 18.0h1.0v1.0h-1.0zM38.2 19.9h1.0v1.0h-1.0zM11.3 59.1h1.0v1.0h-1.0zM37.4 48.0h1.0v1.0h-1.0zM19.7 59.2h1.0v1.0h-1.0zM39.6 29.8h1.0v1.0h-1.0zM19.4 58.9h1.0v1.0h-1.0zM39.3 24.3h1.0v1.0h-1.0zM44.0 33.8h1.0v1.0h-1.0zM24.4 58.5h1.0v1.0h-1.0zM44.3 46.0h1.0v1.0h-1.0zM39.3 24.5h1.0v1.0h-1.0zM31.8 55.2h1.0v1.0h-1.0zM20.1 15.3h1.0v1.0h-1.0zM4.5 21.4h1.0v1.0h-1.0zM20.5 59.9h1.0v1.0h-1.0zM3.8 14.8h1.0v1.0h-1.0zM37.2 15.9h1.0v1.0h-1.0zM38.2 18.7h1.0v1.0h-1.0zM45.2 33.4h1.0v1.0h-1.0zM38.5 21.3h1.0v1.0h-1.0zM6.0 59.5h1.0v1.0h-1.0zM38.4 42.5h1.0v1.0h-1.0zM18.7 16.9h1.0v1.0h-1.0zM33.4 15.0h1.0v1.0h-1.0zM4.4 24.5h1.0v1.0h-1.0zM38.7 34.4h1.0v1.0h-1.0zM41.7 57.1h1.0v1.0h-1.0zM40.0 28.8h1.0v1.0h-1.0zM34.8 56.7h1.0v1.0h-1.0zM39.3 47.2h1.0v1.0h-1.0zM24.5 60.1h1.0v1.0h-1.0zM38.2 45.1h1.0v1.0h-1.0zM40.9 39.2h1.0v1.0h-1.0zM40.7 24.6h1.0v1.0h-1.0zM1.6 24.1h1.0v1.0h-1.0zM35.8 51.6h1.0v1.0h-1.0zM3.9 24.0h1.0v1.0h-1.0zM43.6 30.2h1.0v1.0h-1.0zM3.6 25.1h1.0v1.0h-1.0zM2.1 22.8h1.0v1.0h-1.0zM40.3 17.6h1.0v1.0h-1.0zM38.7 38.1h1.0v1.0h-1.0zM40.2 32.7h1.0v1.0h-1.0zM39.4 25.9h1.0v1.0h-1.0zM3.7 23.2h1.0v1.0h-1.0zM12.5 20.7h1.0v1.0h-1.0zM36.0 56.7h1.0v1.0h-1.0zM9.1 20.9h1.0v1.0h-1.0zM33.5 57.2h1.0v1.0h-1.0zM3.1 23.9h1.0v1.0h-1.0zM24.6 58.6h1.0v1.0h-1.0zM38.0 44.3h1.0v1.0h-1.0zM47.4 35.7h1.0v1.0h-1.0zM39.8 26.4h1.0v1.0h-1.0zM38.3 46.6h1.0v1.0h-1.0zM43.8 24.9h1.0v1.0h-1.0zM35.2 52.5h1.0v1.0h-1.0zM7.0 23.5h1.0v1.0h-1.0zM41.9 38.5h1.0v1.0h-1.0zM10.0 59.1h1.0v1.0h-1.0zM41.0 24.6h1.0v1.0h-1.0zM42.0 28.9h1.0v1.0h-1.0zM9.3 59.9h1.0v1.0h-1.0zM39.3 43.9h1.0v1.0h-1.0zM38.3 42.9h1.0v1.0h-1.0zM39.6 41.8h1.0v1.0h-1.0zM39.1 39.0h1.0v1.0h-1.0zM2.6 26.3h1.0v1.0h-1.0zM7.0 23.9h1.0v1.0h-1.0zM47.3 27.4h1.0v1.0h-1.0zM45.5 28.5h1.0v1.0h-1.0zM36.0 49.1h1.0v1.0h-1.0zM46.8 37.1h1.0v1.0h-1.0zM34.5 53.5h1.0v1.0h-1.0zM42.1 26.0h1.0v1.0h-1.0zM6.4 22.1h1.0v1.0h-1.0zM34.1 53.0h1.0v1.0h-1.0zM30.1 60.0h1.0v1.0h-1.0zM36.1 49.3h1.0v1.0h-1.0zM39.9 40.2h1.0v1.0h-1.0zM11.8 18.9h1.0v1.0h-1.0zM2.0 25.3h1.0v1.0h-1.0zM39.1 28.6h1.0v1.0h-1.0zM38.1 18.9h1.0v1.0h-1.0zM8.4 59.8h1.0v1.0h-1.0zM28.8 58.8h1.0v1.0h-1.0zM39.1 25.1h1.0v1.0h-1.0zM9.0 21.0h1.0v1.0h-1.0zM26.9 16.5h1.0v1.0h-1.0zM34.6 59.8h1.0v1.0h-1.0zM35.9 49.2h1.0v1.0h-1.0zM38.5 36.8h1.0v1.0h-1.0zM39.3 40.0h1.0v1.0h-1.0zM25.6 58.7h1.0v1.0h-1.0z" fill="#2450a4"/><path d="M39.4 35.5h0.9v0.9h-0.9zM30.6 56.3h0.9v0.9h-0.9zM12.8 17.6h0.9v0.9h-0.9zM40.5 31.4h0.9v0.9h-0.9zM39.1 40.6h0.9v0.9h-0.9zM41.4 18.9h0.9v0.9h-0.9zM31.9 55.3h0.9v0.9h-0.9zM41.5 44.1h0.9v0.9h-0.9zM39.3 44.0h0.9v0.9h-0.9zM38.8 20.5h0.9v0.9h-0.9zM8.4 21.0h0.9v0.9h-0.9zM20.8 17.0h0.9v0.9h-0.9zM9.5 59.8h0.9v0.9h-0.9zM38.8 34.0h0.9v0.9h-0.9zM34.4 55.4h0.9v0.9h-0.9zM19.1 18.2h0.9v0.9h-0.9zM37.1 46.4h0.9v0.9h-0.9zM38.5 25.0h0.9v0.9h-0.9zM48.2 37.5h0.9v0.9h-0.9zM7.4 23.1h0.9v0.9h-0.9zM30.9 56.1h0.9v0.9h-0.9zM39.2 58.3h0.9v0.9h-0.9zM41.5 41.7h0.9v0.9h-0.9zM41.4 25.0h0.9v0.9h-0.9zM40.6 19.5h0.9v0.9h-0.9zM45.7 32.4h0.9v0.9h-0.9zM39.4 28.2h0.9v0.9h-0.9zM11.0 59.2h0.9v0.9h-0.9zM23.9 59.5h0.9v0.9h-0.9zM39.0 46.1h0.9v0.9h-0.9zM41.7 35.6h0.9v0.9h-0.9zM36.7 49.1h0.9v0.9h-0.9zM40.0 49.7h0.9v0.9h-0.9zM12.5 16.9h0.9v0.9h-0.9zM38.1 44.9h0.9v0.9h-0.9zM34.6 54.8h0.9v0.9h-0.9zM40.4 23.1h0.9v0.9h-0.9zM0.9 60.1h0.9v0.9h-0.9zM39.4 34.9h0.9v0.9h-0.9zM22.6 16.6h0.9v0.9h-0.9zM4.6 22.9h0.9v0.9h-0.9zM2.9 24.9h0.9v0.9h-0.9zM42.3 27.9h0.9v0.9h-0.9zM43.3 32.9h0.9v0.9h-0.9zM38.7 49.6h0.9v0.9h-0.9zM23.3 58.6h0.9v0.9h-0.9zM35.1 52.9h0.9v0.9h-0.9zM45.1 27.9h0.9v0.9h-0.9zM41.8 37.1h0.9v0.9h-0.9zM48.2 23.8h0.9v0.9h-0.9zM42.6 43.9h0.9v0.9h-0.9zM39.2 35.3h0.9v0.9h-0.9zM22.4 15.9h0.9v0.9h-0.9zM38.8 35.6h0.9v0.9h-0.9zM40.2 49.8h0.9v0.9h-0.9zM36.1 49.1h0.9v0.9h-0.9zM4.1 23.5h0.9v0.9h-0.9zM38.8 23.3h0.9v0.9h-0.9zM31.0 58.2h0.9v0.9h-0.9zM43.5 32.0h0.9v0.9h-0.9zM36.7 50.3h0.9v0.9h-0.9zM13.8 19.5h0.9v0.9h-0.9zM31.6 16.0h0.9v0.9h-0.9zM8.9 59.2h0.9v0.9h-0.9zM41.6 44.8h0.9v0.9h-0.9zM41.5 19.9h0.9v0.9h-0.9zM3.5 23.3h0.9v0.9h-0.9zM38.0 17.6h0.9v0.9h-0.9zM38.4 56.3h0.9v0.9h-0.9zM40.1 19.0h0.9v0.9h-0.9zM35.1 15.1h0.9v0.9h-0.9zM39.1 35.9h0.9v0.9h-0.9zM40.9 30.3h0.9v0.9h-0.9zM20.6 17.3h0.9v0.9h-0.9zM41.7 29.6h0.9v0.9h-0.9zM40.4 26.5h0.9v0.9h-0.9zM37.1 48.7h0.9v0.9h-0.9zM34.0 58.1h0.9v0.9h-0.9zM15.6 17.3h0.9v0.9h-0.9zM41.1 38.7h0.9v0.9h-0.9zM5.2 23.5h0.9v0.9h-0.9zM39.8 29.3h0.9v0.9h-0.9zM38.4 38.7h0.9v0.9h-0.9zM34.9 57.8h0.9v0.9h-0.9zM10.8 19.7h0.9v0.9h-0.9zM44.1 15.9h0.9v0.9h-0.9zM41.8 46.3h0.9v0.9h-0.9zM42.2 27.3h0.9v0.9h-0.9zM23.4 59.8h0.9v0.9h-0.9zM40.5 21.5h0.9v0.9h-0.9zM38.5 24.0h0.9v0.9h-0.9zM33.0 56.1h0.9v0.9h-0.9zM10.2 19.2h0.9v0.9h-0.9zM41.6 36.4h0.9v0.9h-0.9zM1.7 23.6h0.9v0.9h-0.9zM35.5 51.1h0.9v0.9h-0.9zM22.9 16.8h0.9v0.9h-0.9zM36.4 52.8h0.9v0.9h-0.9zM41.0 43.7h0.9v0.9h-0.9zM42.1 53.1h0.9v0.9h-0.9zM39.6 31.3h0.9v0.9h-0.9zM42.6 26.4h0.9v0.9h-0.9zM43.6 21.7h0.9v0.9h-0.9zM40.0 44.7h0.9v0.9h-0.9zM33.1 58.6h0.9v0.9h-0.9zM39.4 37.2h0.9v0.9h-0.9zM7.7 18.1h0.9v0.9h-0.9zM38.5 20.2h0.9v0.9h-0.9zM1.3 26.0h0.9v0.9h-0.9zM3.6 59.6h0.9v0.9h-0.9zM4.8 60.3h0.9v0.9h-0.9zM4.7 20.2h0.9v0.9h-0.9zM41.7 23.0h0.9v0.9h-0.9zM38.9 22.7h0.9v0.9h-0.9zM38.8 21.9h0.9v0.9h-0.9zM14.6 59.2h0.9v0.9h-0.9zM19.8 17.5h0.9v0.9h-0.9zM39.3 53.0h0.9v0.9h-0.9zM39.1 25.1h0.9v0.9h-0.9zM46.2 59.8h0.9v0.9h-0.9zM38.6 41.9h0.9v0.9h-0.9zM36.1 57.8h0.9v0.9h-0.9zM15.1 18.4h0.9v0.9h-0.9zM39.9 37.8h0.9v0.9h-0.9zM38.0 47.8h0.9v0.9h-0.9zM44.5 17.6h0.9v0.9h-0.9zM6.1 59.4h0.9v0.9h-0.9zM40.6 31.3h0.9v0.9h-0.9zM40.8 19.5h0.9v0.9h-0.9zM38.5 47.0h0.9v0.9h-0.9zM38.8 40.3h0.9v0.9h-0.9zM35.1 52.8h0.9v0.9h-0.9zM39.2 29.5h0.9v0.9h-0.9zM26.0 15.7h0.9v0.9h-0.9zM29.4 59.8h0.9v0.9h-0.9zM44.8 32.2h0.9v0.9h-0.9zM38.9 34.1h0.9v0.9h-0.9zM3.1 21.9h0.9v0.9h-0.9zM42.8 31.0h0.9v0.9h-0.9zM41.7 53.5h0.9v0.9h-0.9zM36.6 57.2h0.9v0.9h-0.9zM1.3 60.0h0.9v0.9h-0.9zM27.5 15.4h0.9v0.9h-0.9zM41.1 40.1h0.9v0.9h-0.9zM40.2 23.5h0.9v0.9h-0.9zM39.3 34.8h0.9v0.9h-0.9zM44.5 28.3h0.9v0.9h-0.9zM44.5 24.4h0.9v0.9h-0.9zM39.8 28.3h0.9v0.9h-0.9zM1.7 25.7h0.9v0.9h-0.9zM42.1 39.6h0.9v0.9h-0.9zM24.6 59.1h0.9v0.9h-0.9zM35.7 49.9h0.9v0.9h-0.9zM43.6 25.3h0.9v0.9h-0.9zM4.4 23.7h0.9v0.9h-0.9zM20.6 15.9h0.9v0.9h-0.9zM41.4 23.7h0.9v0.9h-0.9zM9.6 21.9h0.9v0.9h-0.9zM12.3 59.5h0.9v0.9h-0.9zM45.3 21.6h0.9v0.9h-0.9zM11.2 60.1h0.9v0.9h-0.9zM38.1 53.3h0.9v0.9h-0.9zM50.7 29.6h0.9v0.9h-0.9zM38.8 27.5h0.9v0.9h-0.9zM38.8 21.5h0.9v0.9h-0.9zM40.6 36.4h0.9v0.9h-0.9zM42.3 42.3h0.9v0.9h-0.9zM39.3 45.0h0.9v0.9h-0.9zM39.8 23.9h0.9v0.9h-0.9zM26.0 16.5h0.9v0.9h-0.9zM48.5 16.8h0.9v0.9h-0.9zM36.2 49.3h0.9v0.9h-0.9zM37.1 53.2h0.9v0.9h-0.9zM41.4 41.2h0.9v0.9h-0.9zM37.2 49.1h0.9v0.9h-0.9zM44.4 33.3h0.9v0.9h-0.9zM44.7 27.5h0.9v0.9h-0.9zM19.8 17.8h0.9v0.9h-0.9zM38.3 19.8h0.9v0.9h-0.9zM14.4 17.7h0.9v0.9h-0.9zM35.2 55.2h0.9v0.9h-0.9zM40.0 20.4h0.9v0.9h-0.9zM12.2 20.8h0.9v0.9h-0.9zM41.0 20.0h0.9v0.9h-0.9zM41.0 29.4h0.9v0.9h-0.9zM50.5 48.1h0.9v0.9h-0.9zM23.4 16.4h0.9v0.9h-0.9zM21.3 59.2h0.9v0.9h-0.9zM36.2 52.6h0.9v0.9h-0.9zM42.6 30.1h0.9v0.9h-0.9zM11.7 60.2h0.9v0.9h-0.9zM10.7 59.6h0.9v0.9h-0.9zM14.3 59.6h0.9v0.9h-0.9zM35.3 54.7h0.9v0.9h-0.9zM43.0 22.6h0.9v0.9h-0.9zM34.0 53.6h0.9v0.9h-0.9zM42.3 21.6h0.9v0.9h-0.9zM46.8 32.8h0.9v0.9h-0.9zM5.5 24.1h0.9v0.9h-0.9zM51.5 32.7h0.9v0.9h-0.9zM44.5 30.0h0.9v0.9h-0.9zM45.0 26.7h0.9v0.9h-0.9zM17.8 18.2h0.9v0.9h-0.9zM38.2 51.9h0.9v0.9h-0.9zM40.0 42.2h0.9v0.9h-0.9zM42.8 36.5h0.9v0.9h-0.9zM39.6 33.6h0.9v0.9h-0.9zM44.2 24.4h0.9v0.9h-0.9zM40.5 48.2h0.9v0.9h-0.9zM36.1 15.7h0.9v0.9h-0.9zM44.4 31.2h0.9v0.9h-0.9zM19.6 59.9h0.9v0.9h-0.9zM40.1 38.4h0.9v0.9h-0.9zM1.8 59.5h0.9v0.9h-0.9zM0.8 21.8h0.9v0.9h-0.9z" fill="#3b6cc0"/></g><path d="M0.4 28 7 24.04 14 20.52 22 17.2 30 16.2 35.3 15.6 38.0 18.1 38.8 30 38.099999999999994 43 35.0 51.5 28.799999999999997 58.3 0.4 59.4Z" fill="#1d4ba2" stroke="#1d4ba2" stroke-width="0.8" stroke-linejoin="round" filter="url(#b0)"/><g filter="url(#b0)"><path d="M2.9 27.4h0.9v0.9h-0.9zM6.6 38.5h0.9v0.9h-0.9zM19.1 41.8h0.9v0.9h-0.9zM9.1 32.9h0.9v0.9h-0.9zM11.3 24.6h0.9v0.9h-0.9zM1.2 35.8h0.9v0.9h-0.9zM10.3 29.3h0.9v0.9h-0.9zM25.5 18.1h0.9v0.9h-0.9zM24.5 18.6h0.9v0.9h-0.9zM7.2 31.2h0.9v0.9h-0.9zM1.7 39.3h0.9v0.9h-0.9zM1.6 31.4h0.9v0.9h-0.9zM3.2 27.4h0.9v0.9h-0.9zM25.4 25.2h0.9v0.9h-0.9zM7.9 24.2h0.9v0.9h-0.9zM12.9 35.5h0.9v0.9h-0.9zM18.4 19.8h0.9v0.9h-0.9zM29.5 18.4h0.9v0.9h-0.9zM14.3 30.7h0.9v0.9h-0.9zM24.7 19.7h0.9v0.9h-0.9zM1.4 41.6h0.9v0.9h-0.9zM3.0 29.0h0.9v0.9h-0.9zM14.1 36.3h0.9v0.9h-0.9zM23.9 26.6h0.9v0.9h-0.9zM30.5 20.0h0.9v0.9h-0.9zM25.8 20.0h0.9v0.9h-0.9zM6.4 24.9h0.9v0.9h-0.9zM25.9 24.0h0.9v0.9h-0.9zM28.4 18.1h0.9v0.9h-0.9zM11.3 25.9h0.9v0.9h-0.9zM13.1 25.4h0.9v0.9h-0.9zM24.5 22.4h0.9v0.9h-0.9zM3.1 41.4h0.9v0.9h-0.9zM14.3 24.9h0.9v0.9h-0.9zM12.6 23.1h0.9v0.9h-0.9zM1.6 33.2h0.9v0.9h-0.9zM11.0 29.7h0.9v0.9h-0.9zM11.9 30.7h0.9v0.9h-0.9zM20.6 20.7h0.9v0.9h-0.9zM31.4 20.5h0.9v0.9h-0.9zM29.3 24.2h0.9v0.9h-0.9zM29.0 18.8h0.9v0.9h-0.9zM1.1 32.5h0.9v0.9h-0.9zM16.3 22.2h0.9v0.9h-0.9zM27.0 19.1h0.9v0.9h-0.9zM14.5 21.8h0.9v0.9h-0.9zM3.6 40.0h0.9v0.9h-0.9zM5.5 25.6h0.9v0.9h-0.9zM20.6 20.3h0.9v0.9h-0.9zM1.1 31.5h0.9v0.9h-0.9zM30.6 16.7h0.9v0.9h-0.9zM1.9 28.7h0.9v0.9h-0.9zM0.9 35.9h0.9v0.9h-0.9zM19.4 20.0h0.9v0.9h-0.9zM4.5 37.2h0.9v0.9h-0.9zM7.2 26.1h0.9v0.9h-0.9zM22.6 19.0h0.9v0.9h-0.9zM1.3 40.5h0.9v0.9h-0.9zM7.1 24.5h0.9v0.9h-0.9zM20.3 23.2h0.9v0.9h-0.9zM27.8 37.0h0.9v0.9h-0.9zM2.4 30.8h0.9v0.9h-0.9zM4.0 31.2h0.9v0.9h-0.9zM28.4 21.1h0.9v0.9h-0.9zM24.9 16.9h0.9v0.9h-0.9zM30.9 33.3h0.9v0.9h-0.9zM16.5 23.5h0.9v0.9h-0.9zM4.2 41.5h0.9v0.9h-0.9zM31.2 24.3h0.9v0.9h-0.9zM7.9 25.6h0.9v0.9h-0.9zM12.6 22.3h0.9v0.9h-0.9zM4.8 35.7h0.9v0.9h-0.9zM15.9 26.0h0.9v0.9h-0.9zM3.6 30.5h0.9v0.9h-0.9zM0.9 33.4h0.9v0.9h-0.9zM30.9 22.1h0.9v0.9h-0.9zM8.7 25.4h0.9v0.9h-0.9zM5.7 30.0h0.9v0.9h-0.9zM22.2 35.8h0.9v0.9h-0.9zM4.0 27.8h0.9v0.9h-0.9zM1.5 28.1h0.9v0.9h-0.9zM2.4 39.2h0.9v0.9h-0.9zM11.0 25.4h0.9v0.9h-0.9zM10.5 31.4h0.9v0.9h-0.9zM11.4 35.7h0.9v0.9h-0.9zM1.5 41.2h0.9v0.9h-0.9zM25.0 18.8h0.9v0.9h-0.9zM10.9 33.9h0.9v0.9h-0.9zM10.5 24.3h0.9v0.9h-0.9zM19.1 20.3h0.9v0.9h-0.9zM6.1 38.4h0.9v0.9h-0.9zM21.4 21.2h0.9v0.9h-0.9zM1.1 37.2h0.9v0.9h-0.9zM30.4 18.6h0.9v0.9h-0.9zM2.0 35.8h0.9v0.9h-0.9zM2.7 37.8h0.9v0.9h-0.9zM7.6 35.9h0.9v0.9h-0.9z" fill="#7fa6e0" opacity="0.75"/></g><g transform="translate(0.2,0)"><path d="M1.5 40 Q10 30 22 24 Q31 21 36 26 Q39 34 36.5 45 Q33 54 25 56.5 Q12 57.5 1.5 54 Z" fill="#1f62ba" filter="url(#b2)"/></g><g transform="translate(0.3,0)"><path d="M6 47.5 Q12 40 20 32.5 Q27 27.5 32 31 Q35.5 36 34.3 44 Q32 52.5 26 55.6 Q18 57 11 54 Q5 51 6 47.5Z" fill="#34aee6" filter="url(#b2)"/></g><path transform="translate(24.1,42.7) scale(1.2,1.17)" d="M3.6 -10.6C6.6 -9.8 9.1 -5.3 8.8 -0.8C8.6 4.2 5.6 9.7 0.1 10.6C-4.9 11.2 -9.4 8.2 -8.8 3.7C-8.1 -0.8 -2.9 -9.3 3.6 -10.6Z" fill="#35c4c0" filter="url(#b1)"/><path transform="translate(25.2,43.0) scale(1.0,1.0)" d="M3.6 -10.6C6.6 -9.8 9.1 -5.3 8.8 -0.8C8.6 4.2 5.6 9.7 0.1 10.6C-4.9 11.2 -9.4 8.2 -8.8 3.7C-8.1 -0.8 -2.9 -9.3 3.6 -10.6Z" fill="#52cf48" filter="url(#b1)"/><path transform="translate(26.1,43.7) scale(0.77,0.77)" d="M3.6 -10.6C6.6 -9.8 9.1 -5.3 8.8 -0.8C8.6 4.2 5.6 9.7 0.1 10.6C-4.9 11.2 -9.4 8.2 -8.8 3.7C-8.1 -0.8 -2.9 -9.3 3.6 -10.6Z" fill="#a6dc2c" filter="url(#b1)"/><path transform="translate(26.9,44.4) scale(0.58,0.58)" d="M3.6 -10.6C6.6 -9.8 9.1 -5.3 8.8 -0.8C8.6 4.2 5.6 9.7 0.1 10.6C-4.9 11.2 -9.4 8.2 -8.8 3.7C-8.1 -0.8 -2.9 -9.3 3.6 -10.6Z" fill="#f0e21e" filter="url(#b1)"/><path transform="translate(27.3,44.8) scale(0.4,0.4)" d="M3.6 -10.6C6.6 -9.8 9.1 -5.3 8.8 -0.8C8.6 4.2 5.6 9.7 0.1 10.6C-4.9 11.2 -9.4 8.2 -8.8 3.7C-8.1 -0.8 -2.9 -9.3 3.6 -10.6Z" fill="#f79a1a" filter="url(#b1)"/><path transform="translate(27.4,45) scale(0.22,0.22)" d="M3.6 -10.6C6.6 -9.8 9.1 -5.3 8.8 -0.8C8.6 4.2 5.6 9.7 0.1 10.6C-4.9 11.2 -9.4 8.2 -8.8 3.7C-8.1 -0.8 -2.9 -9.3 3.6 -10.6Z" fill="#f02a1c" filter="url(#b0)"/><g filter="url(#b0)"><path d="M55.4 25.4h1.0v1.0h-1.0zM49.4 27.7h1.0v1.0h-1.0zM58.9 21.5h1.0v1.0h-1.0zM54.4 24.9h1.0v1.0h-1.0zM77.0 23.1h1.0v1.0h-1.0zM46.5 30.3h1.0v1.0h-1.0zM78.6 21.6h1.0v1.0h-1.0zM58.5 18.0h1.0v1.0h-1.0zM58.9 40.8h1.0v1.0h-1.0zM70.6 29.3h1.0v1.0h-1.0zM57.6 22.9h1.0v1.0h-1.0zM48.9 20.2h1.0v1.0h-1.0zM58.9 34.3h1.0v1.0h-1.0zM61.2 41.5h1.0v1.0h-1.0zM46.1 44.7h1.0v1.0h-1.0zM50.0 37.4h1.0v1.0h-1.0zM78.0 30.8h1.0v1.0h-1.0zM73.1 16.8h1.0v1.0h-1.0zM48.2 26.9h1.0v1.0h-1.0zM74.0 36.6h1.0v1.0h-1.0zM55.9 45.8h1.0v1.0h-1.0z" fill="#b4bcd6"/><path d="M49.0 24.4h1.0v1.0h-1.0zM44.4 46.1h1.0v1.0h-1.0zM44.5 40.2h1.0v1.0h-1.0z" fill="#5f7fc0"/></g><path d="M50.5 9.8 H84.7 V70.6 H38 Z" fill="none" stroke="#c6a3ca" stroke-width="0.65"/><text x="65.5" y="9.9" font-size="7.6" text-anchor="middle" fill="#ab6db0">0.0173</text><path d="M0 -0.5H86.6V74.2" fill="none" stroke="#7a7a7a" stroke-width="0.75"/><path d="M0 -0.5V74.2H86.6" fill="none" stroke="#222" stroke-width="0.9"/><line x1="-1.6" y1="74.10" x2="0" y2="74.10" stroke="#333" stroke-width="0.6"/><text x="-1.3" y="76.00" font-size="4.8" text-anchor="end" fill="#000" stroke="#000" stroke-width="0.15">0</text><line x1="-1.6" y1="60.53" x2="0" y2="60.53" stroke="#333" stroke-width="0.6"/><text x="-1.3" y="62.43" font-size="4.8" text-anchor="end" fill="#000" stroke="#000" stroke-width="0.15">50K</text><line x1="-1.6" y1="46.31" x2="0" y2="46.31" stroke="#333" stroke-width="0.6"/><text x="-1.3" y="48.21" font-size="4.8" text-anchor="end" fill="#000" stroke="#000" stroke-width="0.15">100K</text><line x1="-1.6" y1="32.09" x2="0" y2="32.09" stroke="#333" stroke-width="0.6"/><text x="-1.3" y="33.99" font-size="4.8" text-anchor="end" fill="#000" stroke="#000" stroke-width="0.15">150K</text><line x1="-1.6" y1="17.87" x2="0" y2="17.87" stroke="#333" stroke-width="0.6"/><text x="-1.3" y="19.77" font-size="4.8" text-anchor="end" fill="#000" stroke="#000" stroke-width="0.15">200K</text><line x1="-1.6" y1="3.65" x2="0" y2="3.65" stroke="#333" stroke-width="0.6"/><text x="-1.3" y="5.55" font-size="4.8" text-anchor="end" fill="#000" stroke="#000" stroke-width="0.15">250K</text><line x1="9" y1="74.2" x2="9" y2="76.0" stroke="#333" stroke-width="0.6"/><line x1="28" y1="74.2" x2="28" y2="76.0" stroke="#333" stroke-width="0.6"/><line x1="47" y1="74.2" x2="47" y2="76.0" stroke="#333" stroke-width="0.6"/><line x1="66" y1="74.2" x2="66" y2="76.0" stroke="#333" stroke-width="0.6"/><line x1="84" y1="74.2" x2="84" y2="76.0" stroke="#333" stroke-width="0.6"/><path d="M2 74.2v1M5 74.2v1M8 74.2v1M11 74.2v1M14 74.2v1M17 74.2v1M20 74.2v1M23 74.2v1M26 74.2v1M29 74.2v1M32 74.2v1M35 74.2v1M38 74.2v1M41 74.2v1M44 74.2v1M47 74.2v1M50 74.2v1M53 74.2v1M56 74.2v1M59 74.2v1M62 74.2v1M65 74.2v1M68 74.2v1M71 74.2v1M74 74.2v1M77 74.2v1M80 74.2v1M83 74.2v1" stroke="#666" stroke-width="0.35" fill="none"/><text x="10" y="82.4" font-size="5.2" text-anchor="middle" fill="#000" stroke="#000" stroke-width="0.2">0</text><text x="19.0" y="82.4" font-size="5.2" text-anchor="middle" fill="#000" stroke="#000" stroke-width="0.2" textLength="6.6" lengthAdjust="spacingAndGlyphs">10<tspan dy="-2.2" font-size="2.8">2</tspan></text><text x="39.6" y="82.4" font-size="5.2" text-anchor="middle" fill="#000" stroke="#000" stroke-width="0.2" textLength="6.6" lengthAdjust="spacingAndGlyphs">10<tspan dy="-2.2" font-size="2.8">3</tspan></text><text x="60.4" y="82.4" font-size="5.2" text-anchor="middle" fill="#000" stroke="#000" stroke-width="0.2" textLength="6.6" lengthAdjust="spacingAndGlyphs">10<tspan dy="-2.2" font-size="2.8">4</tspan></text><text x="78.7" y="82.4" font-size="5.2" text-anchor="middle" fill="#000" stroke="#000" stroke-width="0.2" textLength="6.6" lengthAdjust="spacingAndGlyphs">10<tspan dy="-2.2" font-size="2.8">5</tspan></text></g>
<g transform="translate(204.7,384.0)"><g filter="url(#b0)"><path d="M35.2 54.1h1.0v1.0h-1.0zM42.1 45.3h1.0v1.0h-1.0zM40.8 31.1h1.0v1.0h-1.0zM17.8 58.8h1.0v1.0h-1.0zM39.4 17.1h1.0v1.0h-1.0zM7.4 17.5h1.0v1.0h-1.0zM34.3 14.4h1.0v1.0h-1.0zM3.5 59.5h1.0v1.0h-1.0zM41.0 38.7h1.0v1.0h-1.0zM39.4 36.7h1.0v1.0h-1.0zM36.3 50.8h1.0v1.0h-1.0zM43.9 40.7h1.0v1.0h-1.0zM40.2 19.6h1.0v1.0h-1.0zM45.3 40.4h1.0v1.0h-1.0zM7.3 22.9h1.0v1.0h-1.0zM38.6 20.2h1.0v1.0h-1.0zM38.8 18.8h1.0v1.0h-1.0zM43.5 37.0h1.0v1.0h-1.0zM19.7 15.5h1.0v1.0h-1.0zM0.7 59.7h1.0v1.0h-1.0zM40.3 18.2h1.0v1.0h-1.0zM42.9 30.6h1.0v1.0h-1.0zM4.2 22.2h1.0v1.0h-1.0zM37.4 16.2h1.0v1.0h-1.0zM41.9 32.7h1.0v1.0h-1.0zM37.8 48.5h1.0v1.0h-1.0zM37.7 52.9h1.0v1.0h-1.0zM41.1 39.2h1.0v1.0h-1.0zM39.6 39.3h1.0v1.0h-1.0zM40.8 23.0h1.0v1.0h-1.0zM34.3 53.3h1.0v1.0h-1.0zM0.9 21.5h1.0v1.0h-1.0zM41.8 36.7h1.0v1.0h-1.0zM3.2 22.5h1.0v1.0h-1.0zM49.1 45.2h1.0v1.0h-1.0zM14.6 58.9h1.0v1.0h-1.0zM39.8 19.7h1.0v1.0h-1.0zM44.9 27.2h1.0v1.0h-1.0zM39.4 42.7h1.0v1.0h-1.0zM46.6 22.1h1.0v1.0h-1.0zM46.1 26.4h1.0v1.0h-1.0zM11.6 20.8h1.0v1.0h-1.0zM49.8 30.5h1.0v1.0h-1.0zM45.9 43.3h1.0v1.0h-1.0zM46.8 25.5h1.0v1.0h-1.0zM39.3 38.8h1.0v1.0h-1.0zM1.8 21.1h1.0v1.0h-1.0zM12.7 58.9h1.0v1.0h-1.0zM3.5 23.6h1.0v1.0h-1.0zM40.2 36.2h1.0v1.0h-1.0zM40.0 38.0h1.0v1.0h-1.0zM5.1 59.9h1.0v1.0h-1.0zM41.1 19.4h1.0v1.0h-1.0zM41.7 40.0h1.0v1.0h-1.0zM26.6 60.3h1.0v1.0h-1.0zM39.6 43.2h1.0v1.0h-1.0zM42.2 24.9h1.0v1.0h-1.0zM13.2 18.6h1.0v1.0h-1.0zM32.7 14.1h1.0v1.0h-1.0zM44.3 23.5h1.0v1.0h-1.0zM39.4 43.2h1.0v1.0h-1.0zM40.3 59.9h1.0v1.0h-1.0zM2.1 25.1h1.0v1.0h-1.0zM39.5 33.4h1.0v1.0h-1.0zM40.3 55.5h1.0v1.0h-1.0zM15.0 19.0h1.0v1.0h-1.0zM12.2 16.2h1.0v1.0h-1.0zM8.6 60.1h1.0v1.0h-1.0zM17.3 17.6h1.0v1.0h-1.0zM40.0 51.9h1.0v1.0h-1.0zM42.9 32.0h1.0v1.0h-1.0zM1.6 23.2h1.0v1.0h-1.0zM46.4 20.1h1.0v1.0h-1.0zM40.6 34.8h1.0v1.0h-1.0zM39.3 44.7h1.0v1.0h-1.0zM43.3 39.1h1.0v1.0h-1.0zM12.7 59.7h1.0v1.0h-1.0zM45.7 26.6h1.0v1.0h-1.0zM4.5 23.2h1.0v1.0h-1.0zM40.2 18.0h1.0v1.0h-1.0zM39.7 37.8h1.0v1.0h-1.0zM30.8 15.6h1.0v1.0h-1.0zM42.5 30.5h1.0v1.0h-1.0zM43.5 28.9h1.0v1.0h-1.0zM37.4 53.2h1.0v1.0h-1.0zM43.5 36.5h1.0v1.0h-1.0zM39.3 47.2h1.0v1.0h-1.0zM3.8 21.5h1.0v1.0h-1.0zM44.0 26.6h1.0v1.0h-1.0zM2.1 25.2h1.0v1.0h-1.0zM1.2 22.0h1.0v1.0h-1.0zM11.5 59.0h1.0v1.0h-1.0zM2.4 24.9h1.0v1.0h-1.0zM8.2 17.8h1.0v1.0h-1.0zM46.6 22.3h1.0v1.0h-1.0zM38.7 15.6h1.0v1.0h-1.0zM43.0 18.1h1.0v1.0h-1.0zM43.1 36.3h1.0v1.0h-1.0zM37.0 15.5h1.0v1.0h-1.0zM4.4 22.8h1.0v1.0h-1.0zM39.3 30.5h1.0v1.0h-1.0zM39.4 35.4h1.0v1.0h-1.0zM36.3 14.8h1.0v1.0h-1.0zM34.1 55.2h1.0v1.0h-1.0zM24.7 59.7h1.0v1.0h-1.0zM1.3 23.6h1.0v1.0h-1.0zM39.2 29.0h1.0v1.0h-1.0zM6.4 59.2h1.0v1.0h-1.0zM34.6 15.5h1.0v1.0h-1.0zM30.0 16.1h1.0v1.0h-1.0zM16.5 15.4h1.0v1.0h-1.0zM39.6 27.5h1.0v1.0h-1.0zM39.5 23.2h1.0v1.0h-1.0zM28.1 58.8h1.0v1.0h-1.0zM14.6 19.2h1.0v1.0h-1.0zM41.0 26.1h1.0v1.0h-1.0zM25.0 58.6h1.0v1.0h-1.0zM40.9 42.8h1.0v1.0h-1.0zM41.6 46.6h1.0v1.0h-1.0zM38.6 46.1h1.0v1.0h-1.0zM39.6 27.0h1.0v1.0h-1.0zM26.1 16.4h1.0v1.0h-1.0zM16.3 59.3h1.0v1.0h-1.0zM25.6 14.3h1.0v1.0h-1.0zM39.4 44.8h1.0v1.0h-1.0zM37.7 54.5h1.0v1.0h-1.0zM37.5 46.4h1.0v1.0h-1.0zM42.3 28.3h1.0v1.0h-1.0zM14.3 17.7h1.0v1.0h-1.0zM40.3 23.2h1.0v1.0h-1.0zM4.6 59.6h1.0v1.0h-1.0zM2.6 25.0h1.0v1.0h-1.0zM40.8 29.2h1.0v1.0h-1.0zM34.3 54.5h1.0v1.0h-1.0zM47.7 19.0h1.0v1.0h-1.0zM6.9 59.7h1.0v1.0h-1.0zM39.1 18.0h1.0v1.0h-1.0zM12.3 59.5h1.0v1.0h-1.0zM42.8 24.7h1.0v1.0h-1.0zM22.8 59.2h1.0v1.0h-1.0zM39.8 29.6h1.0v1.0h-1.0zM31.9 57.3h1.0v1.0h-1.0zM3.7 25.2h1.0v1.0h-1.0zM20.1 17.7h1.0v1.0h-1.0zM37.3 53.4h1.0v1.0h-1.0zM39.8 16.0h1.0v1.0h-1.0zM40.7 33.6h1.0v1.0h-1.0zM37.6 53.9h1.0v1.0h-1.0zM38.9 23.1h1.0v1.0h-1.0zM41.1 28.3h1.0v1.0h-1.0zM37.7 49.3h1.0v1.0h-1.0zM39.1 21.4h1.0v1.0h-1.0zM15.2 18.2h1.0v1.0h-1.0zM41.4 22.0h1.0v1.0h-1.0zM51.3 32.9h1.0v1.0h-1.0zM14.0 19.9h1.0v1.0h-1.0zM38.7 47.5h1.0v1.0h-1.0zM39.8 18.1h1.0v1.0h-1.0zM2.5 23.3h1.0v1.0h-1.0zM38.2 15.1h1.0v1.0h-1.0zM31.5 57.1h1.0v1.0h-1.0zM35.6 52.1h1.0v1.0h-1.0zM13.1 18.8h1.0v1.0h-1.0zM40.4 34.6h1.0v1.0h-1.0zM39.8 35.8h1.0v1.0h-1.0zM40.8 55.3h1.0v1.0h-1.0zM41.2 31.4h1.0v1.0h-1.0zM40.8 16.8h1.0v1.0h-1.0zM24.5 58.7h1.0v1.0h-1.0zM37.5 15.1h1.0v1.0h-1.0zM39.1 39.4h1.0v1.0h-1.0zM40.1 20.6h1.0v1.0h-1.0zM7.1 22.5h1.0v1.0h-1.0zM12.0 18.9h1.0v1.0h-1.0zM40.4 33.7h1.0v1.0h-1.0zM9.8 19.7h1.0v1.0h-1.0zM40.4 20.2h1.0v1.0h-1.0zM7.5 59.3h1.0v1.0h-1.0zM38.6 46.6h1.0v1.0h-1.0zM46.5 47.4h1.0v1.0h-1.0zM38.8 38.7h1.0v1.0h-1.0zM40.3 32.6h1.0v1.0h-1.0zM45.1 18.8h1.0v1.0h-1.0zM46.3 40.4h1.0v1.0h-1.0zM45.4 23.5h1.0v1.0h-1.0zM40.0 38.2h1.0v1.0h-1.0zM34.0 56.0h1.0v1.0h-1.0zM11.7 20.0h1.0v1.0h-1.0zM39.5 29.6h1.0v1.0h-1.0zM46.0 38.5h1.0v1.0h-1.0zM39.1 52.0h1.0v1.0h-1.0zM8.1 21.0h1.0v1.0h-1.0zM39.5 38.9h1.0v1.0h-1.0zM35.6 55.4h1.0v1.0h-1.0zM37.0 52.7h1.0v1.0h-1.0zM11.5 20.7h1.0v1.0h-1.0zM39.8 54.0h1.0v1.0h-1.0zM31.2 57.0h1.0v1.0h-1.0zM8.6 22.5h1.0v1.0h-1.0zM37.4 47.9h1.0v1.0h-1.0zM32.4 56.2h1.0v1.0h-1.0zM44.5 27.7h1.0v1.0h-1.0zM39.5 17.4h1.0v1.0h-1.0zM11.9 15.8h1.0v1.0h-1.0zM8.5 59.1h1.0v1.0h-1.0zM40.1 29.1h1.0v1.0h-1.0zM14.6 18.1h1.0v1.0h-1.0zM41.9 41.4h1.0v1.0h-1.0zM40.5 34.3h1.0v1.0h-1.0zM19.5 59.3h1.0v1.0h-1.0zM7.1 60.0h1.0v1.0h-1.0zM37.1 49.7h1.0v1.0h-1.0zM46.1 43.4h1.0v1.0h-1.0zM1.3 59.5h1.0v1.0h-1.0zM22.3 15.9h1.0v1.0h-1.0zM14.2 19.7h1.0v1.0h-1.0zM39.6 32.7h1.0v1.0h-1.0zM42.6 23.2h1.0v1.0h-1.0zM42.3 28.5h1.0v1.0h-1.0zM38.9 23.6h1.0v1.0h-1.0zM41.7 48.9h1.0v1.0h-1.0zM15.1 15.3h1.0v1.0h-1.0zM19.8 58.9h1.0v1.0h-1.0zM40.3 20.2h1.0v1.0h-1.0zM42.0 17.3h1.0v1.0h-1.0zM26.8 14.7h1.0v1.0h-1.0zM36.8 56.2h1.0v1.0h-1.0zM44.5 22.2h1.0v1.0h-1.0zM17.2 15.8h1.0v1.0h-1.0zM38.7 44.3h1.0v1.0h-1.0zM29.9 15.8h1.0v1.0h-1.0zM40.9 23.5h1.0v1.0h-1.0zM38.5 52.6h1.0v1.0h-1.0zM41.8 33.1h1.0v1.0h-1.0zM50.1 26.7h1.0v1.0h-1.0zM19.9 14.9h1.0v1.0h-1.0zM44.7 31.9h1.0v1.0h-1.0zM39.5 34.0h1.0v1.0h-1.0zM5.2 20.3h1.0v1.0h-1.0zM34.6 56.1h1.0v1.0h-1.0zM18.3 59.0h1.0v1.0h-1.0zM42.7 36.9h1.0v1.0h-1.0zM35.5 52.5h1.0v1.0h-1.0zM5.9 19.1h1.0v1.0h-1.0zM35.7 55.8h1.0v1.0h-1.0zM44.2 26.6h1.0v1.0h-1.0zM37.1 15.0h1.0v1.0h-1.0zM47.0 45.8h1.0v1.0h-1.0zM25.8 15.7h1.0v1.0h-1.0zM39.9 34.4h1.0v1.0h-1.0zM39.8 23.5h1.0v1.0h-1.0zM40.0 23.2h1.0v1.0h-1.0zM44.0 17.7h1.0v1.0h-1.0zM31.8 56.7h1.0v1.0h-1.0zM39.5 32.5h1.0v1.0h-1.0zM39.2 37.2h1.0v1.0h-1.0zM46.3 29.8h1.0v1.0h-1.0zM23.3 58.8h1.0v1.0h-1.0zM36.5 49.0h1.0v1.0h-1.0zM13.0 59.5h1.0v1.0h-1.0zM37.6 17.3h1.0v1.0h-1.0zM44.6 32.6h1.0v1.0h-1.0zM20.1 16.8h1.0v1.0h-1.0zM41.3 41.1h1.0v1.0h-1.0zM39.0 40.8h1.0v1.0h-1.0zM25.8 59.3h1.0v1.0h-1.0zM48.2 37.9h1.0v1.0h-1.0zM27.2 58.5h1.0v1.0h-1.0zM44.0 22.9h1.0v1.0h-1.0zM40.8 17.6h1.0v1.0h-1.0zM10.8 20.1h1.0v1.0h-1.0zM40.2 43.4h1.0v1.0h-1.0zM47.0 28.2h1.0v1.0h-1.0zM38.2 16.9h1.0v1.0h-1.0zM35.7 52.9h1.0v1.0h-1.0zM3.4 59.9h1.0v1.0h-1.0zM39.8 32.0h1.0v1.0h-1.0zM41.9 31.0h1.0v1.0h-1.0zM25.5 58.8h1.0v1.0h-1.0zM19.3 17.7h1.0v1.0h-1.0zM44.0 30.1h1.0v1.0h-1.0zM35.6 14.2h1.0v1.0h-1.0zM35.9 51.9h1.0v1.0h-1.0zM39.7 18.5h1.0v1.0h-1.0zM40.8 34.1h1.0v1.0h-1.0zM40.5 42.2h1.0v1.0h-1.0zM26.8 58.7h1.0v1.0h-1.0zM43.0 27.7h1.0v1.0h-1.0zM18.7 58.8h1.0v1.0h-1.0zM40.8 39.6h1.0v1.0h-1.0zM1.5 59.5h1.0v1.0h-1.0zM48.3 23.1h1.0v1.0h-1.0zM41.6 26.7h1.0v1.0h-1.0zM37.3 47.8h1.0v1.0h-1.0zM50.9 25.7h1.0v1.0h-1.0zM3.6 20.2h1.0v1.0h-1.0zM5.4 24.2h1.0v1.0h-1.0zM13.9 17.3h1.0v1.0h-1.0zM10.5 19.6h1.0v1.0h-1.0zM33.9 56.4h1.0v1.0h-1.0zM41.6 19.7h1.0v1.0h-1.0zM4.9 60.2h1.0v1.0h-1.0zM38.7 57.7h1.0v1.0h-1.0zM4.4 59.8h1.0v1.0h-1.0zM40.0 34.8h1.0v1.0h-1.0zM37.6 50.6h1.0v1.0h-1.0zM31.6 58.2h1.0v1.0h-1.0zM39.5 18.4h1.0v1.0h-1.0zM4.2 19.4h1.0v1.0h-1.0zM40.7 18.7h1.0v1.0h-1.0zM22.4 58.9h1.0v1.0h-1.0zM22.9 17.0h1.0v1.0h-1.0zM39.2 24.4h1.0v1.0h-1.0zM1.8 59.4h1.0v1.0h-1.0zM36.5 15.1h1.0v1.0h-1.0zM7.9 20.5h1.0v1.0h-1.0zM3.6 24.9h1.0v1.0h-1.0zM9.9 19.7h1.0v1.0h-1.0zM47.6 48.3h1.0v1.0h-1.0zM15.2 18.1h1.0v1.0h-1.0zM11.0 59.8h1.0v1.0h-1.0zM8.0 21.2h1.0v1.0h-1.0zM39.8 34.0h1.0v1.0h-1.0zM36.5 50.4h1.0v1.0h-1.0zM10.5 59.2h1.0v1.0h-1.0zM38.9 15.2h1.0v1.0h-1.0zM38.1 49.3h1.0v1.0h-1.0zM7.3 59.8h1.0v1.0h-1.0zM39.4 18.4h1.0v1.0h-1.0zM12.3 59.7h1.0v1.0h-1.0zM41.6 38.5h1.0v1.0h-1.0zM34.1 53.5h1.0v1.0h-1.0zM5.7 21.3h1.0v1.0h-1.0zM4.4 21.0h1.0v1.0h-1.0zM7.8 22.3h1.0v1.0h-1.0zM33.8 58.0h1.0v1.0h-1.0zM43.9 42.5h1.0v1.0h-1.0zM41.3 30.6h1.0v1.0h-1.0zM0.6 21.2h1.0v1.0h-1.0zM41.3 17.4h1.0v1.0h-1.0zM17.8 59.6h1.0v1.0h-1.0zM5.1 21.2h1.0v1.0h-1.0zM39.4 29.5h1.0v1.0h-1.0zM38.1 47.5h1.0v1.0h-1.0zM12.2 19.6h1.0v1.0h-1.0zM44.7 37.8h1.0v1.0h-1.0zM42.0 24.9h1.0v1.0h-1.0zM42.5 24.2h1.0v1.0h-1.0zM39.7 29.9h1.0v1.0h-1.0zM16.0 19.2h1.0v1.0h-1.0zM24.3 59.3h1.0v1.0h-1.0zM20.0 16.7h1.0v1.0h-1.0zM40.8 48.7h1.0v1.0h-1.0zM39.3 52.0h1.0v1.0h-1.0zM39.5 40.7h1.0v1.0h-1.0zM9.0 59.3h1.0v1.0h-1.0zM33.7 53.9h1.0v1.0h-1.0zM13.7 59.0h1.0v1.0h-1.0zM39.3 31.5h1.0v1.0h-1.0z" fill="#2450a4"/><path d="M39.6 42.2h0.9v0.9h-0.9zM38.1 45.4h0.9v0.9h-0.9zM40.1 20.0h0.9v0.9h-0.9zM38.1 47.1h0.9v0.9h-0.9zM40.3 29.3h0.9v0.9h-0.9zM41.8 30.4h0.9v0.9h-0.9zM36.2 51.2h0.9v0.9h-0.9zM42.5 29.9h0.9v0.9h-0.9zM12.4 60.3h0.9v0.9h-0.9zM34.6 53.8h0.9v0.9h-0.9zM40.6 44.9h0.9v0.9h-0.9zM42.6 18.2h0.9v0.9h-0.9zM35.9 50.3h0.9v0.9h-0.9zM36.2 51.8h0.9v0.9h-0.9zM40.4 46.7h0.9v0.9h-0.9zM43.1 45.5h0.9v0.9h-0.9zM41.8 30.0h0.9v0.9h-0.9zM44.6 31.2h0.9v0.9h-0.9zM15.3 15.2h0.9v0.9h-0.9zM39.7 33.2h0.9v0.9h-0.9zM44.2 32.0h0.9v0.9h-0.9zM26.0 14.6h0.9v0.9h-0.9zM3.0 19.6h0.9v0.9h-0.9zM39.1 17.6h0.9v0.9h-0.9zM39.4 44.9h0.9v0.9h-0.9zM44.6 36.9h0.9v0.9h-0.9zM9.0 20.3h0.9v0.9h-0.9zM41.2 29.7h0.9v0.9h-0.9zM38.7 42.5h0.9v0.9h-0.9zM39.8 48.3h0.9v0.9h-0.9zM18.4 17.9h0.9v0.9h-0.9zM40.6 20.1h0.9v0.9h-0.9zM9.8 59.0h0.9v0.9h-0.9zM38.9 39.6h0.9v0.9h-0.9zM2.3 21.0h0.9v0.9h-0.9zM27.1 59.7h0.9v0.9h-0.9zM40.4 30.9h0.9v0.9h-0.9zM23.9 59.3h0.9v0.9h-0.9zM37.2 16.3h0.9v0.9h-0.9zM48.5 22.3h0.9v0.9h-0.9zM13.4 16.0h0.9v0.9h-0.9zM43.8 28.4h0.9v0.9h-0.9zM9.8 21.0h0.9v0.9h-0.9zM41.4 45.8h0.9v0.9h-0.9zM50.0 29.6h0.9v0.9h-0.9zM39.5 32.1h0.9v0.9h-0.9zM27.0 59.1h0.9v0.9h-0.9zM29.9 57.8h0.9v0.9h-0.9zM39.1 45.7h0.9v0.9h-0.9zM45.8 26.4h0.9v0.9h-0.9zM42.0 34.9h0.9v0.9h-0.9zM41.6 17.1h0.9v0.9h-0.9zM33.0 55.2h0.9v0.9h-0.9zM39.1 45.3h0.9v0.9h-0.9zM38.9 21.1h0.9v0.9h-0.9zM26.7 58.6h0.9v0.9h-0.9zM34.3 14.4h0.9v0.9h-0.9zM42.8 30.0h0.9v0.9h-0.9zM32.9 15.7h0.9v0.9h-0.9zM38.9 37.5h0.9v0.9h-0.9zM40.7 23.7h0.9v0.9h-0.9zM45.1 27.3h0.9v0.9h-0.9zM10.2 21.7h0.9v0.9h-0.9zM2.2 25.3h0.9v0.9h-0.9zM40.4 57.4h0.9v0.9h-0.9zM9.2 18.5h0.9v0.9h-0.9zM38.3 49.1h0.9v0.9h-0.9zM4.8 18.2h0.9v0.9h-0.9zM19.2 15.1h0.9v0.9h-0.9zM9.6 19.1h0.9v0.9h-0.9zM43.0 36.1h0.9v0.9h-0.9zM43.3 52.0h0.9v0.9h-0.9zM1.6 60.3h0.9v0.9h-0.9zM13.7 59.3h0.9v0.9h-0.9zM20.8 58.6h0.9v0.9h-0.9zM11.8 16.3h0.9v0.9h-0.9zM6.5 59.3h0.9v0.9h-0.9zM41.0 47.2h0.9v0.9h-0.9zM37.9 52.1h0.9v0.9h-0.9zM20.5 59.1h0.9v0.9h-0.9zM39.6 46.4h0.9v0.9h-0.9zM28.0 58.4h0.9v0.9h-0.9zM8.5 59.4h0.9v0.9h-0.9zM32.0 60.1h0.9v0.9h-0.9zM40.4 39.8h0.9v0.9h-0.9zM38.9 36.6h0.9v0.9h-0.9zM41.2 24.2h0.9v0.9h-0.9zM7.5 18.5h0.9v0.9h-0.9zM41.1 29.4h0.9v0.9h-0.9zM23.7 59.0h0.9v0.9h-0.9zM42.1 32.7h0.9v0.9h-0.9zM39.3 36.3h0.9v0.9h-0.9zM40.1 30.3h0.9v0.9h-0.9zM36.5 52.1h0.9v0.9h-0.9zM38.8 49.6h0.9v0.9h-0.9zM20.9 60.0h0.9v0.9h-0.9zM40.5 31.5h0.9v0.9h-0.9zM40.1 38.9h0.9v0.9h-0.9zM43.0 39.7h0.9v0.9h-0.9zM49.4 33.9h0.9v0.9h-0.9zM17.8 18.1h0.9v0.9h-0.9zM37.7 49.2h0.9v0.9h-0.9zM1.5 24.1h0.9v0.9h-0.9zM43.9 46.4h0.9v0.9h-0.9zM39.0 46.3h0.9v0.9h-0.9zM38.6 20.5h0.9v0.9h-0.9zM24.6 59.6h0.9v0.9h-0.9zM5.0 24.2h0.9v0.9h-0.9zM8.4 59.7h0.9v0.9h-0.9zM40.1 49.7h0.9v0.9h-0.9zM36.5 55.7h0.9v0.9h-0.9zM39.0 25.4h0.9v0.9h-0.9zM18.3 59.3h0.9v0.9h-0.9zM41.4 51.9h0.9v0.9h-0.9zM32.5 55.6h0.9v0.9h-0.9zM35.4 53.8h0.9v0.9h-0.9zM39.6 28.6h0.9v0.9h-0.9zM40.9 19.5h0.9v0.9h-0.9zM40.3 32.8h0.9v0.9h-0.9zM16.0 59.8h0.9v0.9h-0.9zM46.1 31.2h0.9v0.9h-0.9zM30.3 57.4h0.9v0.9h-0.9zM43.7 27.9h0.9v0.9h-0.9zM43.0 36.0h0.9v0.9h-0.9zM9.8 20.4h0.9v0.9h-0.9zM33.7 15.2h0.9v0.9h-0.9zM46.4 25.7h0.9v0.9h-0.9zM40.0 40.0h0.9v0.9h-0.9zM14.0 18.2h0.9v0.9h-0.9zM20.9 59.7h0.9v0.9h-0.9zM37.9 53.7h0.9v0.9h-0.9zM16.3 18.4h0.9v0.9h-0.9zM2.1 60.2h0.9v0.9h-0.9zM38.3 17.6h0.9v0.9h-0.9zM40.8 28.2h0.9v0.9h-0.9zM36.3 14.5h0.9v0.9h-0.9zM43.2 45.7h0.9v0.9h-0.9zM41.5 25.5h0.9v0.9h-0.9zM39.3 25.7h0.9v0.9h-0.9zM45.6 19.2h0.9v0.9h-0.9zM2.0 59.4h0.9v0.9h-0.9zM25.1 60.2h0.9v0.9h-0.9zM41.2 41.8h0.9v0.9h-0.9zM10.3 59.7h0.9v0.9h-0.9zM36.2 13.8h0.9v0.9h-0.9zM10.2 19.2h0.9v0.9h-0.9zM33.9 53.7h0.9v0.9h-0.9zM39.4 16.1h0.9v0.9h-0.9zM8.9 19.4h0.9v0.9h-0.9zM1.3 59.9h0.9v0.9h-0.9zM39.3 29.5h0.9v0.9h-0.9zM43.4 42.1h0.9v0.9h-0.9zM38.8 38.1h0.9v0.9h-0.9zM31.0 58.1h0.9v0.9h-0.9zM41.1 17.6h0.9v0.9h-0.9zM3.3 18.5h0.9v0.9h-0.9zM14.1 18.5h0.9v0.9h-0.9zM3.5 17.3h0.9v0.9h-0.9zM26.8 59.7h0.9v0.9h-0.9zM39.2 21.9h0.9v0.9h-0.9zM43.8 49.7h0.9v0.9h-0.9zM39.0 23.4h0.9v0.9h-0.9zM4.7 59.7h0.9v0.9h-0.9zM49.8 45.7h0.9v0.9h-0.9zM7.3 23.0h0.9v0.9h-0.9zM36.9 52.4h0.9v0.9h-0.9zM15.7 59.2h0.9v0.9h-0.9zM20.3 15.0h0.9v0.9h-0.9zM14.2 18.1h0.9v0.9h-0.9zM38.6 45.1h0.9v0.9h-0.9zM50.9 44.6h0.9v0.9h-0.9zM41.3 17.7h0.9v0.9h-0.9zM44.3 23.3h0.9v0.9h-0.9zM42.8 30.9h0.9v0.9h-0.9zM41.2 29.3h0.9v0.9h-0.9zM38.7 18.4h0.9v0.9h-0.9zM41.7 42.7h0.9v0.9h-0.9zM39.8 37.9h0.9v0.9h-0.9zM39.1 35.9h0.9v0.9h-0.9zM40.5 55.3h0.9v0.9h-0.9zM42.7 36.8h0.9v0.9h-0.9zM39.8 28.9h0.9v0.9h-0.9zM4.9 23.6h0.9v0.9h-0.9zM37.9 48.2h0.9v0.9h-0.9zM39.0 44.1h0.9v0.9h-0.9zM48.2 44.2h0.9v0.9h-0.9zM7.8 60.2h0.9v0.9h-0.9zM39.1 33.2h0.9v0.9h-0.9zM8.2 21.2h0.9v0.9h-0.9zM4.3 18.8h0.9v0.9h-0.9zM44.9 35.1h0.9v0.9h-0.9zM40.5 35.0h0.9v0.9h-0.9zM37.4 15.8h0.9v0.9h-0.9zM39.5 34.1h0.9v0.9h-0.9zM39.7 39.8h0.9v0.9h-0.9zM35.3 51.9h0.9v0.9h-0.9zM41.8 32.0h0.9v0.9h-0.9zM5.1 23.0h0.9v0.9h-0.9zM16.9 17.0h0.9v0.9h-0.9zM26.4 15.8h0.9v0.9h-0.9zM29.7 15.9h0.9v0.9h-0.9zM37.2 47.8h0.9v0.9h-0.9zM14.7 59.8h0.9v0.9h-0.9zM39.4 35.2h0.9v0.9h-0.9zM41.4 35.8h0.9v0.9h-0.9zM12.5 20.6h0.9v0.9h-0.9zM3.6 24.9h0.9v0.9h-0.9zM48.0 21.7h0.9v0.9h-0.9zM24.5 16.7h0.9v0.9h-0.9zM46.2 26.0h0.9v0.9h-0.9zM2.8 22.3h0.9v0.9h-0.9zM15.9 16.1h0.9v0.9h-0.9zM40.2 23.3h0.9v0.9h-0.9zM40.2 18.1h0.9v0.9h-0.9zM38.1 51.4h0.9v0.9h-0.9zM42.1 25.5h0.9v0.9h-0.9zM38.5 44.0h0.9v0.9h-0.9zM39.3 44.6h0.9v0.9h-0.9zM9.1 21.9h0.9v0.9h-0.9zM39.6 38.5h0.9v0.9h-0.9zM18.3 59.2h0.9v0.9h-0.9zM38.8 17.2h0.9v0.9h-0.9zM41.9 17.4h0.9v0.9h-0.9zM36.7 15.3h0.9v0.9h-0.9zM48.0 26.9h0.9v0.9h-0.9zM11.8 20.7h0.9v0.9h-0.9zM25.8 58.6h0.9v0.9h-0.9zM47.4 43.8h0.9v0.9h-0.9zM26.1 58.8h0.9v0.9h-0.9zM26.6 59.3h0.9v0.9h-0.9zM27.6 15.0h0.9v0.9h-0.9zM41.6 18.3h0.9v0.9h-0.9zM38.9 18.3h0.9v0.9h-0.9zM36.1 60.1h0.9v0.9h-0.9zM40.9 29.7h0.9v0.9h-0.9zM24.4 16.0h0.9v0.9h-0.9zM40.4 19.8h0.9v0.9h-0.9zM43.7 55.7h0.9v0.9h-0.9zM39.0 20.6h0.9v0.9h-0.9zM41.7 46.7h0.9v0.9h-0.9zM38.8 22.6h0.9v0.9h-0.9zM45.9 26.6h0.9v0.9h-0.9zM44.0 38.4h0.9v0.9h-0.9zM40.7 34.3h0.9v0.9h-0.9zM41.2 36.1h0.9v0.9h-0.9zM41.4 37.3h0.9v0.9h-0.9zM12.6 19.8h0.9v0.9h-0.9zM12.9 59.6h0.9v0.9h-0.9zM40.0 20.6h0.9v0.9h-0.9zM35.7 52.1h0.9v0.9h-0.9zM8.0 19.0h0.9v0.9h-0.9zM40.7 15.2h0.9v0.9h-0.9zM36.2 15.0h0.9v0.9h-0.9zM8.5 22.4h0.9v0.9h-0.9zM30.5 57.5h0.9v0.9h-0.9zM39.2 37.2h0.9v0.9h-0.9z" fill="#3b6cc0"/></g><path d="M0.4 27 7 23.4 14 20.2 22 17.2 30 16.2 35.7 15.6 38.400000000000006 18.1 39.2 30 38.5 43 35.400000000000006 51.5 29.200000000000003 58.3 0.4 59.4Z" fill="#1d4ba2" stroke="#1d4ba2" stroke-width="0.8" stroke-linejoin="round" filter="url(#b0)"/><g filter="url(#b0)"><path d="M8.2 38.0h0.9v0.9h-0.9zM6.1 39.5h0.9v0.9h-0.9zM9.5 27.7h0.9v0.9h-0.9zM4.4 35.7h0.9v0.9h-0.9zM2.4 40.7h0.9v0.9h-0.9zM27.1 21.5h0.9v0.9h-0.9zM25.0 21.0h0.9v0.9h-0.9zM1.1 27.1h0.9v0.9h-0.9zM29.5 18.0h0.9v0.9h-0.9zM3.0 26.8h0.9v0.9h-0.9zM3.8 38.8h0.9v0.9h-0.9zM1.4 40.0h0.9v0.9h-0.9zM28.9 19.0h0.9v0.9h-0.9zM11.5 22.9h0.9v0.9h-0.9zM31.9 32.9h0.9v0.9h-0.9zM2.6 30.6h0.9v0.9h-0.9zM26.3 17.1h0.9v0.9h-0.9zM8.0 31.0h0.9v0.9h-0.9zM3.0 35.5h0.9v0.9h-0.9zM7.6 25.9h0.9v0.9h-0.9zM19.6 19.8h0.9v0.9h-0.9zM17.2 29.5h0.9v0.9h-0.9zM4.8 27.9h0.9v0.9h-0.9zM21.6 18.5h0.9v0.9h-0.9zM13.6 24.0h0.9v0.9h-0.9zM13.4 27.0h0.9v0.9h-0.9zM13.9 22.5h0.9v0.9h-0.9zM25.3 20.8h0.9v0.9h-0.9zM14.4 25.5h0.9v0.9h-0.9zM8.4 40.7h0.9v0.9h-0.9zM5.5 41.6h0.9v0.9h-0.9zM25.0 25.0h0.9v0.9h-0.9zM19.7 19.0h0.9v0.9h-0.9zM23.1 27.1h0.9v0.9h-0.9zM7.0 30.2h0.9v0.9h-0.9zM23.8 26.3h0.9v0.9h-0.9zM6.5 24.4h0.9v0.9h-0.9zM6.8 25.0h0.9v0.9h-0.9zM27.8 22.4h0.9v0.9h-0.9zM9.0 32.0h0.9v0.9h-0.9zM11.8 28.2h0.9v0.9h-0.9zM2.7 26.0h0.9v0.9h-0.9zM17.5 21.2h0.9v0.9h-0.9zM15.8 30.9h0.9v0.9h-0.9zM2.0 33.1h0.9v0.9h-0.9zM17.1 20.6h0.9v0.9h-0.9zM19.1 28.1h0.9v0.9h-0.9zM28.0 21.6h0.9v0.9h-0.9zM25.2 33.1h0.9v0.9h-0.9zM21.0 22.8h0.9v0.9h-0.9zM2.8 33.7h0.9v0.9h-0.9zM8.8 25.1h0.9v0.9h-0.9zM10.8 23.9h0.9v0.9h-0.9zM22.1 19.9h0.9v0.9h-0.9zM28.1 17.8h0.9v0.9h-0.9zM28.4 33.8h0.9v0.9h-0.9zM13.1 32.5h0.9v0.9h-0.9zM1.9 26.4h0.9v0.9h-0.9zM8.5 36.5h0.9v0.9h-0.9zM15.9 22.7h0.9v0.9h-0.9zM28.5 16.7h0.9v0.9h-0.9zM2.8 38.8h0.9v0.9h-0.9zM31.5 25.1h0.9v0.9h-0.9zM14.7 23.5h0.9v0.9h-0.9zM6.1 26.0h0.9v0.9h-0.9zM19.1 25.5h0.9v0.9h-0.9zM24.3 23.2h0.9v0.9h-0.9zM13.5 21.3h0.9v0.9h-0.9zM7.9 23.8h0.9v0.9h-0.9zM21.0 21.5h0.9v0.9h-0.9zM23.1 17.8h0.9v0.9h-0.9zM18.5 20.4h0.9v0.9h-0.9zM4.4 25.7h0.9v0.9h-0.9zM29.1 17.0h0.9v0.9h-0.9zM1.3 29.9h0.9v0.9h-0.9zM8.3 25.8h0.9v0.9h-0.9zM21.3 17.5h0.9v0.9h-0.9zM29.6 24.7h0.9v0.9h-0.9zM1.3 29.8h0.9v0.9h-0.9zM24.7 36.7h0.9v0.9h-0.9zM15.0 25.9h0.9v0.9h-0.9zM13.6 23.4h0.9v0.9h-0.9zM10.6 40.8h0.9v0.9h-0.9zM3.1 38.1h0.9v0.9h-0.9zM2.7 38.0h0.9v0.9h-0.9zM10.3 22.0h0.9v0.9h-0.9zM25.4 17.5h0.9v0.9h-0.9zM3.5 36.2h0.9v0.9h-0.9zM2.8 32.6h0.9v0.9h-0.9zM1.0 31.7h0.9v0.9h-0.9zM8.7 24.5h0.9v0.9h-0.9zM28.9 18.9h0.9v0.9h-0.9zM30.5 34.6h0.9v0.9h-0.9zM29.0 40.9h0.9v0.9h-0.9zM21.0 27.0h0.9v0.9h-0.9zM13.6 25.3h0.9v0.9h-0.9zM30.2 31.2h0.9v0.9h-0.9zM25.0 24.2h0.9v0.9h-0.9z" fill="#7fa6e0" opacity="0.75"/></g><g transform="translate(1.0,0)"><path d="M1.5 40 Q10 30 22 24 Q31 21 36 26 Q39 34 36.5 45 Q33 54 25 56.5 Q12 57.5 1.5 54 Z" fill="#1f62ba" filter="url(#b2)"/></g><g transform="translate(1.4,0)"><path d="M6 47.5 Q12 40 20 32.5 Q27 27.5 32 31 Q35.5 36 34.3 44 Q32 52.5 26 55.6 Q18 57 11 54 Q5 51 6 47.5Z" fill="#34aee6" filter="url(#b2)"/></g><path transform="translate(25.2,42.7) scale(1.2,1.17)" d="M3.6 -10.6C6.6 -9.8 9.1 -5.3 8.8 -0.8C8.6 4.2 5.6 9.7 0.1 10.6C-4.9 11.2 -9.4 8.2 -8.8 3.7C-8.1 -0.8 -2.9 -9.3 3.6 -10.6Z" fill="#35c4c0" filter="url(#b1)"/><path transform="translate(26.3,43.0) scale(1.0,1.0)" d="M3.6 -10.6C6.6 -9.8 9.1 -5.3 8.8 -0.8C8.6 4.2 5.6 9.7 0.1 10.6C-4.9 11.2 -9.4 8.2 -8.8 3.7C-8.1 -0.8 -2.9 -9.3 3.6 -10.6Z" fill="#52cf48" filter="url(#b1)"/><path transform="translate(27.2,43.7) scale(0.77,0.77)" d="M3.6 -10.6C6.6 -9.8 9.1 -5.3 8.8 -0.8C8.6 4.2 5.6 9.7 0.1 10.6C-4.9 11.2 -9.4 8.2 -8.8 3.7C-8.1 -0.8 -2.9 -9.3 3.6 -10.6Z" fill="#a6dc2c" filter="url(#b1)"/><path transform="translate(28.0,44.4) scale(0.58,0.58)" d="M3.6 -10.6C6.6 -9.8 9.1 -5.3 8.8 -0.8C8.6 4.2 5.6 9.7 0.1 10.6C-4.9 11.2 -9.4 8.2 -8.8 3.7C-8.1 -0.8 -2.9 -9.3 3.6 -10.6Z" fill="#f0e21e" filter="url(#b1)"/><path transform="translate(28.4,44.8) scale(0.4,0.4)" d="M3.6 -10.6C6.6 -9.8 9.1 -5.3 8.8 -0.8C8.6 4.2 5.6 9.7 0.1 10.6C-4.9 11.2 -9.4 8.2 -8.8 3.7C-8.1 -0.8 -2.9 -9.3 3.6 -10.6Z" fill="#f79a1a" filter="url(#b1)"/><path transform="translate(28.5,45) scale(0.22,0.22)" d="M3.6 -10.6C6.6 -9.8 9.1 -5.3 8.8 -0.8C8.6 4.2 5.6 9.7 0.1 10.6C-4.9 11.2 -9.4 8.2 -8.8 3.7C-8.1 -0.8 -2.9 -9.3 3.6 -10.6Z" fill="#f02a1c" filter="url(#b0)"/><g filter="url(#b0)"><path d="M82.4 25.5h1.0v1.0h-1.0zM71.8 29.2h1.0v1.0h-1.0zM69.4 25.1h1.0v1.0h-1.0zM56.0 33.3h1.0v1.0h-1.0zM49.3 26.2h1.0v1.0h-1.0zM55.4 19.9h1.0v1.0h-1.0zM48.1 35.4h1.0v1.0h-1.0zM74.0 36.3h1.0v1.0h-1.0zM58.3 23.7h1.0v1.0h-1.0zM52.4 23.3h1.0v1.0h-1.0zM71.6 11.5h1.0v1.0h-1.0zM56.6 25.6h1.0v1.0h-1.0zM76.4 30.9h1.0v1.0h-1.0zM44.2 46.3h1.0v1.0h-1.0zM45.7 35.9h1.0v1.0h-1.0zM52.1 38.6h1.0v1.0h-1.0zM61.7 33.2h1.0v1.0h-1.0zM60.8 39.5h1.0v1.0h-1.0zM63.5 24.5h1.0v1.0h-1.0zM77.3 41.6h1.0v1.0h-1.0zM66.8 44.8h1.0v1.0h-1.0zM49.9 28.0h1.0v1.0h-1.0zM52.9 34.4h1.0v1.0h-1.0zM56.9 28.5h1.0v1.0h-1.0zM65.6 21.6h1.0v1.0h-1.0zM55.1 25.6h1.0v1.0h-1.0zM48.9 25.5h1.0v1.0h-1.0zM62.7 25.8h1.0v1.0h-1.0zM61.7 46.4h1.0v1.0h-1.0zM75.7 12.7h1.0v1.0h-1.0zM60.9 40.2h1.0v1.0h-1.0zM58.7 24.6h1.0v1.0h-1.0zM57.8 24.0h1.0v1.0h-1.0zM59.1 21.3h1.0v1.0h-1.0zM49.4 25.4h1.0v1.0h-1.0zM62.3 18.6h1.0v1.0h-1.0zM76.8 26.9h1.0v1.0h-1.0zM68.8 14.7h1.0v1.0h-1.0zM56.1 32.6h1.0v1.0h-1.0zM58.3 25.1h1.0v1.0h-1.0zM57.2 32.0h1.0v1.0h-1.0zM52.5 40.3h1.0v1.0h-1.0zM51.1 33.9h1.0v1.0h-1.0zM56.6 34.9h1.0v1.0h-1.0zM57.1 23.2h1.0v1.0h-1.0zM58.7 29.2h1.0v1.0h-1.0zM53.6 43.6h1.0v1.0h-1.0zM51.3 40.7h1.0v1.0h-1.0zM79.5 43.9h1.0v1.0h-1.0zM56.1 31.0h1.0v1.0h-1.0zM81.9 11.3h1.0v1.0h-1.0zM57.1 16.7h1.0v1.0h-1.0zM49.7 37.4h1.0v1.0h-1.0zM55.3 42.1h1.0v1.0h-1.0zM52.7 34.1h1.0v1.0h-1.0zM73.3 37.5h1.0v1.0h-1.0zM79.2 33.1h1.0v1.0h-1.0zM48.3 34.7h1.0v1.0h-1.0zM76.2 35.4h1.0v1.0h-1.0zM53.5 39.0h1.0v1.0h-1.0zM53.0 33.6h1.0v1.0h-1.0zM73.5 43.2h1.0v1.0h-1.0zM50.4 33.8h1.0v1.0h-1.0zM65.3 28.7h1.0v1.0h-1.0zM56.4 24.1h1.0v1.0h-1.0zM62.8 37.9h1.0v1.0h-1.0zM51.2 15.1h1.0v1.0h-1.0zM46.9 35.4h1.0v1.0h-1.0zM53.9 25.6h1.0v1.0h-1.0zM75.6 41.4h1.0v1.0h-1.0zM58.3 25.4h1.0v1.0h-1.0zM71.3 37.8h1.0v1.0h-1.0zM55.8 48.4h1.0v1.0h-1.0zM60.9 36.7h1.0v1.0h-1.0zM52.8 34.1h1.0v1.0h-1.0zM66.2 35.2h1.0v1.0h-1.0z" fill="#9aa8cc"/><path d="M50.7 22.8h1.0v1.0h-1.0zM44.8 38.2h1.0v1.0h-1.0zM47.9 42.1h1.0v1.0h-1.0zM50.2 40.1h1.0v1.0h-1.0zM52.0 16.4h1.0v1.0h-1.0zM51.4 24.0h1.0v1.0h-1.0zM51.6 26.9h1.0v1.0h-1.0zM45.4 39.9h1.0v1.0h-1.0zM49.1 40.5h1.0v1.0h-1.0zM50.4 20.9h1.0v1.0h-1.0zM46.1 39.7h1.0v1.0h-1.0zM48.7 21.3h1.0v1.0h-1.0zM50.7 29.5h1.0v1.0h-1.0zM51.1 34.1h1.0v1.0h-1.0zM50.1 36.2h1.0v1.0h-1.0zM53.6 19.1h1.0v1.0h-1.0zM44.6 40.1h1.0v1.0h-1.0zM48.3 21.5h1.0v1.0h-1.0zM47.8 25.5h1.0v1.0h-1.0z" fill="#5f7fc0"/></g><path d="M50.5 9.8 H84.7 V70.6 H38 Z" fill="none" stroke="#c6a3ca" stroke-width="0.65"/><text x="65.5" y="9.9" font-size="7.6" text-anchor="middle" fill="#ab6db0">0.0534</text><path d="M0 -0.5H86.6V74.2" fill="none" stroke="#7a7a7a" stroke-width="0.75"/><path d="M0 -0.5V74.2H86.6" fill="none" stroke="#222" stroke-width="0.9"/><line x1="-1.6" y1="74.10" x2="0" y2="74.10" stroke="#333" stroke-width="0.6"/><text x="-1.3" y="76.00" font-size="4.8" text-anchor="end" fill="#000" stroke="#000" stroke-width="0.15">0</text><line x1="-1.6" y1="60.53" x2="0" y2="60.53" stroke="#333" stroke-width="0.6"/><text x="-1.3" y="62.43" font-size="4.8" text-anchor="end" fill="#000" stroke="#000" stroke-width="0.15">50K</text><line x1="-1.6" y1="46.31" x2="0" y2="46.31" stroke="#333" stroke-width="0.6"/><text x="-1.3" y="48.21" font-size="4.8" text-anchor="end" fill="#000" stroke="#000" stroke-width="0.15">100K</text><line x1="-1.6" y1="32.09" x2="0" y2="32.09" stroke="#333" stroke-width="0.6"/><text x="-1.3" y="33.99" font-size="4.8" text-anchor="end" fill="#000" stroke="#000" stroke-width="0.15">150K</text><line x1="-1.6" y1="17.87" x2="0" y2="17.87" stroke="#333" stroke-width="0.6"/><text x="-1.3" y="19.77" font-size="4.8" text-anchor="end" fill="#000" stroke="#000" stroke-width="0.15">200K</text><line x1="-1.6" y1="3.65" x2="0" y2="3.65" stroke="#333" stroke-width="0.6"/><text x="-1.3" y="5.55" font-size="4.8" text-anchor="end" fill="#000" stroke="#000" stroke-width="0.15">250K</text><line x1="9" y1="74.2" x2="9" y2="76.0" stroke="#333" stroke-width="0.6"/><line x1="28" y1="74.2" x2="28" y2="76.0" stroke="#333" stroke-width="0.6"/><line x1="47" y1="74.2" x2="47" y2="76.0" stroke="#333" stroke-width="0.6"/><line x1="66" y1="74.2" x2="66" y2="76.0" stroke="#333" stroke-width="0.6"/><line x1="84" y1="74.2" x2="84" y2="76.0" stroke="#333" stroke-width="0.6"/><path d="M2 74.2v1M5 74.2v1M8 74.2v1M11 74.2v1M14 74.2v1M17 74.2v1M20 74.2v1M23 74.2v1M26 74.2v1M29 74.2v1M32 74.2v1M35 74.2v1M38 74.2v1M41 74.2v1M44 74.2v1M47 74.2v1M50 74.2v1M53 74.2v1M56 74.2v1M59 74.2v1M62 74.2v1M65 74.2v1M68 74.2v1M71 74.2v1M74 74.2v1M77 74.2v1M80 74.2v1M83 74.2v1" stroke="#666" stroke-width="0.35" fill="none"/><text x="10" y="82.4" font-size="5.2" text-anchor="middle" fill="#000" stroke="#000" stroke-width="0.2">0</text><text x="19.0" y="82.4" font-size="5.2" text-anchor="middle" fill="#000" stroke="#000" stroke-width="0.2" textLength="6.6" lengthAdjust="spacingAndGlyphs">10<tspan dy="-2.2" font-size="2.8">2</tspan></text><text x="39.6" y="82.4" font-size="5.2" text-anchor="middle" fill="#000" stroke="#000" stroke-width="0.2" textLength="6.6" lengthAdjust="spacingAndGlyphs">10<tspan dy="-2.2" font-size="2.8">3</tspan></text><text x="60.4" y="82.4" font-size="5.2" text-anchor="middle" fill="#000" stroke="#000" stroke-width="0.2" textLength="6.6" lengthAdjust="spacingAndGlyphs">10<tspan dy="-2.2" font-size="2.8">4</tspan></text><text x="78.7" y="82.4" font-size="5.2" text-anchor="middle" fill="#000" stroke="#000" stroke-width="0.2" textLength="6.6" lengthAdjust="spacingAndGlyphs">10<tspan dy="-2.2" font-size="2.8">5</tspan></text></g>
<g transform="translate(336.2,384.0)"><g filter="url(#b0)"><path d="M37.3 55.2h1.0v1.0h-1.0zM36.4 14.8h1.0v1.0h-1.0zM42.8 48.4h1.0v1.0h-1.0zM9.8 22.8h1.0v1.0h-1.0zM33.5 56.1h1.0v1.0h-1.0zM17.2 20.1h1.0v1.0h-1.0zM15.2 21.4h1.0v1.0h-1.0zM43.8 46.2h1.0v1.0h-1.0zM18.5 58.9h1.0v1.0h-1.0zM38.5 50.9h1.0v1.0h-1.0zM42.7 34.2h1.0v1.0h-1.0zM40.3 18.0h1.0v1.0h-1.0zM43.6 15.2h1.0v1.0h-1.0zM41.2 24.9h1.0v1.0h-1.0zM35.6 55.4h1.0v1.0h-1.0zM40.0 45.1h1.0v1.0h-1.0zM45.0 33.6h1.0v1.0h-1.0zM41.2 41.8h1.0v1.0h-1.0zM17.9 58.8h1.0v1.0h-1.0zM46.2 33.9h1.0v1.0h-1.0zM45.6 25.7h1.0v1.0h-1.0zM38.0 53.0h1.0v1.0h-1.0zM42.0 30.8h1.0v1.0h-1.0zM20.2 60.2h1.0v1.0h-1.0zM44.0 23.6h1.0v1.0h-1.0zM14.6 59.7h1.0v1.0h-1.0zM9.8 25.2h1.0v1.0h-1.0zM44.2 44.4h1.0v1.0h-1.0zM43.4 44.4h1.0v1.0h-1.0zM41.2 43.3h1.0v1.0h-1.0zM41.0 33.9h1.0v1.0h-1.0zM14.5 21.9h1.0v1.0h-1.0zM30.4 58.6h1.0v1.0h-1.0zM38.7 50.8h1.0v1.0h-1.0zM29.9 59.6h1.0v1.0h-1.0zM45.1 18.4h1.0v1.0h-1.0zM41.1 30.5h1.0v1.0h-1.0zM41.5 28.9h1.0v1.0h-1.0zM43.5 44.1h1.0v1.0h-1.0zM14.6 21.0h1.0v1.0h-1.0zM29.1 15.2h1.0v1.0h-1.0zM48.9 22.7h1.0v1.0h-1.0zM44.3 36.0h1.0v1.0h-1.0zM51.7 26.6h1.0v1.0h-1.0zM24.3 58.6h1.0v1.0h-1.0zM2.0 31.2h1.0v1.0h-1.0zM41.4 19.9h1.0v1.0h-1.0zM41.9 36.2h1.0v1.0h-1.0zM18.7 59.2h1.0v1.0h-1.0zM38.5 48.0h1.0v1.0h-1.0zM43.9 32.3h1.0v1.0h-1.0zM44.4 42.1h1.0v1.0h-1.0zM41.5 41.5h1.0v1.0h-1.0zM39.6 48.3h1.0v1.0h-1.0zM40.1 55.3h1.0v1.0h-1.0zM3.4 27.6h1.0v1.0h-1.0zM5.3 25.5h1.0v1.0h-1.0zM39.7 46.7h1.0v1.0h-1.0zM37.2 14.3h1.0v1.0h-1.0zM42.4 47.6h1.0v1.0h-1.0zM4.4 28.5h1.0v1.0h-1.0zM9.8 25.7h1.0v1.0h-1.0zM39.9 44.9h1.0v1.0h-1.0zM41.6 27.1h1.0v1.0h-1.0zM38.9 57.6h1.0v1.0h-1.0zM21.4 17.1h1.0v1.0h-1.0zM42.6 19.1h1.0v1.0h-1.0zM46.1 19.9h1.0v1.0h-1.0zM31.8 58.1h1.0v1.0h-1.0zM26.9 15.4h1.0v1.0h-1.0zM20.6 59.4h1.0v1.0h-1.0zM21.7 59.4h1.0v1.0h-1.0zM13.9 59.6h1.0v1.0h-1.0zM16.7 19.7h1.0v1.0h-1.0zM48.9 18.5h1.0v1.0h-1.0zM27.9 58.6h1.0v1.0h-1.0zM13.6 59.2h1.0v1.0h-1.0zM5.6 29.4h1.0v1.0h-1.0zM2.5 30.5h1.0v1.0h-1.0zM7.4 59.2h1.0v1.0h-1.0zM37.8 53.2h1.0v1.0h-1.0zM41.5 26.6h1.0v1.0h-1.0zM5.7 26.9h1.0v1.0h-1.0zM14.2 22.0h1.0v1.0h-1.0zM20.6 59.3h1.0v1.0h-1.0zM39.4 54.2h1.0v1.0h-1.0zM40.9 39.1h1.0v1.0h-1.0zM9.2 24.3h1.0v1.0h-1.0zM41.6 24.3h1.0v1.0h-1.0zM40.8 46.8h1.0v1.0h-1.0zM40.5 43.9h1.0v1.0h-1.0zM44.1 55.9h1.0v1.0h-1.0zM41.9 29.8h1.0v1.0h-1.0zM44.0 23.7h1.0v1.0h-1.0zM8.0 23.1h1.0v1.0h-1.0zM39.5 51.9h1.0v1.0h-1.0zM20.0 59.2h1.0v1.0h-1.0zM19.1 60.2h1.0v1.0h-1.0zM50.8 24.5h1.0v1.0h-1.0zM44.5 17.0h1.0v1.0h-1.0zM39.8 50.9h1.0v1.0h-1.0zM40.0 46.1h1.0v1.0h-1.0zM40.5 42.6h1.0v1.0h-1.0zM8.3 59.4h1.0v1.0h-1.0zM41.2 30.0h1.0v1.0h-1.0zM43.8 31.6h1.0v1.0h-1.0zM41.4 37.6h1.0v1.0h-1.0zM9.7 59.5h1.0v1.0h-1.0zM41.6 23.5h1.0v1.0h-1.0zM41.0 41.1h1.0v1.0h-1.0zM3.1 30.0h1.0v1.0h-1.0zM41.0 23.1h1.0v1.0h-1.0zM50.8 35.4h1.0v1.0h-1.0zM44.2 33.4h1.0v1.0h-1.0zM6.5 28.2h1.0v1.0h-1.0zM42.3 30.0h1.0v1.0h-1.0zM1.7 59.5h1.0v1.0h-1.0zM40.0 48.1h1.0v1.0h-1.0zM42.6 31.8h1.0v1.0h-1.0zM44.7 19.3h1.0v1.0h-1.0zM40.3 49.1h1.0v1.0h-1.0zM50.0 18.8h1.0v1.0h-1.0zM20.9 59.6h1.0v1.0h-1.0zM42.1 41.0h1.0v1.0h-1.0zM39.3 52.2h1.0v1.0h-1.0zM6.3 26.8h1.0v1.0h-1.0zM38.8 53.5h1.0v1.0h-1.0zM46.9 48.5h1.0v1.0h-1.0zM43.9 45.6h1.0v1.0h-1.0zM41.0 35.9h1.0v1.0h-1.0zM8.6 59.1h1.0v1.0h-1.0zM6.6 59.7h1.0v1.0h-1.0zM40.9 39.7h1.0v1.0h-1.0zM42.2 33.5h1.0v1.0h-1.0zM41.5 32.5h1.0v1.0h-1.0zM39.8 17.1h1.0v1.0h-1.0zM42.6 36.2h1.0v1.0h-1.0zM40.9 43.2h1.0v1.0h-1.0zM2.4 60.0h1.0v1.0h-1.0zM21.6 58.8h1.0v1.0h-1.0zM43.8 28.1h1.0v1.0h-1.0zM41.3 24.4h1.0v1.0h-1.0zM41.1 37.7h1.0v1.0h-1.0zM43.5 44.6h1.0v1.0h-1.0zM41.1 30.1h1.0v1.0h-1.0zM15.7 21.2h1.0v1.0h-1.0zM9.9 23.5h1.0v1.0h-1.0zM47.0 35.6h1.0v1.0h-1.0zM41.0 29.9h1.0v1.0h-1.0zM41.9 39.9h1.0v1.0h-1.0zM41.7 33.6h1.0v1.0h-1.0zM45.7 34.9h1.0v1.0h-1.0zM43.2 26.3h1.0v1.0h-1.0zM21.7 17.2h1.0v1.0h-1.0zM43.1 19.6h1.0v1.0h-1.0zM41.6 24.0h1.0v1.0h-1.0zM45.0 34.4h1.0v1.0h-1.0zM39.0 15.4h1.0v1.0h-1.0zM32.9 56.4h1.0v1.0h-1.0zM51.3 37.5h1.0v1.0h-1.0zM42.4 31.9h1.0v1.0h-1.0zM41.0 22.2h1.0v1.0h-1.0zM31.6 58.3h1.0v1.0h-1.0zM12.0 59.2h1.0v1.0h-1.0zM2.7 30.4h1.0v1.0h-1.0zM45.5 55.1h1.0v1.0h-1.0zM18.6 19.1h1.0v1.0h-1.0zM43.2 28.8h1.0v1.0h-1.0zM38.0 58.7h1.0v1.0h-1.0zM35.8 14.4h1.0v1.0h-1.0zM16.1 59.7h1.0v1.0h-1.0zM45.4 44.9h1.0v1.0h-1.0zM48.4 36.8h1.0v1.0h-1.0zM18.5 59.0h1.0v1.0h-1.0zM25.2 59.6h1.0v1.0h-1.0zM44.7 38.3h1.0v1.0h-1.0zM41.7 34.7h1.0v1.0h-1.0zM41.1 35.3h1.0v1.0h-1.0zM45.2 52.4h1.0v1.0h-1.0zM40.5 22.3h1.0v1.0h-1.0zM34.3 10.7h1.0v1.0h-1.0zM15.7 21.3h1.0v1.0h-1.0zM49.9 27.9h1.0v1.0h-1.0zM40.6 43.7h1.0v1.0h-1.0zM42.0 48.7h1.0v1.0h-1.0zM0.8 59.6h1.0v1.0h-1.0zM32.1 58.2h1.0v1.0h-1.0zM9.0 23.5h1.0v1.0h-1.0zM17.1 19.7h1.0v1.0h-1.0zM9.8 59.5h1.0v1.0h-1.0zM38.1 52.5h1.0v1.0h-1.0zM39.0 57.1h1.0v1.0h-1.0zM21.5 16.0h1.0v1.0h-1.0zM20.3 18.0h1.0v1.0h-1.0zM34.9 58.7h1.0v1.0h-1.0zM43.3 18.9h1.0v1.0h-1.0zM42.1 45.1h1.0v1.0h-1.0zM43.4 16.5h1.0v1.0h-1.0zM43.6 26.5h1.0v1.0h-1.0zM35.1 56.7h1.0v1.0h-1.0zM39.3 16.6h1.0v1.0h-1.0zM42.9 21.5h1.0v1.0h-1.0zM6.6 28.5h1.0v1.0h-1.0zM41.5 39.3h1.0v1.0h-1.0zM13.8 21.2h1.0v1.0h-1.0zM42.7 41.2h1.0v1.0h-1.0zM29.5 58.6h1.0v1.0h-1.0zM33.2 56.2h1.0v1.0h-1.0zM42.6 37.8h1.0v1.0h-1.0zM10.9 23.0h1.0v1.0h-1.0zM42.2 17.6h1.0v1.0h-1.0zM43.2 27.1h1.0v1.0h-1.0zM43.5 29.4h1.0v1.0h-1.0zM41.6 45.2h1.0v1.0h-1.0zM29.5 15.3h1.0v1.0h-1.0zM12.1 21.0h1.0v1.0h-1.0zM45.7 32.1h1.0v1.0h-1.0zM42.7 29.9h1.0v1.0h-1.0zM39.0 48.4h1.0v1.0h-1.0zM40.5 16.9h1.0v1.0h-1.0zM36.8 52.9h1.0v1.0h-1.0zM42.0 17.8h1.0v1.0h-1.0zM38.6 49.2h1.0v1.0h-1.0zM25.8 16.1h1.0v1.0h-1.0zM12.5 59.4h1.0v1.0h-1.0zM46.7 37.5h1.0v1.0h-1.0zM11.7 59.1h1.0v1.0h-1.0zM1.0 59.7h1.0v1.0h-1.0zM36.6 53.6h1.0v1.0h-1.0zM41.5 17.6h1.0v1.0h-1.0zM3.7 31.1h1.0v1.0h-1.0zM46.8 44.2h1.0v1.0h-1.0zM26.8 58.5h1.0v1.0h-1.0zM42.9 53.5h1.0v1.0h-1.0zM11.1 24.2h1.0v1.0h-1.0zM42.0 21.3h1.0v1.0h-1.0zM12.1 23.3h1.0v1.0h-1.0zM42.9 26.8h1.0v1.0h-1.0zM10.7 24.4h1.0v1.0h-1.0zM38.9 49.8h1.0v1.0h-1.0zM42.9 36.3h1.0v1.0h-1.0zM45.9 43.6h1.0v1.0h-1.0zM40.8 22.1h1.0v1.0h-1.0zM28.5 59.1h1.0v1.0h-1.0zM36.6 56.4h1.0v1.0h-1.0zM49.7 31.2h1.0v1.0h-1.0zM2.9 28.2h1.0v1.0h-1.0zM37.7 55.9h1.0v1.0h-1.0zM8.5 59.2h1.0v1.0h-1.0zM37.4 51.5h1.0v1.0h-1.0zM23.1 59.9h1.0v1.0h-1.0zM42.3 35.8h1.0v1.0h-1.0zM45.4 32.9h1.0v1.0h-1.0zM40.4 15.4h1.0v1.0h-1.0zM41.3 27.6h1.0v1.0h-1.0zM25.7 16.5h1.0v1.0h-1.0zM33.6 14.4h1.0v1.0h-1.0zM24.2 58.7h1.0v1.0h-1.0zM40.0 55.0h1.0v1.0h-1.0zM39.6 16.0h1.0v1.0h-1.0zM36.2 15.3h1.0v1.0h-1.0zM32.6 14.7h1.0v1.0h-1.0zM37.9 53.3h1.0v1.0h-1.0zM43.6 34.3h1.0v1.0h-1.0zM33.5 15.8h1.0v1.0h-1.0zM1.6 25.6h1.0v1.0h-1.0zM42.7 28.5h1.0v1.0h-1.0zM40.8 36.8h1.0v1.0h-1.0zM39.6 48.3h1.0v1.0h-1.0zM42.7 47.9h1.0v1.0h-1.0zM3.7 29.7h1.0v1.0h-1.0zM37.7 60.2h1.0v1.0h-1.0zM29.0 58.5h1.0v1.0h-1.0zM42.4 23.8h1.0v1.0h-1.0zM38.2 60.0h1.0v1.0h-1.0zM29.6 14.8h1.0v1.0h-1.0zM40.9 34.0h1.0v1.0h-1.0zM16.5 60.0h1.0v1.0h-1.0zM22.0 58.7h1.0v1.0h-1.0zM40.9 41.0h1.0v1.0h-1.0zM43.2 40.2h1.0v1.0h-1.0zM40.9 20.3h1.0v1.0h-1.0zM43.2 21.2h1.0v1.0h-1.0zM27.1 60.3h1.0v1.0h-1.0zM43.8 24.6h1.0v1.0h-1.0zM42.4 30.7h1.0v1.0h-1.0zM41.1 46.5h1.0v1.0h-1.0zM42.6 39.7h1.0v1.0h-1.0zM41.9 21.9h1.0v1.0h-1.0zM26.3 16.3h1.0v1.0h-1.0zM48.3 29.4h1.0v1.0h-1.0zM44.9 21.1h1.0v1.0h-1.0zM13.8 59.7h1.0v1.0h-1.0zM19.3 58.7h1.0v1.0h-1.0zM40.7 41.2h1.0v1.0h-1.0zM39.9 52.8h1.0v1.0h-1.0zM43.0 36.6h1.0v1.0h-1.0zM16.6 20.2h1.0v1.0h-1.0zM39.0 15.1h1.0v1.0h-1.0zM43.2 45.1h1.0v1.0h-1.0zM23.5 59.3h1.0v1.0h-1.0zM41.3 54.1h1.0v1.0h-1.0zM30.2 59.2h1.0v1.0h-1.0zM47.3 27.1h1.0v1.0h-1.0zM36.9 52.9h1.0v1.0h-1.0zM41.3 41.7h1.0v1.0h-1.0zM2.9 27.3h1.0v1.0h-1.0zM35.3 59.7h1.0v1.0h-1.0zM43.2 27.2h1.0v1.0h-1.0zM42.8 23.9h1.0v1.0h-1.0zM33.4 55.7h1.0v1.0h-1.0zM3.2 31.3h1.0v1.0h-1.0zM43.5 43.8h1.0v1.0h-1.0zM47.5 20.0h1.0v1.0h-1.0zM43.3 54.4h1.0v1.0h-1.0zM36.6 59.3h1.0v1.0h-1.0zM5.7 16.4h1.0v1.0h-1.0zM42.7 44.9h1.0v1.0h-1.0zM35.4 59.1h1.0v1.0h-1.0zM4.3 30.2h1.0v1.0h-1.0zM40.8 37.9h1.0v1.0h-1.0zM39.1 49.2h1.0v1.0h-1.0zM48.4 37.4h1.0v1.0h-1.0zM41.2 43.8h1.0v1.0h-1.0zM8.1 59.2h1.0v1.0h-1.0zM34.3 59.2h1.0v1.0h-1.0zM37.4 51.5h1.0v1.0h-1.0zM35.0 55.5h1.0v1.0h-1.0zM40.9 23.3h1.0v1.0h-1.0zM36.3 53.3h1.0v1.0h-1.0zM8.8 25.1h1.0v1.0h-1.0zM11.9 59.0h1.0v1.0h-1.0zM41.0 29.4h1.0v1.0h-1.0zM5.8 28.8h1.0v1.0h-1.0zM24.0 60.0h1.0v1.0h-1.0zM44.8 34.1h1.0v1.0h-1.0zM40.4 40.6h1.0v1.0h-1.0zM41.1 18.6h1.0v1.0h-1.0zM41.2 19.2h1.0v1.0h-1.0zM44.5 19.6h1.0v1.0h-1.0zM30.0 60.1h1.0v1.0h-1.0zM14.5 21.1h1.0v1.0h-1.0zM32.7 57.0h1.0v1.0h-1.0zM44.8 40.0h1.0v1.0h-1.0zM44.3 25.8h1.0v1.0h-1.0zM45.1 36.4h1.0v1.0h-1.0zM43.4 25.5h1.0v1.0h-1.0zM11.7 23.0h1.0v1.0h-1.0zM41.2 38.4h1.0v1.0h-1.0zM42.0 35.5h1.0v1.0h-1.0zM35.3 14.5h1.0v1.0h-1.0zM25.1 16.7h1.0v1.0h-1.0zM30.5 58.5h1.0v1.0h-1.0zM36.8 55.6h1.0v1.0h-1.0zM45.7 17.1h1.0v1.0h-1.0zM45.5 46.6h1.0v1.0h-1.0z" fill="#2450a4"/><path d="M41.2 42.1h0.9v0.9h-0.9zM5.2 59.6h0.9v0.9h-0.9zM8.9 25.9h0.9v0.9h-0.9zM44.4 20.2h0.9v0.9h-0.9zM44.7 24.3h0.9v0.9h-0.9zM24.5 59.5h0.9v0.9h-0.9zM18.1 18.6h0.9v0.9h-0.9zM45.1 35.8h0.9v0.9h-0.9zM11.1 22.6h0.9v0.9h-0.9zM42.9 15.2h0.9v0.9h-0.9zM49.4 51.4h0.9v0.9h-0.9zM33.2 15.8h0.9v0.9h-0.9zM40.5 17.4h0.9v0.9h-0.9zM23.8 59.5h0.9v0.9h-0.9zM1.6 30.9h0.9v0.9h-0.9zM41.8 29.2h0.9v0.9h-0.9zM41.0 23.8h0.9v0.9h-0.9zM35.3 53.7h0.9v0.9h-0.9zM46.7 23.9h0.9v0.9h-0.9zM48.4 29.5h0.9v0.9h-0.9zM41.9 41.6h0.9v0.9h-0.9zM43.3 31.6h0.9v0.9h-0.9zM41.5 25.8h0.9v0.9h-0.9zM40.7 48.4h0.9v0.9h-0.9zM39.9 50.0h0.9v0.9h-0.9zM39.7 50.5h0.9v0.9h-0.9zM41.5 26.3h0.9v0.9h-0.9zM13.7 14.3h0.9v0.9h-0.9zM28.8 15.1h0.9v0.9h-0.9zM41.0 31.5h0.9v0.9h-0.9zM41.0 23.4h0.9v0.9h-0.9zM19.5 59.3h0.9v0.9h-0.9zM40.9 49.5h0.9v0.9h-0.9zM43.0 28.7h0.9v0.9h-0.9zM44.6 32.3h0.9v0.9h-0.9zM35.9 53.9h0.9v0.9h-0.9zM35.7 14.3h0.9v0.9h-0.9zM42.0 45.2h0.9v0.9h-0.9zM39.6 47.1h0.9v0.9h-0.9zM35.3 56.6h0.9v0.9h-0.9zM28.5 16.1h0.9v0.9h-0.9zM36.1 56.5h0.9v0.9h-0.9zM42.1 43.5h0.9v0.9h-0.9zM44.4 44.2h0.9v0.9h-0.9zM38.6 48.1h0.9v0.9h-0.9zM41.3 39.9h0.9v0.9h-0.9zM41.1 41.6h0.9v0.9h-0.9zM30.5 59.3h0.9v0.9h-0.9zM19.8 60.1h0.9v0.9h-0.9zM38.8 51.0h0.9v0.9h-0.9zM40.4 17.7h0.9v0.9h-0.9zM41.2 26.4h0.9v0.9h-0.9zM40.0 44.5h0.9v0.9h-0.9zM7.1 26.6h0.9v0.9h-0.9zM44.4 17.3h0.9v0.9h-0.9zM39.6 16.7h0.9v0.9h-0.9zM43.0 19.3h0.9v0.9h-0.9zM46.2 25.2h0.9v0.9h-0.9zM41.6 55.0h0.9v0.9h-0.9zM13.4 60.1h0.9v0.9h-0.9zM42.2 29.7h0.9v0.9h-0.9zM37.6 13.8h0.9v0.9h-0.9zM41.0 51.7h0.9v0.9h-0.9zM22.6 14.7h0.9v0.9h-0.9zM21.9 14.9h0.9v0.9h-0.9zM4.4 30.9h0.9v0.9h-0.9zM42.4 24.5h0.9v0.9h-0.9zM39.6 16.3h0.9v0.9h-0.9zM42.9 43.0h0.9v0.9h-0.9zM40.7 38.7h0.9v0.9h-0.9zM43.8 38.3h0.9v0.9h-0.9zM42.2 22.9h0.9v0.9h-0.9zM35.8 56.0h0.9v0.9h-0.9zM15.1 21.0h0.9v0.9h-0.9zM44.7 25.0h0.9v0.9h-0.9zM26.2 60.0h0.9v0.9h-0.9zM29.6 59.1h0.9v0.9h-0.9zM3.1 28.0h0.9v0.9h-0.9zM41.8 37.3h0.9v0.9h-0.9zM29.6 14.1h0.9v0.9h-0.9zM10.3 25.5h0.9v0.9h-0.9zM2.8 20.5h0.9v0.9h-0.9zM41.9 38.9h0.9v0.9h-0.9zM4.2 27.3h0.9v0.9h-0.9zM41.0 49.8h0.9v0.9h-0.9zM28.4 59.6h0.9v0.9h-0.9zM5.8 25.8h0.9v0.9h-0.9zM40.3 45.2h0.9v0.9h-0.9zM28.1 58.8h0.9v0.9h-0.9zM46.5 34.1h0.9v0.9h-0.9zM43.4 31.9h0.9v0.9h-0.9zM36.8 52.2h0.9v0.9h-0.9zM13.4 59.7h0.9v0.9h-0.9zM42.2 18.6h0.9v0.9h-0.9zM46.8 26.0h0.9v0.9h-0.9zM42.7 41.5h0.9v0.9h-0.9zM39.9 16.5h0.9v0.9h-0.9zM16.8 20.7h0.9v0.9h-0.9zM1.1 31.2h0.9v0.9h-0.9zM42.8 26.3h0.9v0.9h-0.9zM38.1 49.7h0.9v0.9h-0.9zM38.0 57.4h0.9v0.9h-0.9zM39.7 16.5h0.9v0.9h-0.9zM40.9 34.0h0.9v0.9h-0.9zM40.5 21.8h0.9v0.9h-0.9zM45.3 18.1h0.9v0.9h-0.9zM41.6 47.3h0.9v0.9h-0.9zM45.5 35.5h0.9v0.9h-0.9zM38.7 53.3h0.9v0.9h-0.9zM41.5 46.9h0.9v0.9h-0.9zM42.2 27.4h0.9v0.9h-0.9zM11.1 59.8h0.9v0.9h-0.9zM45.1 33.2h0.9v0.9h-0.9zM22.0 59.8h0.9v0.9h-0.9zM44.5 47.7h0.9v0.9h-0.9zM45.3 21.4h0.9v0.9h-0.9zM46.8 38.4h0.9v0.9h-0.9zM36.1 57.5h0.9v0.9h-0.9zM40.0 46.4h0.9v0.9h-0.9zM40.7 20.5h0.9v0.9h-0.9zM43.5 35.5h0.9v0.9h-0.9zM43.0 39.7h0.9v0.9h-0.9zM38.1 50.6h0.9v0.9h-0.9zM36.2 52.9h0.9v0.9h-0.9zM26.0 16.7h0.9v0.9h-0.9zM39.6 51.1h0.9v0.9h-0.9zM48.8 21.7h0.9v0.9h-0.9zM42.6 29.7h0.9v0.9h-0.9zM39.1 48.6h0.9v0.9h-0.9zM42.7 36.0h0.9v0.9h-0.9zM23.4 59.6h0.9v0.9h-0.9zM37.8 54.5h0.9v0.9h-0.9zM43.7 25.5h0.9v0.9h-0.9zM38.6 47.8h0.9v0.9h-0.9zM48.7 39.3h0.9v0.9h-0.9zM47.0 45.7h0.9v0.9h-0.9zM2.9 27.3h0.9v0.9h-0.9zM36.9 57.7h0.9v0.9h-0.9zM44.2 28.3h0.9v0.9h-0.9zM46.1 58.4h0.9v0.9h-0.9zM16.5 19.2h0.9v0.9h-0.9zM41.7 39.7h0.9v0.9h-0.9zM41.8 22.0h0.9v0.9h-0.9zM47.1 47.8h0.9v0.9h-0.9zM44.4 31.0h0.9v0.9h-0.9zM41.9 17.1h0.9v0.9h-0.9zM6.5 59.9h0.9v0.9h-0.9zM42.5 44.9h0.9v0.9h-0.9zM13.8 20.0h0.9v0.9h-0.9zM43.1 26.6h0.9v0.9h-0.9zM22.8 60.3h0.9v0.9h-0.9zM27.2 59.2h0.9v0.9h-0.9zM40.9 18.2h0.9v0.9h-0.9zM39.7 51.6h0.9v0.9h-0.9zM42.9 31.9h0.9v0.9h-0.9zM41.9 49.3h0.9v0.9h-0.9zM38.8 51.0h0.9v0.9h-0.9zM45.2 31.8h0.9v0.9h-0.9zM39.2 49.1h0.9v0.9h-0.9zM44.2 27.8h0.9v0.9h-0.9zM42.9 59.2h0.9v0.9h-0.9zM40.3 16.0h0.9v0.9h-0.9zM6.2 59.4h0.9v0.9h-0.9zM39.6 45.0h0.9v0.9h-0.9zM28.5 58.8h0.9v0.9h-0.9zM3.9 59.9h0.9v0.9h-0.9zM16.5 58.9h0.9v0.9h-0.9zM43.3 28.8h0.9v0.9h-0.9zM43.6 18.5h0.9v0.9h-0.9zM42.7 14.0h0.9v0.9h-0.9zM28.4 58.6h0.9v0.9h-0.9zM42.2 37.1h0.9v0.9h-0.9zM40.8 43.0h0.9v0.9h-0.9zM41.8 30.6h0.9v0.9h-0.9zM43.1 30.2h0.9v0.9h-0.9zM38.3 14.6h0.9v0.9h-0.9zM42.0 46.4h0.9v0.9h-0.9zM5.1 60.1h0.9v0.9h-0.9zM38.8 52.6h0.9v0.9h-0.9zM41.5 20.7h0.9v0.9h-0.9zM40.3 52.1h0.9v0.9h-0.9zM9.2 22.8h0.9v0.9h-0.9zM32.6 56.7h0.9v0.9h-0.9zM1.6 59.5h0.9v0.9h-0.9zM16.0 19.6h0.9v0.9h-0.9zM40.5 47.0h0.9v0.9h-0.9zM27.6 16.4h0.9v0.9h-0.9zM47.6 39.3h0.9v0.9h-0.9zM42.1 16.5h0.9v0.9h-0.9zM1.9 29.4h0.9v0.9h-0.9zM11.5 24.1h0.9v0.9h-0.9zM41.1 49.4h0.9v0.9h-0.9zM37.0 54.1h0.9v0.9h-0.9zM43.7 38.8h0.9v0.9h-0.9zM34.5 59.5h0.9v0.9h-0.9zM4.0 28.6h0.9v0.9h-0.9zM40.6 11.5h0.9v0.9h-0.9zM47.6 32.6h0.9v0.9h-0.9zM49.1 19.6h0.9v0.9h-0.9zM13.9 14.6h0.9v0.9h-0.9zM32.9 56.6h0.9v0.9h-0.9zM18.3 17.4h0.9v0.9h-0.9zM29.1 14.8h0.9v0.9h-0.9zM41.7 30.2h0.9v0.9h-0.9zM46.6 24.5h0.9v0.9h-0.9zM7.3 59.2h0.9v0.9h-0.9zM23.4 59.7h0.9v0.9h-0.9zM1.1 33.2h0.9v0.9h-0.9zM42.5 43.1h0.9v0.9h-0.9zM43.5 36.6h0.9v0.9h-0.9zM45.2 37.4h0.9v0.9h-0.9zM22.3 59.6h0.9v0.9h-0.9zM39.0 15.7h0.9v0.9h-0.9zM43.7 39.2h0.9v0.9h-0.9zM41.3 42.0h0.9v0.9h-0.9zM27.4 15.1h0.9v0.9h-0.9zM42.3 45.8h0.9v0.9h-0.9zM45.4 26.7h0.9v0.9h-0.9zM5.6 26.4h0.9v0.9h-0.9zM35.2 14.8h0.9v0.9h-0.9zM43.8 18.5h0.9v0.9h-0.9zM30.0 15.8h0.9v0.9h-0.9zM44.5 38.9h0.9v0.9h-0.9zM6.2 26.0h0.9v0.9h-0.9zM38.3 48.5h0.9v0.9h-0.9zM4.8 29.8h0.9v0.9h-0.9zM41.3 43.5h0.9v0.9h-0.9zM33.5 14.6h0.9v0.9h-0.9zM37.5 59.0h0.9v0.9h-0.9zM41.9 28.9h0.9v0.9h-0.9zM36.9 56.8h0.9v0.9h-0.9zM18.4 19.1h0.9v0.9h-0.9zM39.4 16.0h0.9v0.9h-0.9zM7.7 26.6h0.9v0.9h-0.9zM0.7 32.1h0.9v0.9h-0.9zM39.3 14.6h0.9v0.9h-0.9zM38.5 51.2h0.9v0.9h-0.9zM42.4 50.3h0.9v0.9h-0.9zM34.4 57.2h0.9v0.9h-0.9zM41.5 36.3h0.9v0.9h-0.9zM32.8 56.8h0.9v0.9h-0.9zM43.8 33.7h0.9v0.9h-0.9zM36.8 52.1h0.9v0.9h-0.9z" fill="#3b6cc0"/></g><path d="M0.4 35 7 28.52 14 22.759999999999998 22 17.2 30 16.2 37.5 15.4 40.2 17.9 41 30 40.3 43 37.2 51.5 31 58.3 0.4 59.4Z" fill="#1d4ba2" stroke="#1d4ba2" stroke-width="0.8" stroke-linejoin="round" filter="url(#b0)"/><g filter="url(#b0)"><path d="M14.3 23.4h0.9v0.9h-0.9zM26.3 19.3h0.9v0.9h-0.9zM11.6 41.9h0.9v0.9h-0.9zM1.4 40.9h0.9v0.9h-0.9zM12.8 37.2h0.9v0.9h-0.9zM3.1 35.0h0.9v0.9h-0.9zM2.9 34.4h0.9v0.9h-0.9zM15.9 22.7h0.9v0.9h-0.9zM15.9 31.0h0.9v0.9h-0.9zM31.6 19.2h0.9v0.9h-0.9zM9.2 28.4h0.9v0.9h-0.9zM20.7 39.8h0.9v0.9h-0.9zM5.2 37.7h0.9v0.9h-0.9zM27.6 17.0h0.9v0.9h-0.9zM25.5 27.2h0.9v0.9h-0.9zM18.5 22.1h0.9v0.9h-0.9zM5.9 33.0h0.9v0.9h-0.9zM5.4 33.9h0.9v0.9h-0.9zM1.4 39.8h0.9v0.9h-0.9zM24.3 17.3h0.9v0.9h-0.9zM13.8 24.2h0.9v0.9h-0.9zM2.7 39.2h0.9v0.9h-0.9zM2.0 39.6h0.9v0.9h-0.9zM28.6 20.1h0.9v0.9h-0.9zM4.0 37.3h0.9v0.9h-0.9zM19.4 19.4h0.9v0.9h-0.9zM26.4 24.0h0.9v0.9h-0.9zM1.3 40.8h0.9v0.9h-0.9zM8.2 28.2h0.9v0.9h-0.9zM10.4 27.2h0.9v0.9h-0.9zM25.1 20.0h0.9v0.9h-0.9zM29.0 16.6h0.9v0.9h-0.9zM9.8 28.1h0.9v0.9h-0.9zM14.6 23.4h0.9v0.9h-0.9zM31.5 16.3h0.9v0.9h-0.9zM14.7 29.7h0.9v0.9h-0.9zM12.8 29.8h0.9v0.9h-0.9zM6.0 31.0h0.9v0.9h-0.9zM9.7 29.1h0.9v0.9h-0.9zM29.9 17.2h0.9v0.9h-0.9zM31.1 20.1h0.9v0.9h-0.9zM19.1 19.7h0.9v0.9h-0.9zM26.7 18.1h0.9v0.9h-0.9zM30.7 26.4h0.9v0.9h-0.9zM2.5 39.8h0.9v0.9h-0.9zM26.6 20.2h0.9v0.9h-0.9zM20.1 19.3h0.9v0.9h-0.9zM2.8 32.8h0.9v0.9h-0.9zM5.8 31.0h0.9v0.9h-0.9zM7.9 34.1h0.9v0.9h-0.9zM1.2 36.6h0.9v0.9h-0.9zM18.3 21.3h0.9v0.9h-0.9zM9.2 31.8h0.9v0.9h-0.9zM19.7 29.9h0.9v0.9h-0.9zM9.7 29.6h0.9v0.9h-0.9zM30.8 22.5h0.9v0.9h-0.9zM13.0 30.5h0.9v0.9h-0.9zM19.6 25.9h0.9v0.9h-0.9zM6.7 38.7h0.9v0.9h-0.9zM27.2 23.6h0.9v0.9h-0.9zM26.6 19.9h0.9v0.9h-0.9zM18.1 21.2h0.9v0.9h-0.9zM28.0 17.6h0.9v0.9h-0.9zM19.3 23.9h0.9v0.9h-0.9zM20.9 26.1h0.9v0.9h-0.9zM25.2 19.1h0.9v0.9h-0.9zM31.6 34.2h0.9v0.9h-0.9zM5.4 34.3h0.9v0.9h-0.9zM27.2 17.2h0.9v0.9h-0.9zM32.0 19.8h0.9v0.9h-0.9zM1.7 41.8h0.9v0.9h-0.9zM8.3 27.7h0.9v0.9h-0.9zM7.3 30.1h0.9v0.9h-0.9zM28.8 21.2h0.9v0.9h-0.9zM25.0 21.0h0.9v0.9h-0.9zM26.9 23.1h0.9v0.9h-0.9zM11.5 29.8h0.9v0.9h-0.9zM6.7 30.6h0.9v0.9h-0.9zM24.1 19.3h0.9v0.9h-0.9zM31.2 25.1h0.9v0.9h-0.9zM13.7 36.2h0.9v0.9h-0.9zM30.8 22.7h0.9v0.9h-0.9zM18.2 21.1h0.9v0.9h-0.9zM13.2 27.7h0.9v0.9h-0.9zM7.5 40.9h0.9v0.9h-0.9zM6.8 28.9h0.9v0.9h-0.9zM4.9 38.3h0.9v0.9h-0.9zM9.6 28.8h0.9v0.9h-0.9zM8.7 28.1h0.9v0.9h-0.9zM19.0 24.9h0.9v0.9h-0.9zM22.3 18.6h0.9v0.9h-0.9zM11.6 25.5h0.9v0.9h-0.9zM28.5 28.5h0.9v0.9h-0.9z" fill="#7fa6e0" opacity="0.75"/></g><g transform="translate(1.2,0)"><path d="M1.5 40 Q10 30 22 24 Q31 21 36 26 Q39 34 36.5 45 Q33 54 25 56.5 Q12 57.5 1.5 54 Z" fill="#1f62ba" filter="url(#b2)"/></g><g transform="translate(1.7,0)"><path d="M6 47.5 Q12 40 20 32.5 Q27 27.5 32 31 Q35.5 36 34.3 44 Q32 52.5 26 55.6 Q18 57 11 54 Q5 51 6 47.5Z" fill="#34aee6" filter="url(#b2)"/></g><path transform="translate(25.5,42.7) scale(1.2,1.17)" d="M3.6 -10.6C6.6 -9.8 9.1 -5.3 8.8 -0.8C8.6 4.2 5.6 9.7 0.1 10.6C-4.9 11.2 -9.4 8.2 -8.8 3.7C-8.1 -0.8 -2.9 -9.3 3.6 -10.6Z" fill="#35c4c0" filter="url(#b1)"/><path transform="translate(26.6,43.0) scale(1.0,1.0)" d="M3.6 -10.6C6.6 -9.8 9.1 -5.3 8.8 -0.8C8.6 4.2 5.6 9.7 0.1 10.6C-4.9 11.2 -9.4 8.2 -8.8 3.7C-8.1 -0.8 -2.9 -9.3 3.6 -10.6Z" fill="#52cf48" filter="url(#b1)"/><path transform="translate(27.5,43.7) scale(0.77,0.77)" d="M3.6 -10.6C6.6 -9.8 9.1 -5.3 8.8 -0.8C8.6 4.2 5.6 9.7 0.1 10.6C-4.9 11.2 -9.4 8.2 -8.8 3.7C-8.1 -0.8 -2.9 -9.3 3.6 -10.6Z" fill="#a6dc2c" filter="url(#b1)"/><path transform="translate(28.3,44.4) scale(0.58,0.58)" d="M3.6 -10.6C6.6 -9.8 9.1 -5.3 8.8 -0.8C8.6 4.2 5.6 9.7 0.1 10.6C-4.9 11.2 -9.4 8.2 -8.8 3.7C-8.1 -0.8 -2.9 -9.3 3.6 -10.6Z" fill="#f0e21e" filter="url(#b1)"/><path transform="translate(28.7,44.8) scale(0.4,0.4)" d="M3.6 -10.6C6.6 -9.8 9.1 -5.3 8.8 -0.8C8.6 4.2 5.6 9.7 0.1 10.6C-4.9 11.2 -9.4 8.2 -8.8 3.7C-8.1 -0.8 -2.9 -9.3 3.6 -10.6Z" fill="#f79a1a" filter="url(#b1)"/><path transform="translate(28.8,45) scale(0.22,0.22)" d="M3.6 -10.6C6.6 -9.8 9.1 -5.3 8.8 -0.8C8.6 4.2 5.6 9.7 0.1 10.6C-4.9 11.2 -9.4 8.2 -8.8 3.7C-8.1 -0.8 -2.9 -9.3 3.6 -10.6Z" fill="#f02a1c" filter="url(#b0)"/><g filter="url(#b0)"><path d="M47.9 34.8h1.0v1.0h-1.0zM84.0 19.8h1.0v1.0h-1.0zM74.7 28.9h1.0v1.0h-1.0zM58.6 31.2h1.0v1.0h-1.0zM64.9 36.5h1.0v1.0h-1.0zM56.2 26.1h1.0v1.0h-1.0zM54.4 28.5h1.0v1.0h-1.0zM79.0 39.7h1.0v1.0h-1.0zM62.7 23.9h1.0v1.0h-1.0zM72.9 38.8h1.0v1.0h-1.0zM53.5 27.9h1.0v1.0h-1.0zM65.9 30.2h1.0v1.0h-1.0zM48.5 26.8h1.0v1.0h-1.0zM68.1 26.6h1.0v1.0h-1.0zM64.1 33.1h1.0v1.0h-1.0zM51.1 24.5h1.0v1.0h-1.0zM71.4 12.7h1.0v1.0h-1.0zM58.0 13.1h1.0v1.0h-1.0zM74.6 29.5h1.0v1.0h-1.0zM57.1 42.8h1.0v1.0h-1.0zM55.1 20.7h1.0v1.0h-1.0zM55.2 37.6h1.0v1.0h-1.0zM49.7 53.3h1.0v1.0h-1.0zM70.4 38.5h1.0v1.0h-1.0zM68.5 25.9h1.0v1.0h-1.0zM66.3 24.5h1.0v1.0h-1.0zM52.1 18.5h1.0v1.0h-1.0zM51.2 35.0h1.0v1.0h-1.0zM67.5 35.5h1.0v1.0h-1.0zM74.9 12.1h1.0v1.0h-1.0zM77.8 22.7h1.0v1.0h-1.0zM61.9 19.7h1.0v1.0h-1.0zM63.0 14.4h1.0v1.0h-1.0zM73.6 18.8h1.0v1.0h-1.0zM53.8 23.5h1.0v1.0h-1.0zM55.5 30.8h1.0v1.0h-1.0zM53.3 33.9h1.0v1.0h-1.0zM48.9 24.3h1.0v1.0h-1.0zM65.2 41.3h1.0v1.0h-1.0zM48.4 25.0h1.0v1.0h-1.0zM77.0 20.6h1.0v1.0h-1.0zM58.7 38.0h1.0v1.0h-1.0zM65.7 44.4h1.0v1.0h-1.0zM59.8 37.8h1.0v1.0h-1.0zM72.2 27.2h1.0v1.0h-1.0zM59.2 20.4h1.0v1.0h-1.0zM57.4 47.0h1.0v1.0h-1.0zM51.2 35.8h1.0v1.0h-1.0zM49.9 22.4h1.0v1.0h-1.0zM53.0 38.4h1.0v1.0h-1.0zM61.2 30.2h1.0v1.0h-1.0zM59.5 12.3h1.0v1.0h-1.0zM60.0 11.8h1.0v1.0h-1.0zM81.9 39.1h1.0v1.0h-1.0zM65.4 31.2h1.0v1.0h-1.0zM48.8 44.5h1.0v1.0h-1.0zM48.0 31.2h1.0v1.0h-1.0zM62.0 33.5h1.0v1.0h-1.0zM57.6 23.9h1.0v1.0h-1.0zM59.0 34.6h1.0v1.0h-1.0zM55.6 23.7h1.0v1.0h-1.0zM54.4 20.1h1.0v1.0h-1.0zM77.4 25.8h1.0v1.0h-1.0zM46.7 29.6h1.0v1.0h-1.0zM47.6 26.0h1.0v1.0h-1.0zM66.2 12.7h1.0v1.0h-1.0zM48.3 34.0h1.0v1.0h-1.0zM73.0 11.7h1.0v1.0h-1.0zM66.7 26.9h1.0v1.0h-1.0zM49.5 48.4h1.0v1.0h-1.0zM59.8 33.9h1.0v1.0h-1.0zM58.5 15.8h1.0v1.0h-1.0zM51.6 36.5h1.0v1.0h-1.0zM54.2 41.1h1.0v1.0h-1.0zM73.8 32.0h1.0v1.0h-1.0zM78.2 29.4h1.0v1.0h-1.0zM49.7 28.6h1.0v1.0h-1.0zM71.9 37.5h1.0v1.0h-1.0zM50.6 38.1h1.0v1.0h-1.0zM55.2 20.3h1.0v1.0h-1.0zM60.9 13.4h1.0v1.0h-1.0zM48.3 55.1h1.0v1.0h-1.0zM58.5 32.4h1.0v1.0h-1.0zM82.1 48.0h1.0v1.0h-1.0zM68.6 28.0h1.0v1.0h-1.0zM53.0 18.4h1.0v1.0h-1.0zM49.7 30.2h1.0v1.0h-1.0zM52.4 17.8h1.0v1.0h-1.0zM55.3 25.4h1.0v1.0h-1.0zM63.3 37.9h1.0v1.0h-1.0zM76.0 17.3h1.0v1.0h-1.0zM80.9 33.8h1.0v1.0h-1.0zM49.3 36.0h1.0v1.0h-1.0zM68.9 37.7h1.0v1.0h-1.0zM66.3 43.2h1.0v1.0h-1.0zM55.1 18.3h1.0v1.0h-1.0zM59.0 38.7h1.0v1.0h-1.0zM54.9 34.8h1.0v1.0h-1.0zM49.9 21.9h1.0v1.0h-1.0z" fill="#9aa8cc"/><path d="M47.5 31.0h1.0v1.0h-1.0zM54.1 12.3h1.0v1.0h-1.0zM50.1 36.5h1.0v1.0h-1.0zM46.6 39.5h1.0v1.0h-1.0zM52.2 21.9h1.0v1.0h-1.0zM48.3 35.3h1.0v1.0h-1.0zM50.7 28.1h1.0v1.0h-1.0zM51.1 23.8h1.0v1.0h-1.0zM43.2 45.8h1.0v1.0h-1.0zM48.9 34.3h1.0v1.0h-1.0zM48.3 33.0h1.0v1.0h-1.0zM51.8 28.3h1.0v1.0h-1.0zM54.1 16.8h1.0v1.0h-1.0zM51.3 32.5h1.0v1.0h-1.0zM50.1 36.6h1.0v1.0h-1.0zM46.6 32.6h1.0v1.0h-1.0z" fill="#5f7fc0"/></g><path d="M50.5 9.8 H84.7 V70.6 H38 Z" fill="none" stroke="#c6a3ca" stroke-width="0.65"/><text x="65.5" y="9.9" font-size="7.6" text-anchor="middle" fill="#ab6db0">0.0653</text><path d="M0 -0.5H86.6V74.2" fill="none" stroke="#7a7a7a" stroke-width="0.75"/><path d="M0 -0.5V74.2H86.6" fill="none" stroke="#222" stroke-width="0.9"/><line x1="-1.6" y1="74.10" x2="0" y2="74.10" stroke="#333" stroke-width="0.6"/><text x="-1.3" y="76.00" font-size="4.8" text-anchor="end" fill="#000" stroke="#000" stroke-width="0.15">0</text><line x1="-1.6" y1="60.53" x2="0" y2="60.53" stroke="#333" stroke-width="0.6"/><text x="-1.3" y="62.43" font-size="4.8" text-anchor="end" fill="#000" stroke="#000" stroke-width="0.15">50K</text><line x1="-1.6" y1="46.31" x2="0" y2="46.31" stroke="#333" stroke-width="0.6"/><text x="-1.3" y="48.21" font-size="4.8" text-anchor="end" fill="#000" stroke="#000" stroke-width="0.15">100K</text><line x1="-1.6" y1="32.09" x2="0" y2="32.09" stroke="#333" stroke-width="0.6"/><text x="-1.3" y="33.99" font-size="4.8" text-anchor="end" fill="#000" stroke="#000" stroke-width="0.15">150K</text><line x1="-1.6" y1="17.87" x2="0" y2="17.87" stroke="#333" stroke-width="0.6"/><text x="-1.3" y="19.77" font-size="4.8" text-anchor="end" fill="#000" stroke="#000" stroke-width="0.15">200K</text><line x1="-1.6" y1="3.65" x2="0" y2="3.65" stroke="#333" stroke-width="0.6"/><text x="-1.3" y="5.55" font-size="4.8" text-anchor="end" fill="#000" stroke="#000" stroke-width="0.15">250K</text><line x1="9" y1="74.2" x2="9" y2="76.0" stroke="#333" stroke-width="0.6"/><line x1="28" y1="74.2" x2="28" y2="76.0" stroke="#333" stroke-width="0.6"/><line x1="47" y1="74.2" x2="47" y2="76.0" stroke="#333" stroke-width="0.6"/><line x1="66" y1="74.2" x2="66" y2="76.0" stroke="#333" stroke-width="0.6"/><line x1="84" y1="74.2" x2="84" y2="76.0" stroke="#333" stroke-width="0.6"/><path d="M2 74.2v1M5 74.2v1M8 74.2v1M11 74.2v1M14 74.2v1M17 74.2v1M20 74.2v1M23 74.2v1M26 74.2v1M29 74.2v1M32 74.2v1M35 74.2v1M38 74.2v1M41 74.2v1M44 74.2v1M47 74.2v1M50 74.2v1M53 74.2v1M56 74.2v1M59 74.2v1M62 74.2v1M65 74.2v1M68 74.2v1M71 74.2v1M74 74.2v1M77 74.2v1M80 74.2v1M83 74.2v1" stroke="#666" stroke-width="0.35" fill="none"/><text x="10" y="82.4" font-size="5.2" text-anchor="middle" fill="#000" stroke="#000" stroke-width="0.2">0</text><text x="19.0" y="82.4" font-size="5.2" text-anchor="middle" fill="#000" stroke="#000" stroke-width="0.2" textLength="6.6" lengthAdjust="spacingAndGlyphs">10<tspan dy="-2.2" font-size="2.8">2</tspan></text><text x="39.6" y="82.4" font-size="5.2" text-anchor="middle" fill="#000" stroke="#000" stroke-width="0.2" textLength="6.6" lengthAdjust="spacingAndGlyphs">10<tspan dy="-2.2" font-size="2.8">3</tspan></text><text x="60.4" y="82.4" font-size="5.2" text-anchor="middle" fill="#000" stroke="#000" stroke-width="0.2" textLength="6.6" lengthAdjust="spacingAndGlyphs">10<tspan dy="-2.2" font-size="2.8">4</tspan></text><text x="78.7" y="82.4" font-size="5.2" text-anchor="middle" fill="#000" stroke="#000" stroke-width="0.2" textLength="6.6" lengthAdjust="spacingAndGlyphs">10<tspan dy="-2.2" font-size="2.8">5</tspan></text></g>
<path d="M53.9 458.9 V285" stroke="#555" stroke-width="1.05" fill="none"/><path d="M53.9 280.3 L57.1 286 H50.7 Z" fill="#000"/>
<path d="M77.3 480 H418" stroke="#555" stroke-width="1.05" fill="none"/><path d="M423.8 480 L418 483.1 V476.9 Z" fill="#000"/>
<text transform="translate(46.8,379.0) rotate(-90)" font-size="10" font-weight="bold" textLength="15" lengthAdjust="spacingAndGlyphs" fill="#000" stroke="#000" stroke-width="0.35">SSC</text>
<text x="236.3" y="492.7" font-size="8.6" font-weight="bold" textLength="24.5" lengthAdjust="spacingAndGlyphs" fill="#000">IFN-γ</text>
<text x="444.2" y="323.7" font-size="8.7" font-weight="bold" textLength="35.3" lengthAdjust="spacingAndGlyphs" fill="#000">α-CD21</text>
<text x="444.2" y="428.7" font-size="8.7" font-weight="bold" textLength="64.9" lengthAdjust="spacingAndGlyphs" fill="#000">α-CD21-5H11</text>
</svg></body></html>
